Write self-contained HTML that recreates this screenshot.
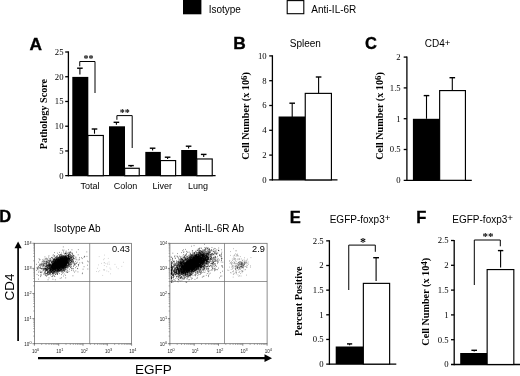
<!DOCTYPE html><html><head><meta charset="utf-8"><title>Figure</title><style>html,body{margin:0;padding:0;background:#fff}svg{display:block;filter:blur(0.3px)}text{font-family:"Liberation Sans",sans-serif;fill:#000}.s{font-family:"Liberation Serif",serif}.sb{font-family:"Liberation Serif",serif;font-weight:bold}.b{font-weight:bold}</style></head><body>
<svg width="520" height="376" viewBox="0 0 520 376">
<rect width="520" height="376" fill="#fff"/>
<rect x="183" y="0" width="18.4" height="14.3" fill="#000"/>
<rect x="287.2" y="0.6" width="16.6" height="13.1" fill="#fff" stroke="#000" stroke-width="1.1"/>
<text x="208.7" y="12.6" font-size="10">Isotype</text>
<text x="311.3" y="12.6" font-size="10">Anti-IL-6R</text>
<text transform="translate(29.6 50) scale(1.05 1)" font-size="16.5" class="b" stroke="#000" stroke-width="0.35">A</text>
<path d="M68.4 51.35L68.4 176.35" stroke="#000" stroke-width="1.3" fill="none"/>
<path d="M65.2 175.7L215.6 175.7" stroke="#000" stroke-width="1.3" fill="none"/>
<text x="63.5" y="178.6" font-size="8.7" class="s" text-anchor="end">0</text>
<path d="M65.2 150.96L68.4 150.96" stroke="#000" stroke-width="1.3" fill="none"/>
<text x="63.5" y="153.86" font-size="8.7" class="s" text-anchor="end">5</text>
<path d="M65.2 126.22L68.4 126.22" stroke="#000" stroke-width="1.3" fill="none"/>
<text x="63.5" y="129.12" font-size="8.7" class="s" text-anchor="end">10</text>
<path d="M65.2 101.48L68.4 101.48" stroke="#000" stroke-width="1.3" fill="none"/>
<text x="63.5" y="104.38" font-size="8.7" class="s" text-anchor="end">15</text>
<path d="M65.2 76.74L68.4 76.74" stroke="#000" stroke-width="1.3" fill="none"/>
<text x="63.5" y="79.64" font-size="8.7" class="s" text-anchor="end">20</text>
<path d="M65.2 52L68.4 52" stroke="#000" stroke-width="1.3" fill="none"/>
<text x="63.5" y="54.9" font-size="8.7" class="s" text-anchor="end">25</text>
<text transform="translate(47.4 114) rotate(-90)" font-size="10.2" class="sb" text-anchor="middle">Pathology Score</text>
<rect x="72.3" y="76.9" width="16" height="98.8" fill="#000"/>
<rect x="87.95" y="135.47" width="15.38" height="40.22" fill="#fff" stroke="#000" stroke-width="1.15"/>
<rect x="109" y="126.3" width="16" height="49.4" fill="#000"/>
<rect x="124.65" y="168.28" width="14.58" height="7.42" fill="#fff" stroke="#000" stroke-width="1.15"/>
<rect x="145.3" y="151.9" width="15.5" height="23.8" fill="#000"/>
<rect x="160.45" y="160.57" width="15.17" height="15.12" fill="#fff" stroke="#000" stroke-width="1.15"/>
<rect x="181.2" y="150" width="16" height="25.7" fill="#000"/>
<rect x="196.85" y="158.97" width="15.38" height="16.72" fill="#fff" stroke="#000" stroke-width="1.15"/>
<path d="M79.9 68.2L79.9 74.5" stroke="#000" stroke-width="1.1" fill="none"/>
<path d="M77.1 68.2L82.7 68.2" stroke="#000" stroke-width="1.4" fill="none"/>
<path d="M94.5 129L94.5 133.7" stroke="#000" stroke-width="1.1" fill="none"/>
<path d="M91.7 129L97.3 129" stroke="#000" stroke-width="1.4" fill="none"/>
<path d="M116.4 122.3L116.4 124.8" stroke="#000" stroke-width="1.1" fill="none"/>
<path d="M113.6 122.3L119.2 122.3" stroke="#000" stroke-width="1.4" fill="none"/>
<path d="M131 165.6L131 167" stroke="#000" stroke-width="1.1" fill="none"/>
<path d="M128.2 165.6L133.8 165.6" stroke="#000" stroke-width="1.4" fill="none"/>
<path d="M152.6 148.2L152.6 150.4" stroke="#000" stroke-width="1.1" fill="none"/>
<path d="M149.8 148.2L155.4 148.2" stroke="#000" stroke-width="1.4" fill="none"/>
<path d="M167.6 157.2L167.6 159" stroke="#000" stroke-width="1.1" fill="none"/>
<path d="M164.8 157.2L170.4 157.2" stroke="#000" stroke-width="1.4" fill="none"/>
<path d="M188.6 146.2L188.6 148.6" stroke="#000" stroke-width="1.1" fill="none"/>
<path d="M185.8 146.2L191.4 146.2" stroke="#000" stroke-width="1.4" fill="none"/>
<path d="M203.7 154.4L203.7 157" stroke="#000" stroke-width="1.1" fill="none"/>
<path d="M200.9 154.4L206.5 154.4" stroke="#000" stroke-width="1.4" fill="none"/>
<path d="M79.75 66.3L79.75 61.5L95 61.5L95 93" stroke="#000" stroke-width="1.0" fill="none"/>
<path d="M116.9 119.8L116.9 115.6L132.2 115.6L132.2 148" stroke="#000" stroke-width="1.0" fill="none"/>
<text x="88.4" y="61.6" font-size="10" class="sb" text-anchor="middle">**</text>
<text x="124.8" y="115.8" font-size="10" class="sb" text-anchor="middle">**</text>
<text x="90" y="188.7" font-size="9" text-anchor="middle">Total</text>
<text x="125.6" y="188.7" font-size="9" text-anchor="middle">Colon</text>
<text x="162.2" y="188.7" font-size="9" text-anchor="middle">Liver</text>
<text x="198" y="188.7" font-size="9" text-anchor="middle">Lung</text>
<text transform="translate(233.2 49) scale(1.05 1)" font-size="16.5" class="b" stroke="#000" stroke-width="0.35">B</text>
<text x="289.8" y="46.8" font-size="10">Spleen</text>
<path d="M272.4 55.25L272.4 180.55" stroke="#000" stroke-width="1.3" fill="none"/>
<path d="M269.2 179.9L337.5 179.9" stroke="#000" stroke-width="1.3" fill="none"/>
<text x="266.7" y="182.8" font-size="8.7" class="s" text-anchor="end">0</text>
<path d="M269.2 155.1L272.4 155.1" stroke="#000" stroke-width="1.3" fill="none"/>
<text x="266.7" y="158" font-size="8.7" class="s" text-anchor="end">2</text>
<path d="M269.2 130.3L272.4 130.3" stroke="#000" stroke-width="1.3" fill="none"/>
<text x="266.7" y="133.2" font-size="8.7" class="s" text-anchor="end">4</text>
<path d="M269.2 105.5L272.4 105.5" stroke="#000" stroke-width="1.3" fill="none"/>
<text x="266.7" y="108.4" font-size="8.7" class="s" text-anchor="end">6</text>
<path d="M269.2 80.7L272.4 80.7" stroke="#000" stroke-width="1.3" fill="none"/>
<text x="266.7" y="83.6" font-size="8.7" class="s" text-anchor="end">8</text>
<path d="M269.2 55.9L272.4 55.9" stroke="#000" stroke-width="1.3" fill="none"/>
<text x="266.7" y="58.8" font-size="8.7" class="s" text-anchor="end">10</text>
<text transform="translate(248.7 116) rotate(-90)" font-size="10.2" class="sb" text-anchor="middle">Cell Number (x 10<tspan font-size="8.8" dy="-2">6</tspan><tspan dy="2">)</tspan></text>
<rect x="278.6" y="116.5" width="27" height="63.4" fill="#000"/>
<rect x="305.25" y="93.38" width="26.17" height="86.52" fill="#fff" stroke="#000" stroke-width="1.15"/>
<path d="M292.2 103.2L292.2 117" stroke="#000" stroke-width="1.1" fill="none"/>
<path d="M289.4 103.2L295 103.2" stroke="#000" stroke-width="1.4" fill="none"/>
<path d="M318.6 77L318.6 93.25" stroke="#000" stroke-width="1.1" fill="none"/>
<path d="M315.8 77L321.4 77" stroke="#000" stroke-width="1.4" fill="none"/>
<text transform="translate(365 49.2) scale(1.0 1)" font-size="16.5" class="b" stroke="#000" stroke-width="0.35">C</text>
<text x="424.8" y="46.8" font-size="10">CD4<tspan font-size="9.6" dy="-1.3">+</tspan></text>
<path d="M406.9 56.45L406.9 180.95" stroke="#000" stroke-width="1.3" fill="none"/>
<path d="M403.7 180.3L471.8 180.3" stroke="#000" stroke-width="1.3" fill="none"/>
<text x="400.7" y="183.2" font-size="8.7" class="s" text-anchor="end">0</text>
<path d="M403.7 149.5L406.9 149.5" stroke="#000" stroke-width="1.3" fill="none"/>
<text x="400.7" y="152.4" font-size="8.7" class="s" text-anchor="end">0.5</text>
<path d="M403.7 118.7L406.9 118.7" stroke="#000" stroke-width="1.3" fill="none"/>
<text x="400.7" y="121.6" font-size="8.7" class="s" text-anchor="end">1</text>
<path d="M403.7 87.9L406.9 87.9" stroke="#000" stroke-width="1.3" fill="none"/>
<text x="400.7" y="90.8" font-size="8.7" class="s" text-anchor="end">1.5</text>
<path d="M403.7 57.1L406.9 57.1" stroke="#000" stroke-width="1.3" fill="none"/>
<text x="400.7" y="60" font-size="8.7" class="s" text-anchor="end">2</text>
<text transform="translate(382.5 116) rotate(-90)" font-size="10.2" class="sb" text-anchor="middle">Cell Number (x 10<tspan font-size="8.8" dy="-2">6</tspan><tspan dy="2">)</tspan></text>
<rect x="412.9" y="118.8" width="27.1" height="61.5" fill="#000"/>
<rect x="439.65" y="90.58" width="25.78" height="89.73" fill="#fff" stroke="#000" stroke-width="1.15"/>
<path d="M426.5 95.6L426.5 118.75" stroke="#000" stroke-width="1.1" fill="none"/>
<path d="M423.7 95.6L429.3 95.6" stroke="#000" stroke-width="1.4" fill="none"/>
<path d="M452.3 77.7L452.3 90.5" stroke="#000" stroke-width="1.1" fill="none"/>
<path d="M449.5 77.7L455.1 77.7" stroke="#000" stroke-width="1.4" fill="none"/>
<text transform="translate(-0.7 222) scale(1.0 1)" font-size="16.5" class="b" stroke="#000" stroke-width="0.35">D</text>
<text x="53.8" y="231.9" font-size="10">Isotype Ab</text>
<text x="184.5" y="231.9" font-size="10">Anti-IL-6R Ab</text>
<text transform="translate(13.5 287) rotate(-90)" font-size="13.5" text-anchor="middle">CD4</text>
<path d="M18.1 247L18.1 341" stroke="#000" stroke-width="1.7" fill="none"/>
<path d="M18.1 241.6L21.7 248.3L14.5 248.3Z" fill="#000"/>
<path d="M38 358.2L266 358.2" stroke="#000" stroke-width="2.3" fill="none"/>
<path d="M272 358.2L264.5 354.3L264.5 362.1Z" fill="#000"/>
<text x="135" y="374.4" font-size="13.5">EGFP</text>
<path d="M53.2 268.5h.7M57.6 263.2h.7M64.4 260.9h.7M61.2 268.8h.7M55.4 262.0h.7M52.4 266.4h.7M64.1 263.7h.7M68.0 264.8h.7M68.9 260.1h.7M67.2 261.3h.7M58.5 267.3h.7M60.0 262.9h.7M70.8 259.5h.7M57.6 264.8h.7M70.9 256.0h.7M64.5 262.9h.7M63.4 263.5h.7M57.0 263.9h.7M58.7 263.2h.7M66.3 265.0h.7M56.6 267.6h.7M54.3 264.8h.7M59.1 264.6h.7M53.9 258.4h.7M66.3 258.7h.7M58.1 267.2h.7M54.9 261.8h.7M63.1 263.1h.7M57.4 268.1h.7M60.1 259.6h.7M68.9 259.0h.7M55.3 268.1h.7M62.2 265.6h.7M55.2 270.2h.7M65.7 262.5h.7M65.0 265.0h.7M63.7 261.7h.7M57.7 268.9h.7M65.2 261.4h.7M61.9 264.9h.7M48.4 271.9h.7M48.4 271.7h.7M68.1 265.1h.7M58.4 266.1h.7M56.2 258.2h.7M63.5 261.3h.7M58.9 261.0h.7M59.9 263.9h.7M66.6 260.5h.7M76.2 252.1h.7M58.6 264.2h.7M58.5 269.8h.7M61.1 258.5h.7M62.3 266.1h.7M53.4 268.2h.7M62.5 270.1h.7M61.4 261.3h.7M60.2 270.0h.7M61.3 270.7h.7M52.2 267.8h.7M57.8 262.5h.7M60.1 265.9h.7M54.6 262.0h.7M68.8 263.2h.7M57.2 266.4h.7M49.2 273.9h.7M52.7 266.2h.7M68.4 253.9h.7M58.4 260.8h.7M49.3 266.2h.7M59.3 259.5h.7M58.3 267.2h.7M57.2 260.8h.7M67.4 259.4h.7M65.1 256.7h.7M66.0 255.1h.7M50.9 267.8h.7M58.6 265.3h.7M58.3 266.8h.7M65.4 257.9h.7M52.7 266.7h.7M65.2 263.1h.7M56.8 262.2h.7M61.4 266.0h.7M58.6 269.0h.7M61.5 263.6h.7M59.1 268.9h.7M57.9 259.7h.7M63.3 260.1h.7M65.4 260.8h.7M57.2 265.9h.7M56.3 263.0h.7M61.4 265.6h.7M60.2 263.1h.7M58.2 266.7h.7M62.8 265.1h.7M65.1 267.8h.7M52.3 268.2h.7M63.9 264.2h.7M50.7 265.1h.7M61.4 266.3h.7M62.9 256.5h.7M62.4 266.1h.7M58.5 260.9h.7M54.4 262.4h.7M65.3 259.3h.7M56.5 262.7h.7M57.9 261.7h.7M55.2 266.4h.7M59.6 265.4h.7M62.5 266.1h.7M60.2 264.4h.7M59.8 260.9h.7M64.8 258.6h.7M54.3 271.4h.7M62.2 260.2h.7M66.0 263.1h.7M61.5 258.6h.7M59.2 260.5h.7M56.1 264.0h.7M56.7 267.3h.7M57.1 267.5h.7M59.8 261.6h.7M61.8 264.8h.7M65.0 259.5h.7M69.2 259.8h.7M63.8 256.5h.7M56.8 269.8h.7M59.6 265.4h.7M63.5 256.4h.7M65.1 267.0h.7M63.9 261.4h.7M62.7 261.9h.7M65.7 264.5h.7M59.8 265.7h.7M62.6 264.5h.7M62.3 258.4h.7M66.9 262.2h.7M54.3 266.1h.7M52.5 267.2h.7M59.7 259.7h.7M54.9 263.7h.7M55.4 263.7h.7M55.7 268.2h.7M57.7 262.2h.7M63.8 259.2h.7M62.3 257.8h.7M66.0 258.3h.7M56.1 267.4h.7M51.9 264.9h.7M60.3 261.7h.7M62.1 262.7h.7M61.4 263.2h.7M63.4 261.5h.7M66.7 262.6h.7M47.8 265.1h.7M66.7 257.8h.7M60.7 262.7h.7M64.7 268.2h.7M56.7 265.9h.7M58.3 260.9h.7M55.4 265.5h.7M60.5 264.6h.7M48.2 265.6h.7M67.5 258.2h.7M63.2 260.1h.7M59.8 270.9h.7M52.6 265.0h.7M63.2 261.6h.7M52.3 268.8h.7M61.1 257.6h.7M58.5 267.2h.7M65.5 252.1h.7M56.7 265.7h.7M54.2 264.1h.7M58.3 266.3h.7M56.2 268.9h.7M65.2 263.2h.7M66.5 257.7h.7M61.2 266.2h.7M67.4 262.1h.7M57.0 263.7h.7M53.0 266.4h.7M54.9 265.0h.7M59.4 266.8h.7M63.9 260.9h.7M54.4 266.9h.7M63.3 264.4h.7M62.2 265.0h.7M57.8 267.1h.7M62.9 260.5h.7M58.2 268.9h.7M56.2 268.2h.7M58.1 263.5h.7M58.0 263.2h.7M62.5 268.1h.7M66.6 258.9h.7M63.6 264.4h.7M60.7 269.4h.7M61.0 265.0h.7M53.7 263.7h.7M54.2 265.0h.7M64.4 259.7h.7M63.5 259.9h.7M55.6 266.8h.7M55.5 260.7h.7M62.0 266.4h.7M57.1 261.2h.7M54.4 262.8h.7M57.3 262.0h.7M59.7 264.3h.7M64.4 256.8h.7M52.7 273.7h.7M61.4 261.4h.7M60.9 259.8h.7M59.3 266.3h.7M58.6 264.8h.7M62.2 262.6h.7M59.6 265.6h.7M68.2 262.8h.7M56.9 268.1h.7M48.7 265.8h.7M62.7 263.7h.7M63.8 255.3h.7M64.2 259.0h.7M58.4 266.1h.7M65.2 257.1h.7M50.9 267.2h.7M61.2 266.9h.7M61.2 261.8h.7M56.8 263.9h.7M62.0 256.6h.7M55.3 263.5h.7M65.4 260.6h.7M57.9 267.4h.7M70.8 260.3h.7M53.4 266.9h.7M62.5 255.8h.7M53.4 266.2h.7M61.1 260.0h.7M60.4 262.7h.7M59.6 259.7h.7M46.0 264.9h.7M62.2 265.5h.7M59.7 258.2h.7M51.2 268.0h.7M52.7 261.8h.7M55.9 263.4h.7M59.9 264.9h.7M61.0 263.5h.7M62.2 261.8h.7M57.2 264.1h.7M65.0 259.4h.7M66.2 265.3h.7M64.8 253.1h.7M62.0 265.6h.7M56.6 263.2h.7M52.0 266.2h.7M56.9 259.0h.7M58.5 261.6h.7M58.2 260.9h.7M60.4 263.7h.7M55.5 264.0h.7M65.3 262.3h.7M56.8 267.0h.7M53.5 265.7h.7M45.1 270.9h.7M62.3 260.4h.7M61.6 260.3h.7M61.0 262.3h.7M58.4 271.6h.7M53.7 262.8h.7M61.1 264.4h.7M61.3 262.3h.7M63.4 264.5h.7M60.6 258.4h.7M67.9 258.4h.7M51.3 271.7h.7M59.5 264.7h.7M68.4 256.4h.7M55.3 263.0h.7M61.7 264.7h.7M61.9 262.8h.7M50.1 270.5h.7M64.1 259.1h.7M55.7 262.7h.7M58.5 259.0h.7M68.6 257.4h.7M55.1 262.4h.7M63.8 264.4h.7M57.4 265.7h.7M62.7 265.1h.7M64.6 264.8h.7M57.1 274.2h.7M55.7 262.3h.7M56.0 267.3h.7M67.2 267.3h.7M64.4 258.1h.7M57.5 263.5h.7M56.7 264.9h.7M58.7 268.3h.7M62.3 264.1h.7M57.3 261.2h.7M61.3 261.3h.7M71.1 260.7h.7M52.5 264.8h.7M56.9 264.7h.7M65.0 259.8h.7M61.5 261.4h.7M60.7 267.3h.7M62.9 268.4h.7M60.2 264.7h.7M62.7 264.0h.7M67.9 256.2h.7M55.9 262.8h.7M69.1 259.4h.7M62.7 263.4h.7M52.2 271.0h.7M60.9 264.0h.7M60.1 263.1h.7M58.6 262.4h.7M59.7 265.8h.7M51.1 271.9h.7M61.2 259.1h.7M62.7 262.8h.7M59.9 269.3h.7M60.5 262.7h.7M57.0 272.8h.7M61.3 263.7h.7M61.9 269.4h.7M61.5 267.9h.7M66.3 262.9h.7M64.6 264.5h.7M56.1 258.8h.7M48.8 274.3h.7M52.1 273.0h.7M71.6 249.8h.7M63.4 262.9h.7M53.4 260.8h.7M62.0 268.0h.7M59.3 263.9h.7M60.3 263.4h.7M64.7 268.3h.7M52.9 261.7h.7M63.0 259.8h.7M55.3 261.7h.7M58.3 263.1h.7M61.2 261.3h.7M53.7 269.1h.7M56.5 259.2h.7M59.4 266.5h.7M59.0 263.0h.7M61.6 260.3h.7M57.3 266.9h.7M58.1 262.5h.7M61.3 263.6h.7M65.8 263.3h.7M60.2 263.3h.7M55.7 266.8h.7M59.4 266.7h.7M64.6 262.8h.7M60.1 264.6h.7M69.6 263.3h.7M52.7 258.4h.7M60.4 258.0h.7M60.8 264.6h.7M66.6 258.7h.7M58.4 262.5h.7M59.4 259.7h.7M63.0 262.8h.7M65.8 258.8h.7M61.7 263.1h.7M58.3 261.3h.7M57.3 265.4h.7M63.8 264.7h.7M57.4 266.0h.7M64.1 263.9h.7M61.3 263.4h.7M58.3 264.7h.7M56.3 259.9h.7M52.8 259.8h.7M63.6 264.3h.7M58.4 265.1h.7M60.2 262.5h.7M66.5 258.8h.7M61.3 262.5h.7M66.8 253.7h.7M58.8 259.7h.7M55.0 263.4h.7M61.9 258.7h.7M54.6 265.8h.7M53.9 264.0h.7M66.3 257.3h.7M58.2 269.3h.7M62.0 266.1h.7M51.7 267.7h.7M62.5 262.7h.7M64.4 265.0h.7M64.3 264.5h.7M62.3 259.5h.7M62.8 266.2h.7M56.2 267.7h.7M64.9 265.0h.7M55.6 274.3h.7M52.6 268.2h.7M69.8 252.8h.7M71.0 257.6h.7M71.2 261.5h.7M59.4 261.2h.7M56.4 261.3h.7M54.0 268.6h.7M53.6 268.8h.7M59.4 263.5h.7M53.1 263.6h.7M62.2 258.9h.7M56.9 264.9h.7M66.1 266.4h.7M70.4 259.7h.7M64.1 263.2h.7M58.6 263.7h.7M52.6 270.1h.7M58.1 266.0h.7M71.8 259.1h.7M66.7 262.3h.7M56.3 263.6h.7M52.1 266.5h.7M61.7 264.8h.7M62.1 261.0h.7M54.6 267.1h.7M58.3 257.8h.7M58.1 259.8h.7M57.5 264.6h.7M54.4 265.2h.7M58.4 261.1h.7M64.1 263.2h.7M60.8 259.4h.7M58.4 263.4h.7M61.6 265.1h.7M57.4 265.2h.7M63.2 260.4h.7M63.2 261.4h.7M53.1 267.7h.7M59.9 262.1h.7M68.3 257.0h.7M52.7 267.5h.7M59.6 265.5h.7M72.0 256.4h.7M62.6 259.4h.7M54.3 264.6h.7M58.2 263.1h.7M58.8 262.0h.7M53.0 265.2h.7M61.8 258.5h.7M66.0 265.3h.7M56.8 268.5h.7M59.7 254.6h.7M64.9 262.7h.7M58.8 270.2h.7M53.4 272.1h.7M59.5 260.3h.7M58.0 259.5h.7M63.5 263.1h.7M67.8 263.4h.7M57.3 266.9h.7M52.4 258.3h.7M66.1 263.6h.7M63.5 267.2h.7M56.9 259.5h.7M57.2 264.3h.7M60.5 261.8h.7M47.3 267.2h.7M60.8 266.8h.7M54.6 262.4h.7M58.9 267.3h.7M64.2 257.5h.7M65.1 264.8h.7M61.9 258.5h.7M61.9 260.6h.7M60.3 269.8h.7M60.4 264.9h.7M68.1 264.0h.7M60.2 261.3h.7M58.5 262.1h.7M59.0 263.7h.7M51.5 266.1h.7M53.0 267.7h.7M64.7 263.0h.7M59.2 260.7h.7M57.4 260.4h.7M60.1 258.1h.7M59.4 269.7h.7M60.3 260.0h.7M57.2 261.7h.7M55.3 264.9h.7M56.1 266.6h.7M63.6 258.3h.7M54.1 264.4h.7M57.0 265.7h.7M55.3 263.4h.7M58.1 268.0h.7M66.0 263.3h.7M59.2 260.7h.7M69.7 265.0h.7M55.7 264.0h.7M66.0 262.1h.7M64.9 267.5h.7M57.7 262.2h.7M58.4 265.2h.7M62.6 266.1h.7M62.3 259.5h.7M63.0 260.9h.7M68.7 261.9h.7M57.8 266.7h.7M54.3 268.6h.7M60.8 264.5h.7M52.7 265.1h.7M56.8 264.7h.7M61.7 259.6h.7M49.3 268.2h.7M64.7 263.4h.7M54.7 269.0h.7M61.4 265.1h.7M62.5 266.2h.7M59.7 271.1h.7M63.2 257.4h.7M53.9 270.8h.7M51.1 266.3h.7M61.8 261.8h.7M57.1 257.8h.7M56.9 267.1h.7M70.2 258.4h.7M60.1 263.8h.7M65.5 262.1h.7M52.4 261.4h.7M58.0 263.3h.7M67.1 256.0h.7M60.2 256.4h.7M61.4 258.1h.7M59.5 263.0h.7M60.1 263.3h.7M55.1 268.5h.7M55.3 266.1h.7M55.5 266.1h.7M58.8 263.5h.7M57.7 269.0h.7M58.9 264.3h.7M50.1 271.6h.7M51.7 267.8h.7M52.7 274.4h.7M50.7 268.2h.7M51.6 264.2h.7M53.4 272.4h.7M69.6 256.9h.7M62.7 260.0h.7M57.2 271.3h.7M60.8 258.9h.7M58.9 263.9h.7M58.0 264.2h.7M56.2 265.4h.7M57.0 264.1h.7M58.2 269.7h.7M57.1 264.4h.7M60.7 262.9h.7M54.6 269.6h.7M52.6 265.6h.7M61.1 261.9h.7M56.0 265.8h.7M54.4 264.7h.7M51.8 264.1h.7M54.7 266.7h.7M56.7 264.8h.7M62.9 259.8h.7M50.6 269.3h.7M63.3 251.2h.7M56.4 261.6h.7M53.4 270.1h.7M59.0 263.7h.7M52.3 266.3h.7M56.3 270.7h.7M56.0 258.8h.7M60.1 268.2h.7M55.2 265.3h.7M59.7 265.0h.7M60.6 260.7h.7M58.6 266.4h.7M53.9 265.8h.7M60.5 262.0h.7M57.2 270.6h.7M59.6 262.4h.7M47.2 275.0h.7M63.6 260.7h.7M58.2 261.5h.7M70.3 259.9h.7M73.5 262.5h.7M51.7 270.6h.7M50.1 270.7h.7M58.7 262.1h.7M62.7 262.0h.7M57.4 264.0h.7M64.5 262.1h.7M64.0 261.9h.7M56.6 263.8h.7M59.5 261.2h.7M57.7 267.5h.7M60.2 262.4h.7M59.9 262.1h.7M65.3 259.3h.7M57.9 260.6h.7M54.2 262.5h.7M62.4 263.7h.7M61.9 260.9h.7M60.3 264.4h.7M55.2 260.6h.7M69.6 259.0h.7M65.1 262.9h.7M56.0 265.7h.7M58.8 267.7h.7M59.3 261.3h.7M65.3 269.4h.7M60.2 264.9h.7M68.1 255.1h.7M62.8 265.7h.7M61.7 260.2h.7M59.6 263.9h.7M65.7 263.3h.7M50.3 269.6h.7M56.6 266.5h.7M58.2 265.7h.7M52.8 268.6h.7M64.1 265.0h.7M67.0 259.0h.7M58.9 268.6h.7M61.9 263.3h.7M60.1 258.3h.7M54.0 264.1h.7M56.7 270.7h.7M50.6 268.7h.7M57.9 261.7h.7M60.2 260.4h.7M50.9 264.7h.7M65.4 258.6h.7M61.4 264.4h.7M60.5 260.5h.7M65.1 263.8h.7M54.2 269.8h.7M63.8 264.7h.7M62.2 261.4h.7M57.1 267.5h.7M62.1 263.5h.7M59.1 267.9h.7M65.7 263.5h.7M57.8 266.8h.7M62.3 257.4h.7M56.6 266.4h.7M52.7 267.7h.7M57.9 259.7h.7M62.5 261.9h.7M65.6 259.8h.7M57.3 265.0h.7M58.9 257.9h.7M59.4 266.3h.7M63.9 262.3h.7M54.4 266.6h.7M61.9 262.3h.7M63.4 267.7h.7M68.2 256.8h.7M55.3 266.5h.7M64.4 257.1h.7M53.3 263.4h.7M64.3 259.1h.7M61.9 267.8h.7M62.3 260.9h.7M55.4 270.1h.7M59.7 262.5h.7M59.9 261.1h.7M61.1 263.5h.7M55.0 267.4h.7M64.9 265.3h.7M67.2 266.1h.7M64.0 260.9h.7M61.6 262.6h.7M55.1 265.8h.7M59.0 260.6h.7M60.5 265.1h.7M67.6 258.3h.7M57.3 262.9h.7M53.1 269.7h.7M56.4 263.5h.7M56.9 270.4h.7M66.9 260.7h.7M56.4 261.7h.7M48.4 268.2h.7M58.4 269.5h.7M55.9 260.5h.7M67.3 261.0h.7M58.5 265.6h.7M62.2 260.6h.7M56.0 266.5h.7M63.5 263.0h.7M53.1 264.5h.7M58.8 262.2h.7M61.2 269.0h.7M51.6 267.8h.7M55.3 267.2h.7M69.2 259.0h.7M64.6 257.5h.7M63.2 266.1h.7M56.9 262.8h.7M54.8 271.7h.7M61.3 267.3h.7M60.8 263.1h.7M64.0 261.7h.7M64.5 258.7h.7M57.1 265.4h.7M57.1 264.6h.7M64.2 262.1h.7M62.0 268.1h.7M52.6 266.1h.7M60.4 266.5h.7M63.5 263.1h.7M66.7 259.0h.7M58.1 268.7h.7M65.6 256.6h.7M56.8 265.1h.7M61.6 262.8h.7M60.8 257.5h.7M55.0 261.3h.7M65.2 263.6h.7M60.9 262.9h.7M59.2 263.7h.7M56.7 267.2h.7M61.7 260.0h.7M63.9 265.9h.7M70.7 264.6h.7M70.4 252.0h.7M56.8 263.9h.7M64.3 265.9h.7M53.7 269.3h.7M63.2 265.7h.7M61.1 260.5h.7M60.3 261.6h.7M58.6 263.4h.7M60.4 264.5h.7M63.4 265.3h.7M60.4 257.4h.7M62.2 260.7h.7M63.7 259.7h.7M53.8 262.6h.7M60.4 265.9h.7M56.3 267.0h.7M55.4 259.5h.7M58.5 263.4h.7M59.6 258.1h.7M62.6 261.5h.7M63.4 259.9h.7M56.3 264.9h.7M61.3 266.2h.7M55.9 265.0h.7M54.4 265.7h.7M63.2 266.3h.7M59.5 264.5h.7M61.6 266.0h.7M58.0 263.8h.7M60.8 262.0h.7M60.7 262.7h.7M59.5 266.6h.7M58.2 263.2h.7M64.8 266.6h.7M60.8 262.3h.7M64.0 262.7h.7M56.9 269.3h.7M65.2 258.4h.7M59.0 266.1h.7M61.6 262.9h.7M63.6 256.0h.7M58.2 266.3h.7M61.1 260.9h.7M53.3 271.6h.7M64.3 261.2h.7M62.9 265.1h.7M69.2 254.3h.7M56.9 258.7h.7M55.9 269.9h.7M55.1 259.1h.7M55.9 271.0h.7M63.9 265.2h.7M66.3 257.7h.7M58.9 262.0h.7M56.9 268.5h.7M59.8 261.2h.7M51.5 267.3h.7M57.2 262.7h.7M64.2 262.7h.7M63.7 265.2h.7M58.2 264.4h.7M68.1 255.4h.7M62.2 264.6h.7M60.8 262.7h.7M63.4 264.1h.7M60.2 262.3h.7M51.4 267.8h.7M54.9 263.9h.7M53.4 263.2h.7M56.1 266.1h.7M51.8 263.9h.7M66.5 262.1h.7M57.7 265.9h.7M59.4 265.0h.7M60.6 259.1h.7M52.1 271.0h.7M60.6 260.0h.7M66.3 260.4h.7M62.5 266.5h.7M68.2 261.9h.7M60.7 261.2h.7M60.0 262.1h.7M65.0 263.7h.7M61.6 265.8h.7M56.1 270.1h.7M58.1 257.6h.7M61.2 265.3h.7M60.7 259.9h.7M65.1 262.9h.7M62.4 266.8h.7M57.9 265.9h.7M56.5 258.4h.7M62.5 263.8h.7M56.9 265.4h.7M64.2 259.9h.7M63.0 262.6h.7M61.6 265.0h.7M50.1 265.2h.7M56.1 268.5h.7M64.6 259.5h.7M54.8 271.4h.7M56.1 262.7h.7M60.1 261.0h.7M63.2 262.9h.7M57.7 270.7h.7M60.3 264.6h.7M68.1 262.3h.7M48.0 270.8h.7M59.1 265.6h.7M65.3 265.3h.7M50.5 269.2h.7M64.3 259.4h.7M69.1 261.3h.7M62.9 258.6h.7M51.0 267.8h.7M59.3 264.4h.7M64.4 259.6h.7M57.2 271.2h.7M63.0 259.5h.7M52.9 254.7h.7M53.9 266.8h.7M61.7 261.6h.7M57.8 262.6h.7M58.4 269.8h.7M70.7 260.3h.7M54.1 259.4h.7M61.6 258.6h.7M58.4 265.3h.7M65.3 257.0h.7M59.2 266.5h.7M63.6 260.5h.7M62.3 264.2h.7M54.7 260.7h.7M61.2 267.8h.7M52.7 265.1h.7M66.3 264.6h.7M61.9 263.2h.7M49.5 265.6h.7M53.4 261.3h.7M62.2 258.0h.7M69.0 253.6h.7M60.4 261.5h.7M60.1 267.0h.7M54.1 266.0h.7M63.6 258.1h.7M70.2 252.2h.7M63.8 261.8h.7M61.8 262.1h.7M58.2 266.0h.7M55.6 262.9h.7M65.1 253.7h.7M61.9 260.3h.7M46.2 263.7h.7M56.0 267.6h.7M65.7 259.5h.7M65.9 260.0h.7M60.9 263.5h.7M63.7 257.2h.7M52.7 272.6h.7M60.5 264.2h.7M65.5 261.4h.7M61.6 267.4h.7M64.7 259.8h.7M60.2 261.8h.7M58.1 262.3h.7M61.9 258.9h.7M57.9 267.4h.7M63.1 266.9h.7M57.2 265.4h.7M60.3 266.5h.7M60.1 265.4h.7M51.8 266.9h.7M67.0 259.2h.7M63.2 265.2h.7M59.9 260.8h.7M60.2 262.0h.7M59.7 263.8h.7M65.7 264.2h.7M65.8 257.2h.7M63.0 266.1h.7M56.2 263.7h.7M69.6 260.1h.7M63.0 260.2h.7M68.1 262.1h.7M60.7 264.0h.7M62.8 261.5h.7M62.4 266.9h.7M56.3 260.9h.7M67.6 265.0h.7M58.3 266.2h.7M59.5 261.4h.7M57.0 266.5h.7M52.2 269.2h.7M76.9 262.2h.7M50.4 269.3h.7M55.8 267.0h.7M57.8 264.3h.7M61.2 264.3h.7M62.4 264.3h.7M67.8 265.3h.7M63.5 262.0h.7M66.3 261.3h.7M62.9 258.7h.7M55.1 270.3h.7M52.1 265.2h.7M57.9 262.1h.7M63.9 262.2h.7M64.2 266.3h.7M60.2 262.3h.7M53.6 265.4h.7M56.8 266.3h.7M68.1 258.1h.7M57.9 258.4h.7M67.1 255.7h.7M58.9 259.1h.7M64.1 261.4h.7M57.9 269.9h.7M67.7 259.7h.7M58.1 265.4h.7M57.9 266.7h.7M56.9 263.0h.7M62.8 267.9h.7M54.8 270.2h.7M63.8 263.5h.7M62.4 264.2h.7M50.0 269.4h.7M50.0 269.5h.7M59.3 264.9h.7M60.7 260.6h.7M60.0 268.4h.7M65.5 259.9h.7M56.2 265.6h.7M64.4 262.0h.7M63.0 265.7h.7M63.1 263.4h.7M59.9 264.3h.7M59.6 260.6h.7M55.3 261.0h.7M56.8 261.4h.7M63.8 265.4h.7M58.8 266.5h.7M61.8 256.1h.7M63.1 255.5h.7M50.9 265.0h.7M50.3 264.3h.7M61.6 264.4h.7M64.5 262.5h.7M65.6 259.4h.7M60.4 267.9h.7M58.8 268.4h.7M56.3 260.3h.7M54.7 264.9h.7M61.2 264.0h.7M64.1 262.7h.7M62.6 256.1h.7M64.6 265.7h.7M57.7 267.3h.7M63.6 258.5h.7M48.6 268.0h.7M60.0 266.2h.7M63.5 263.1h.7M58.7 263.0h.7M56.9 265.3h.7M58.1 264.5h.7M55.3 263.1h.7M61.1 260.8h.7M65.1 263.9h.7M58.6 272.0h.7M51.6 263.3h.7M52.4 264.9h.7M61.5 266.6h.7M63.6 266.1h.7M50.7 271.7h.7M52.0 265.3h.7M73.2 261.3h.7M59.0 261.4h.7M54.6 262.0h.7M58.7 266.6h.7M62.3 262.9h.7M58.6 266.6h.7M65.6 266.6h.7M62.5 265.1h.7M64.5 262.9h.7M63.0 262.5h.7M62.1 258.6h.7M54.3 264.0h.7M56.9 264.2h.7M66.1 260.7h.7M60.1 264.0h.7M62.1 258.4h.7M58.6 261.4h.7M65.1 265.7h.7M62.4 264.5h.7M65.6 258.3h.7M58.9 257.9h.7M62.0 263.2h.7M62.9 269.1h.7M61.1 261.7h.7M58.0 264.4h.7M51.6 269.8h.7M56.6 266.4h.7M65.3 265.6h.7M58.5 264.2h.7M60.8 264.3h.7M57.4 265.6h.7M58.0 265.8h.7M67.5 258.7h.7M67.5 260.1h.7M67.9 262.2h.7M51.3 266.4h.7M53.2 269.4h.7M56.3 269.3h.7M60.2 265.1h.7M52.1 260.9h.7M56.4 264.0h.7M61.5 264.7h.7M55.8 267.1h.7M59.2 268.2h.7M57.0 266.0h.7M66.6 261.8h.7M65.4 263.9h.7M64.3 262.9h.7M58.6 270.4h.7M67.9 264.3h.7M59.2 266.0h.7M50.0 270.0h.7M56.6 264.6h.7M62.2 261.1h.7M59.9 258.1h.7M69.7 254.7h.7M53.5 263.4h.7M61.1 256.3h.7M58.4 270.0h.7M52.8 265.9h.7M56.8 268.8h.7M57.0 266.3h.7M56.3 264.1h.7M51.8 270.6h.7M58.5 262.9h.7M61.5 262.1h.7M60.3 264.1h.7M61.2 260.4h.7M64.2 262.2h.7M56.0 263.6h.7M64.3 261.2h.7M52.4 263.7h.7M68.0 254.8h.7M56.0 265.3h.7M57.4 271.2h.7M54.1 263.9h.7M59.5 260.5h.7M55.9 268.6h.7M66.7 264.3h.7M58.8 261.3h.7M56.3 262.9h.7M60.6 263.7h.7M59.1 266.8h.7M60.9 258.9h.7M65.7 257.6h.7M60.3 266.8h.7M61.3 260.8h.7M62.1 264.1h.7M51.6 259.9h.7M64.4 255.9h.7M62.0 270.1h.7M58.3 267.0h.7M57.9 271.5h.7M58.1 270.0h.7M62.5 267.5h.7M63.8 259.4h.7M53.6 261.5h.7M62.5 266.6h.7M59.7 264.8h.7M65.9 261.8h.7M64.6 262.9h.7M55.7 263.5h.7M58.9 261.8h.7M58.2 259.3h.7M62.7 265.3h.7M66.7 259.5h.7M66.9 267.3h.7M66.6 260.7h.7M56.4 267.5h.7M60.2 260.0h.7M53.6 261.1h.7M62.8 257.3h.7M69.8 256.4h.7M57.6 265.5h.7M62.2 263.3h.7M55.2 262.8h.7M57.0 265.4h.7M57.4 266.7h.7M65.4 261.4h.7M62.3 265.0h.7M55.9 267.4h.7M63.9 266.5h.7M65.4 258.8h.7M67.1 255.6h.7M67.5 259.7h.7M63.3 261.1h.7M57.0 260.9h.7M65.0 259.6h.7M62.2 259.4h.7M65.8 261.2h.7M58.7 265.0h.7M59.6 265.8h.7M66.0 255.5h.7M48.9 268.6h.7M55.4 269.2h.7M50.7 260.9h.7M57.3 262.5h.7M50.8 268.0h.7M59.4 261.3h.7M64.7 259.2h.7M60.9 255.2h.7M60.3 261.4h.7M57.8 265.3h.7M60.9 264.4h.7M60.5 264.7h.7M53.7 258.7h.7M55.0 260.0h.7M54.7 263.8h.7M58.7 264.5h.7M58.9 262.3h.7M61.8 260.6h.7M53.6 268.4h.7M55.4 267.5h.7M68.3 258.1h.7M65.3 264.3h.7M58.2 261.7h.7M65.5 262.8h.7M57.0 267.7h.7M58.0 263.4h.7M50.3 266.2h.7M59.7 258.5h.7M62.8 264.3h.7M57.2 273.9h.7M61.8 258.8h.7M63.0 266.8h.7M68.9 253.9h.7M62.0 260.7h.7M66.8 258.6h.7M59.7 261.8h.7M67.7 255.6h.7M54.5 262.1h.7M55.2 265.2h.7M60.3 258.1h.7M55.9 261.7h.7M60.1 259.9h.7M58.3 259.2h.7M63.2 259.7h.7M62.6 261.1h.7M53.9 266.8h.7M65.6 258.3h.7M59.3 265.7h.7M55.2 266.7h.7M58.7 267.1h.7M52.9 264.3h.7M62.0 263.2h.7M57.6 261.2h.7M60.0 261.5h.7M63.0 257.5h.7M49.4 264.5h.7M64.6 264.5h.7M62.3 261.9h.7M62.2 267.6h.7M62.0 267.8h.7M62.0 262.2h.7M55.9 264.1h.7M57.4 260.0h.7M58.2 264.1h.7M58.2 265.4h.7M56.5 266.8h.7M61.9 264.9h.7M62.7 260.9h.7M60.2 261.9h.7M55.4 263.5h.7M57.9 265.9h.7M57.1 262.6h.7M57.0 267.0h.7M56.3 265.5h.7M66.0 265.2h.7M52.1 264.1h.7M58.0 261.9h.7M64.8 259.1h.7M66.3 259.5h.7M59.3 262.8h.7M56.4 262.6h.7M63.6 264.8h.7M56.1 259.6h.7M63.7 259.5h.7M66.9 262.8h.7M55.6 269.0h.7M54.0 265.7h.7M52.9 264.0h.7M64.8 258.9h.7M56.6 268.8h.7M63.8 260.6h.7M61.5 262.6h.7M61.5 254.6h.7M57.5 265.5h.7M60.7 266.9h.7M57.8 260.1h.7M63.1 252.9h.7M59.1 266.9h.7M73.0 259.1h.7M63.2 259.9h.7M66.6 257.1h.7M58.0 259.1h.7M55.7 262.0h.7M61.1 266.3h.7M58.5 268.6h.7M62.8 268.4h.7M58.6 265.4h.7M47.2 273.3h.7M55.8 263.7h.7M61.4 263.0h.7M69.0 262.3h.7M53.1 265.1h.7M64.8 261.0h.7M62.3 268.0h.7M57.6 266.4h.7M61.0 262.7h.7M66.9 262.0h.7M62.1 260.2h.7M59.6 265.7h.7M53.6 268.6h.7M59.2 264.1h.7M59.2 268.4h.7M59.8 268.6h.7M64.2 259.9h.7M60.7 262.9h.7M60.1 264.7h.7M59.9 260.5h.7M59.9 265.8h.7M59.5 263.3h.7M58.5 263.0h.7M64.8 258.4h.7M58.4 264.6h.7M64.7 260.8h.7M56.6 260.5h.7M55.8 265.2h.7M58.1 259.8h.7M58.7 257.5h.7M61.6 261.1h.7M54.1 261.4h.7M55.0 263.5h.7M57.7 264.5h.7M53.8 261.6h.7M61.6 260.1h.7M62.8 259.6h.7M61.1 257.1h.7M54.6 269.1h.7M49.7 267.3h.7M62.4 262.1h.7M68.8 257.8h.7M66.7 259.2h.7M67.5 258.5h.7M65.3 264.9h.7M68.3 254.5h.7M49.7 264.6h.7M60.1 262.7h.7M66.3 267.3h.7M63.8 260.6h.7M68.3 260.2h.7M47.9 274.3h.7M60.3 261.8h.7M53.8 266.4h.7M70.4 257.4h.7M56.2 267.4h.7M55.0 270.2h.7M62.5 261.3h.7M61.4 258.8h.7M58.2 264.3h.7M63.5 268.2h.7M61.0 259.3h.7M58.0 262.3h.7M59.6 258.1h.7M63.4 259.2h.7M65.9 264.3h.7M62.5 257.5h.7M54.8 260.8h.7M57.4 263.8h.7M64.9 260.6h.7M60.6 260.5h.7M55.0 265.7h.7M55.2 264.6h.7M59.4 267.7h.7M61.8 270.4h.7M63.4 260.1h.7M63.8 266.7h.7M53.4 270.5h.7M68.3 259.2h.7M50.7 264.4h.7M62.0 262.6h.7M62.5 256.9h.7M62.3 266.6h.7M60.9 259.6h.7M58.2 263.3h.7M72.3 261.5h.7M58.0 264.2h.7M61.0 264.1h.7M58.5 263.0h.7M57.6 267.3h.7M63.5 260.8h.7M61.0 266.8h.7M56.8 256.0h.7M57.9 264.1h.7M60.1 262.1h.7M56.3 266.9h.7M60.4 260.0h.7M59.4 263.9h.7M63.2 272.3h.7M61.4 262.8h.7M54.1 263.9h.7M61.3 264.5h.7M56.6 264.1h.7M58.9 266.1h.7M62.3 256.9h.7M61.3 259.6h.7M56.5 268.1h.7M67.9 266.7h.7M63.6 267.3h.7M57.7 263.1h.7M62.6 258.1h.7M61.6 265.0h.7M52.5 269.1h.7M60.3 256.3h.7M56.5 267.3h.7M55.3 263.2h.7M53.9 272.9h.7M60.7 261.9h.7M59.8 264.4h.7M59.8 264.6h.7M63.2 259.5h.7M62.7 264.5h.7M56.2 263.8h.7M62.5 262.6h.7M55.9 265.7h.7M57.6 267.7h.7M60.9 260.9h.7M63.0 265.3h.7M55.1 261.7h.7M62.0 268.5h.7M66.8 259.2h.7M61.7 264.5h.7M71.5 262.2h.7M52.5 273.0h.7M62.9 260.1h.7M59.5 261.7h.7M47.8 269.8h.7M55.9 260.3h.7M59.4 263.0h.7M60.2 261.9h.7M53.7 269.3h.7M54.2 262.4h.7M63.6 260.6h.7M68.1 260.3h.7M49.8 274.1h.7M55.8 265.3h.7M57.2 262.2h.7M62.1 260.5h.7M56.3 265.0h.7M61.3 260.4h.7M60.9 263.8h.7M68.2 256.0h.7M58.3 265.4h.7M62.8 265.9h.7M62.7 262.5h.7M66.3 260.8h.7M63.1 263.7h.7M63.6 258.7h.7M62.7 267.4h.7M60.4 257.6h.7M62.9 260.6h.7M54.9 264.4h.7M59.9 261.8h.7M69.0 256.3h.7M60.8 266.9h.7M53.7 265.8h.7M57.8 265.5h.7M64.8 258.3h.7M65.8 257.0h.7M61.4 264.9h.7M62.7 264.2h.7M62.2 266.5h.7M63.5 264.7h.7M54.8 260.7h.7M50.9 272.2h.7M57.1 270.0h.7M59.3 256.5h.7M50.5 267.8h.7M59.7 260.9h.7M56.7 259.7h.7M57.1 267.6h.7M54.7 267.6h.7M45.4 269.8h.7M56.5 259.5h.7M47.1 267.4h.7M60.9 265.1h.7M63.7 257.2h.7M68.2 260.0h.7M56.3 262.1h.7M59.0 266.5h.7M60.6 262.8h.7M59.8 262.9h.7M59.4 264.3h.7M54.4 261.9h.7M53.5 268.2h.7M69.6 258.3h.7M64.0 264.9h.7M55.1 269.0h.7M64.3 259.2h.7M62.1 264.5h.7M60.6 266.7h.7M69.1 252.5h.7M53.5 262.0h.7M62.7 261.5h.7M68.2 265.3h.7M61.2 256.2h.7M58.1 267.0h.7M61.9 261.9h.7M55.4 264.6h.7M69.5 258.8h.7M52.6 265.2h.7M57.6 263.9h.7M58.9 265.2h.7M62.3 266.9h.7M58.3 262.5h.7M58.8 263.7h.7M54.9 261.0h.7M58.2 270.6h.7M59.3 268.0h.7M63.6 265.9h.7M57.0 263.1h.7M56.3 263.4h.7M59.9 269.2h.7M70.6 255.4h.7M60.8 262.8h.7M62.0 263.6h.7M64.3 265.2h.7M61.8 259.2h.7M61.4 259.4h.7M65.6 260.8h.7M62.9 260.2h.7M50.7 267.3h.7M59.5 260.2h.7M62.3 266.2h.7M57.6 267.1h.7M59.7 262.1h.7M60.0 264.7h.7M56.5 264.6h.7M52.2 261.9h.7M65.3 256.9h.7M63.8 260.7h.7M64.2 260.4h.7M69.7 264.2h.7M60.3 264.6h.7M58.7 264.0h.7M62.9 264.0h.7M66.3 261.7h.7M60.0 258.7h.7M57.5 261.6h.7M56.9 265.8h.7M59.0 262.1h.7M59.6 259.5h.7M50.4 267.5h.7M58.5 266.0h.7M60.0 263.0h.7M60.2 266.6h.7M54.3 268.1h.7M58.6 264.8h.7M65.1 265.4h.7M64.0 261.1h.7M56.4 263.8h.7M66.7 259.8h.7M46.5 265.0h.7M53.2 261.9h.7M58.0 267.2h.7M54.3 262.8h.7M51.6 270.0h.7M58.2 260.6h.7M62.9 262.6h.7M64.5 261.9h.7M61.6 265.1h.7M55.9 259.3h.7M57.2 266.1h.7M65.4 256.3h.7M60.0 254.4h.7M63.1 267.1h.7M59.6 263.7h.7M64.0 264.8h.7M62.2 260.7h.7M64.3 267.2h.7M59.2 262.6h.7M60.1 267.6h.7M61.9 259.2h.7M55.2 266.7h.7M57.9 257.4h.7M61.6 270.4h.7M58.9 265.7h.7M60.4 262.5h.7M52.9 263.4h.7M62.1 262.4h.7M58.3 265.9h.7M52.8 260.8h.7M53.7 267.8h.7M62.1 263.1h.7M50.1 269.3h.7M60.4 264.3h.7M57.8 264.8h.7M65.9 257.6h.7M61.9 269.2h.7M56.8 266.8h.7M64.3 257.9h.7M70.8 253.4h.7M67.2 263.0h.7M62.9 266.8h.7M62.7 263.7h.7M57.4 265.1h.7M57.6 259.4h.7M60.4 261.3h.7M60.4 264.6h.7M63.2 263.4h.7M69.7 258.3h.7M49.3 270.2h.7M60.3 265.6h.7M61.8 260.8h.7M55.4 269.0h.7M54.6 265.0h.7M57.8 260.5h.7M59.0 264.6h.7M61.9 260.8h.7M52.8 264.1h.7M59.5 258.6h.7M57.4 262.8h.7M50.9 269.5h.7M57.4 269.8h.7M53.4 265.5h.7M53.5 263.2h.7M59.2 263.9h.7M64.8 262.0h.7M67.8 261.4h.7M55.7 269.5h.7M52.0 265.2h.7M52.0 265.5h.7M55.4 263.5h.7M57.1 260.8h.7M54.8 266.0h.7M64.1 260.1h.7M62.8 261.7h.7M64.3 261.2h.7M61.8 267.6h.7M57.3 262.0h.7M58.3 265.6h.7M52.1 266.7h.7M52.8 272.7h.7M66.7 259.7h.7M66.1 254.2h.7M55.9 265.4h.7M55.4 265.8h.7M63.7 261.8h.7M62.0 261.1h.7M57.8 262.4h.7M51.9 266.5h.7M64.6 259.7h.7M58.7 263.6h.7M57.8 267.6h.7M57.9 258.3h.7M54.6 263.3h.7M64.2 258.0h.7M51.4 271.5h.7M52.2 267.7h.7M67.8 261.0h.7M53.8 261.9h.7M60.5 261.1h.7M64.7 263.3h.7M62.1 265.4h.7M57.4 263.4h.7M65.9 263.1h.7M61.6 266.4h.7M59.5 262.2h.7M57.9 262.4h.7M60.9 258.9h.7M53.7 265.7h.7M61.6 258.1h.7M62.0 267.8h.7M60.0 259.2h.7M58.7 261.7h.7M64.6 260.7h.7M54.9 270.6h.7M58.6 258.0h.7M70.3 257.1h.7M56.4 265.4h.7M58.6 264.3h.7M62.1 256.7h.7M65.9 261.2h.7M52.7 267.2h.7M54.8 272.6h.7M60.4 261.5h.7M54.3 264.9h.7M57.8 270.8h.7M54.7 266.5h.7M57.6 267.4h.7M62.7 265.1h.7M65.2 258.8h.7M64.8 261.2h.7M59.9 262.0h.7M59.6 262.1h.7M58.0 263.6h.7M61.7 259.5h.7M63.0 258.9h.7M71.6 252.6h.7M65.6 253.7h.7M49.2 265.9h.7M59.2 260.4h.7M58.0 264.4h.7M54.5 266.1h.7M45.9 268.2h.7M55.6 269.7h.7M52.9 270.3h.7M60.8 260.5h.7M55.9 257.9h.7M57.9 261.8h.7M54.3 267.3h.7M65.7 260.6h.7M61.1 266.5h.7M66.0 260.3h.7M70.9 256.2h.7M65.5 267.3h.7M64.7 261.0h.7M60.3 261.3h.7M65.2 257.3h.7M58.0 266.7h.7M69.2 259.2h.7M58.0 266.7h.7M61.5 264.2h.7M53.2 265.2h.7M55.2 266.8h.7M59.6 264.4h.7M55.6 266.0h.7M55.9 266.8h.7M64.0 261.8h.7M55.6 263.3h.7M65.8 259.6h.7M57.4 268.9h.7M60.8 257.7h.7M65.9 261.0h.7M68.3 257.3h.7M59.1 267.6h.7M51.3 267.6h.7M56.1 261.4h.7M67.6 258.4h.7M60.6 262.9h.7M59.6 263.8h.7M63.5 259.2h.7M64.6 260.8h.7M62.6 264.4h.7M68.0 263.8h.7M59.8 263.5h.7M62.8 264.3h.7M52.3 263.1h.7M55.4 269.0h.7M54.2 264.6h.7M48.5 263.9h.7M63.8 261.9h.7M67.5 260.8h.7M57.8 262.0h.7M64.3 266.8h.7M53.2 269.2h.7M71.8 263.0h.7M59.6 260.5h.7M60.6 261.9h.7M66.2 263.3h.7M60.5 260.5h.7M62.9 262.8h.7M68.3 258.9h.7M57.1 263.5h.7M55.9 259.4h.7M56.2 267.7h.7M71.0 258.4h.7M67.0 261.0h.7M62.0 261.6h.7M62.6 260.6h.7M64.1 256.9h.7M57.2 259.0h.7M49.2 270.2h.7M65.9 258.6h.7M54.7 266.1h.7M53.2 263.2h.7M62.9 262.7h.7M52.9 271.6h.7M55.5 266.0h.7M59.3 264.7h.7M51.5 269.0h.7M68.8 257.0h.7M60.0 262.2h.7M58.4 266.8h.7M53.5 259.8h.7M53.2 268.4h.7M62.2 259.0h.7M53.6 266.3h.7M64.9 261.9h.7M61.2 263.2h.7M54.8 261.8h.7M64.5 258.3h.7M57.4 265.2h.7M49.7 265.0h.7M51.0 266.2h.7M57.7 260.4h.7M56.5 265.9h.7M55.2 268.0h.7M61.4 261.4h.7M68.8 255.7h.7M61.2 263.7h.7M69.4 258.1h.7M60.2 269.5h.7M54.1 264.3h.7M55.9 262.1h.7M63.7 262.4h.7M56.0 267.0h.7M55.4 267.4h.7M67.4 260.4h.7M64.6 263.2h.7M68.0 255.3h.7M70.3 267.1h.7M56.6 265.4h.7M57.4 263.3h.7M63.1 266.9h.7M64.7 258.7h.7M63.5 264.1h.7M49.4 271.7h.7M54.1 266.0h.7M67.7 257.9h.7M54.1 270.7h.7M57.9 270.0h.7M64.2 263.0h.7M67.8 258.2h.7M48.8 268.1h.7M57.8 262.0h.7M63.4 268.7h.7M53.9 271.6h.7M56.4 266.0h.7M59.9 264.4h.7M64.1 261.2h.7M58.8 261.2h.7M55.1 267.4h.7M64.1 262.5h.7M60.2 257.7h.7M57.7 264.6h.7M56.4 267.9h.7M59.7 263.7h.7M51.3 265.6h.7M45.4 273.9h.7M57.6 262.6h.7M56.9 264.7h.7M65.2 255.4h.7M61.4 259.0h.7M59.2 266.0h.7M58.0 262.5h.7M49.8 263.8h.7M61.1 259.7h.7M54.1 268.6h.7M60.2 264.3h.7M51.6 262.2h.7M64.5 265.1h.7M59.4 266.2h.7M54.8 266.3h.7M57.4 265.3h.7M66.2 260.7h.7M61.2 260.8h.7M57.9 264.9h.7M58.8 268.1h.7M54.7 268.1h.7M57.3 258.9h.7M66.5 266.6h.7M65.7 257.0h.7M59.4 262.6h.7M61.6 261.3h.7M56.8 265.0h.7M63.8 257.7h.7M59.0 264.0h.7M62.0 261.8h.7M61.5 263.6h.7M65.7 256.5h.7M63.5 266.1h.7M72.5 258.0h.7M57.1 258.3h.7M60.1 264.3h.7M52.2 263.0h.7M61.6 262.1h.7M60.6 266.8h.7M54.4 263.9h.7M64.2 260.5h.7M60.0 258.3h.7M66.0 257.4h.7M54.3 267.1h.7M55.7 259.9h.7M58.4 266.2h.7M58.3 266.1h.7M52.3 268.2h.7M57.5 260.3h.7M63.2 265.2h.7M58.6 261.0h.7M61.3 264.2h.7M55.1 272.0h.7M62.6 262.4h.7M58.9 259.6h.7M64.9 262.2h.7M51.8 266.2h.7M66.0 256.7h.7M64.0 262.2h.7M67.6 255.0h.7M58.7 262.2h.7M59.2 263.8h.7M58.4 265.7h.7M60.9 263.1h.7M58.5 266.4h.7M67.9 266.3h.7M62.1 266.1h.7M60.2 261.2h.7M57.5 266.9h.7M63.6 261.6h.7M59.7 268.0h.7M70.7 260.5h.7M53.1 265.5h.7M55.1 268.6h.7M57.4 265.8h.7M58.9 266.1h.7M52.8 266.3h.7M68.9 264.1h.7M50.8 266.1h.7M49.8 269.0h.7M59.9 266.8h.7M54.6 267.3h.7M55.4 259.8h.7M50.0 268.1h.7M59.0 263.7h.7M64.6 266.0h.7M66.3 257.7h.7M60.0 258.4h.7M52.5 267.7h.7M57.4 265.3h.7M62.6 261.6h.7M67.6 261.1h.7M67.0 259.3h.7M62.2 264.3h.7M63.2 256.5h.7M57.9 263.4h.7M63.0 261.7h.7M64.7 260.1h.7M60.8 268.7h.7M55.5 263.6h.7M64.9 261.3h.7M58.6 265.6h.7M58.7 270.4h.7M54.8 261.9h.7M60.5 255.0h.7M54.7 264.2h.7M60.7 266.2h.7M64.7 264.7h.7M54.6 263.5h.7M52.7 264.1h.7M55.5 267.4h.7M54.0 273.2h.7M60.0 259.4h.7M63.7 261.2h.7M63.5 260.6h.7M57.1 266.1h.7M53.2 259.9h.7M59.6 264.3h.7M49.3 271.0h.7M56.4 266.4h.7M62.3 260.6h.7M53.1 262.0h.7M50.8 270.5h.7M61.7 258.9h.7M73.0 257.7h.7M59.3 266.7h.7M59.2 261.4h.7M61.3 258.6h.7M61.9 261.2h.7M67.2 263.4h.7M59.9 258.4h.7M55.6 268.2h.7M61.3 261.6h.7M67.7 258.8h.7M63.1 258.8h.7M59.3 256.2h.7M63.4 259.6h.7M59.0 264.5h.7M51.2 266.2h.7M60.5 265.1h.7M61.8 262.8h.7M57.4 264.2h.7M62.9 261.7h.7M71.4 257.9h.7M54.7 268.0h.7M59.6 267.8h.7M62.6 264.9h.7M54.1 276.0h.7M57.4 261.3h.7M55.7 265.3h.7M62.9 258.8h.7M62.6 264.2h.7M54.6 268.9h.7M66.4 263.3h.7M61.3 265.6h.7M48.9 273.1h.7M56.1 266.8h.7M54.4 256.0h.7M53.3 267.2h.7M62.1 257.8h.7M58.4 263.5h.7M58.5 264.6h.7M59.1 262.3h.7M62.9 261.7h.7M55.2 267.2h.7M49.3 272.7h.7M58.9 263.8h.7M56.6 266.9h.7M56.8 263.7h.7M54.4 266.1h.7M61.9 265.4h.7M58.3 263.5h.7M59.4 261.4h.7M61.2 268.2h.7M61.7 263.0h.7M61.4 262.1h.7M59.1 266.8h.7M68.3 262.1h.7M57.6 262.6h.7M69.0 261.0h.7M72.5 257.2h.7M57.4 261.8h.7M59.2 258.1h.7M56.3 259.5h.7M71.3 261.5h.7M49.8 273.7h.7M58.1 267.1h.7M64.1 257.9h.7M54.3 264.2h.7M61.7 264.5h.7M56.6 265.3h.7M52.3 263.9h.7M50.9 269.5h.7M55.0 264.4h.7M62.9 263.1h.7M60.4 266.1h.7M59.9 263.2h.7M68.7 258.3h.7M60.4 267.2h.7M63.2 265.6h.7M60.2 264.1h.7M62.4 258.5h.7M60.9 266.3h.7M61.2 269.7h.7M61.0 259.8h.7M56.1 266.9h.7M59.1 262.3h.7M62.8 263.0h.7M58.1 259.9h.7M56.0 267.5h.7M60.4 263.1h.7M59.8 260.0h.7M64.6 267.8h.7M56.7 265.6h.7M56.4 262.5h.7M69.8 262.9h.7M49.8 269.4h.7M57.7 263.0h.7M51.2 267.4h.7M60.2 265.0h.7M58.5 259.9h.7M50.6 269.1h.7M60.5 263.5h.7M63.7 261.0h.7M73.3 255.4h.7M62.0 261.4h.7M58.6 263.4h.7M59.5 261.5h.7M65.5 262.8h.7M63.9 268.2h.7M58.9 266.2h.7M47.2 270.3h.7M59.2 265.6h.7M64.3 261.2h.7M51.2 262.7h.7M68.3 257.1h.7M45.5 271.2h.7M58.4 262.1h.7M56.2 270.7h.7M57.2 267.0h.7M58.8 261.6h.7M58.6 266.2h.7M55.8 266.7h.7M61.7 259.8h.7M63.7 259.5h.7M59.7 267.9h.7M68.7 261.5h.7M63.8 261.0h.7M58.8 264.3h.7M63.0 261.3h.7M59.5 263.4h.7M47.0 270.6h.7M57.6 259.9h.7M62.8 264.5h.7M54.0 259.5h.7M57.6 263.5h.7M59.7 266.9h.7M57.2 268.5h.7M64.1 266.3h.7M63.6 266.3h.7M61.5 262.4h.7M48.7 274.0h.7M59.0 266.6h.7M66.2 256.3h.7M55.5 268.2h.7M55.6 264.1h.7M66.2 263.1h.7M55.2 263.0h.7M56.4 266.9h.7M58.3 267.0h.7M52.6 264.4h.7M70.2 257.8h.7M60.6 263.9h.7M55.0 264.6h.7M56.8 262.7h.7M45.9 270.5h.7M54.3 268.4h.7M71.5 264.0h.7M63.3 269.5h.7M54.3 263.6h.7M67.9 262.4h.7M63.8 256.2h.7M56.5 259.4h.7M62.7 263.5h.7M60.3 262.5h.7M50.2 266.4h.7M68.1 259.1h.7M60.5 268.6h.7M51.3 267.8h.7M58.7 262.5h.7M50.1 267.8h.7M65.3 257.9h.7M65.3 264.0h.7M66.5 261.2h.7M52.7 270.3h.7M50.1 272.2h.7M54.1 255.7h.7M64.1 267.5h.7M55.1 266.2h.7M57.9 264.4h.7M61.0 264.8h.7M62.9 267.8h.7M63.0 258.3h.7M63.6 267.7h.7M56.2 263.2h.7M57.8 260.3h.7M54.5 272.0h.7M57.1 264.7h.7M60.8 261.5h.7M62.7 261.4h.7M64.9 260.6h.7M59.6 260.6h.7M52.6 264.0h.7M54.2 263.7h.7M59.5 263.4h.7M65.3 256.2h.7M62.4 261.7h.7M59.7 261.4h.7M60.9 262.1h.7M57.7 263.9h.7M65.8 260.7h.7M66.6 262.7h.7M48.4 263.7h.7M67.1 257.2h.7M59.2 260.0h.7M55.5 260.4h.7M61.8 263.3h.7M61.3 263.0h.7M59.6 266.3h.7M58.8 265.7h.7M59.0 266.8h.7M51.6 265.7h.7M59.3 260.5h.7M57.6 265.3h.7M62.9 263.6h.7M66.6 265.1h.7M57.1 265.2h.7M56.5 265.7h.7M59.2 262.9h.7M63.0 261.6h.7M62.2 263.4h.7M60.3 270.8h.7M54.5 264.1h.7M66.3 259.1h.7M67.5 261.1h.7M47.7 272.3h.7M56.3 272.3h.7M54.3 267.6h.7M59.3 262.3h.7M64.8 269.6h.7M57.1 264.9h.7M57.1 263.9h.7M52.4 269.6h.7M51.6 267.5h.7M57.8 269.4h.7M53.1 263.5h.7M61.8 260.1h.7M58.8 260.6h.7M63.8 267.1h.7M57.4 260.3h.7M52.2 270.0h.7M58.3 266.7h.7M65.8 260.7h.7M69.6 252.0h.7M57.1 265.3h.7M61.3 262.2h.7M67.9 263.4h.7M62.3 260.3h.7M63.9 260.4h.7M58.4 269.1h.7M64.2 264.3h.7M67.0 262.8h.7M61.8 260.9h.7M62.2 260.0h.7M63.9 260.2h.7M58.6 266.8h.7M55.6 265.8h.7M60.9 265.2h.7M69.1 264.7h.7M61.6 266.7h.7M57.4 262.5h.7M65.6 258.3h.7M67.1 265.2h.7M53.9 263.0h.7M62.9 264.6h.7M55.3 268.0h.7M68.5 260.4h.7M66.2 263.9h.7M52.1 265.6h.7M50.5 265.3h.7M72.3 254.0h.7M57.7 264.4h.7M50.8 271.7h.7M60.3 261.4h.7M53.0 268.1h.7M58.2 262.4h.7M64.4 258.0h.7M61.5 259.4h.7M60.5 260.8h.7M58.8 258.4h.7M64.7 265.3h.7M53.2 269.6h.7M65.3 259.1h.7M56.5 265.5h.7M57.2 263.0h.7M64.7 265.5h.7M55.2 266.6h.7M51.3 270.8h.7M64.1 260.1h.7M50.7 268.4h.7M62.2 259.2h.7M55.2 270.3h.7M54.5 262.4h.7M55.9 265.8h.7M59.0 265.3h.7M53.3 268.0h.7M56.9 264.6h.7M60.7 262.1h.7M60.6 266.8h.7M53.8 266.8h.7M65.6 262.5h.7M64.9 260.2h.7M65.0 253.3h.7M58.1 261.7h.7M56.0 271.3h.7M55.4 264.9h.7M56.2 262.3h.7M57.3 263.3h.7M61.7 263.1h.7M59.9 264.8h.7M57.5 266.9h.7M56.3 266.2h.7M58.1 264.7h.7M57.9 267.4h.7M55.1 270.0h.7M55.6 265.8h.7M63.8 261.0h.7M52.6 265.2h.7M55.1 264.5h.7M59.1 264.7h.7M61.5 265.7h.7M56.6 257.4h.7M63.5 261.2h.7M64.4 263.8h.7M54.0 268.9h.7M50.4 269.3h.7M61.0 257.8h.7M53.8 268.1h.7M67.9 267.7h.7M60.8 261.3h.7M71.0 259.4h.7M58.2 263.8h.7M62.7 259.7h.7M55.4 266.1h.7M64.4 268.4h.7M53.4 262.1h.7M56.1 262.0h.7M54.5 267.9h.7M56.1 264.1h.7M60.1 263.1h.7M64.1 265.1h.7M65.0 261.1h.7M60.2 264.0h.7M68.4 256.0h.7M58.2 261.1h.7M51.4 266.4h.7M68.3 263.2h.7M60.1 265.2h.7M56.5 259.2h.7M57.7 262.3h.7M63.9 258.6h.7M54.2 265.3h.7M60.5 264.2h.7M62.6 260.4h.7M58.2 262.6h.7M60.8 261.1h.7M57.1 263.2h.7M61.0 256.9h.7M64.1 254.0h.7M61.1 269.6h.7M58.2 264.1h.7M58.1 266.8h.7M67.2 259.0h.7M55.4 266.0h.7M60.3 267.2h.7M57.6 268.3h.7M54.5 260.0h.7M59.9 260.7h.7M62.5 265.4h.7M57.2 264.5h.7M61.5 263.4h.7M55.0 268.4h.7M58.8 268.7h.7M50.4 260.1h.7M52.6 267.0h.7M66.3 261.2h.7M59.8 260.4h.7M64.1 259.8h.7M60.8 268.1h.7M51.9 268.3h.7M58.8 264.9h.7M54.7 266.9h.7M66.4 259.7h.7M65.3 266.0h.7M49.5 269.7h.7M55.4 264.9h.7M58.3 264.0h.7M57.3 264.4h.7M62.7 263.4h.7M68.0 259.5h.7M55.3 270.6h.7M67.4 259.6h.7M59.4 260.3h.7M54.1 252.6h.7M52.1 270.5h.7M56.9 260.8h.7M71.1 257.6h.7M49.1 270.8h.7M53.3 266.0h.7M47.3 272.1h.7M58.7 256.6h.7M43.5 268.4h.7M67.2 263.0h.7M67.7 260.6h.7M68.9 261.0h.7M44.0 263.5h.7M58.9 260.7h.7M56.6 257.4h.7M66.1 260.0h.7M59.7 260.1h.7M66.6 263.0h.7M57.8 266.1h.7M50.3 261.1h.7M65.0 261.4h.7M69.0 266.5h.7M48.3 267.8h.7M46.2 276.0h.7M54.2 267.9h.7M53.0 268.2h.7M60.2 268.7h.7M68.2 256.9h.7M63.5 264.3h.7M47.0 272.0h.7M74.8 264.7h.7M55.7 262.3h.7M57.6 266.9h.7M53.0 268.0h.7M53.8 259.4h.7M71.1 255.9h.7M59.2 259.6h.7M52.2 268.9h.7M48.9 266.6h.7M62.3 272.0h.7M52.1 273.2h.7M61.5 264.6h.7M55.6 264.4h.7M58.6 263.3h.7M51.7 265.6h.7M54.2 269.2h.7M73.9 264.7h.7M49.3 272.6h.7M45.4 259.0h.7M45.1 269.5h.7M60.4 259.0h.7M68.7 265.1h.7M55.5 266.2h.7M50.1 264.9h.7M61.0 262.5h.7M50.0 272.6h.7M73.3 263.0h.7M62.1 255.4h.7M61.9 257.3h.7M66.0 265.6h.7M59.1 257.4h.7M62.2 267.6h.7M59.1 262.9h.7M68.1 257.0h.7M54.2 271.7h.7M67.5 272.3h.7M47.6 269.4h.7M50.5 270.9h.7M46.0 275.9h.7M41.2 264.5h.7M51.3 269.5h.7M66.6 261.8h.7M72.9 258.2h.7M52.8 266.8h.7M54.1 270.0h.7M56.3 271.0h.7M49.0 260.6h.7M52.2 266.8h.7M60.0 262.5h.7M58.2 262.2h.7M48.3 265.8h.7M57.4 264.5h.7M41.0 272.7h.7M64.7 261.1h.7M56.1 264.8h.7M47.6 267.9h.7M52.7 255.8h.7M64.3 271.4h.7M69.9 262.1h.7M47.1 270.1h.7M64.9 260.1h.7M54.9 260.3h.7M65.8 251.1h.7M54.2 269.1h.7M61.0 253.0h.7M57.6 270.7h.7M52.1 270.7h.7M63.8 270.9h.7M47.2 269.9h.7M50.4 272.4h.7M66.8 262.5h.7M63.1 258.4h.7M72.0 256.8h.7M50.5 271.8h.7M59.1 252.4h.7M66.2 265.1h.7M38.7 267.5h.7M59.2 260.8h.7M43.2 260.3h.7M55.0 262.0h.7M58.0 259.4h.7M54.5 262.4h.7M53.4 260.0h.7M48.6 264.3h.7M50.4 270.7h.7M44.5 272.6h.7M43.0 264.8h.7M54.4 259.2h.7M53.0 265.0h.7M83.7 257.3h.7M46.0 265.3h.7M54.7 260.5h.7M65.6 264.0h.7M57.5 273.3h.7M58.5 264.7h.7M55.9 265.4h.7M61.2 269.3h.7M63.6 264.6h.7M68.5 258.5h.7M50.4 266.2h.7M54.3 271.6h.7M66.9 272.5h.7M57.0 269.5h.7M62.6 266.1h.7M57.5 259.7h.7M67.2 263.0h.7M62.1 271.6h.7M70.2 260.5h.7M69.4 265.2h.7M63.0 265.5h.7M45.1 266.2h.7M72.6 260.4h.7M45.3 272.8h.7M40.3 271.2h.7M52.3 268.7h.7M84.4 256.6h.7M59.6 259.2h.7M67.9 252.3h.7M55.9 273.0h.7M52.6 262.5h.7M76.6 259.9h.7M52.1 276.6h.7M48.6 272.8h.7M67.4 257.3h.7M61.4 266.6h.7M59.7 264.1h.7M47.9 274.1h.7M52.7 265.4h.7M64.4 269.3h.7M69.2 259.2h.7M67.5 266.8h.7M50.8 262.1h.7M54.8 257.8h.7M54.8 258.0h.7M66.1 264.1h.7M62.7 270.9h.7M51.8 266.0h.7M54.8 268.4h.7M59.1 271.0h.7M53.6 270.7h.7M65.8 271.7h.7M58.0 258.4h.7M64.7 264.3h.7M49.2 265.2h.7M68.6 263.5h.7M70.1 267.6h.7M70.9 257.4h.7M64.7 262.0h.7M40.6 275.8h.7M65.3 275.3h.7M54.6 258.8h.7M55.5 264.2h.7M59.0 270.8h.7M53.3 263.8h.7M51.8 271.6h.7M46.5 266.2h.7M53.6 264.9h.7M68.5 264.5h.7M52.6 273.3h.7M58.7 261.4h.7M44.2 265.8h.7M67.0 270.4h.7M62.4 257.6h.7M67.3 261.5h.7M44.8 266.7h.7M60.1 266.0h.7M61.7 261.3h.7M48.6 261.9h.7M60.4 263.4h.7M67.4 262.8h.7M52.9 263.7h.7M58.3 254.6h.7M75.9 263.5h.7M57.4 270.3h.7M53.3 260.2h.7M61.7 264.6h.7M59.4 266.6h.7M53.8 261.0h.7M70.6 257.0h.7M46.4 273.4h.7M59.1 268.0h.7M45.9 268.7h.7M53.4 275.6h.7M52.2 265.9h.7M57.0 271.0h.7M60.6 256.8h.7M46.1 268.7h.7M49.3 262.7h.7M38.3 275.4h.7M49.3 267.8h.7M63.1 256.8h.7M44.7 267.7h.7M81.9 258.6h.7M45.2 268.4h.7M62.8 263.9h.7M44.7 273.1h.7M60.1 258.7h.7M54.7 264.3h.7M71.3 261.6h.7M73.2 270.8h.7M55.6 264.2h.7M63.5 270.7h.7M53.8 265.8h.7M55.6 272.1h.7M49.8 270.4h.7M56.1 264.1h.7M47.2 271.9h.7M74.5 263.7h.7M67.6 253.0h.7M62.5 264.6h.7M54.7 266.8h.7M48.9 269.0h.7M55.9 261.3h.7M49.7 271.0h.7M45.8 265.3h.7M64.9 264.9h.7M58.0 269.6h.7M63.1 266.7h.7M49.0 268.1h.7M56.6 265.4h.7M56.8 258.9h.7M63.3 257.5h.7M45.4 275.1h.7M52.1 268.5h.7M60.4 258.2h.7M78.6 260.0h.7M73.2 268.8h.7M52.3 264.4h.7M63.1 267.7h.7M54.0 267.2h.7M64.7 253.7h.7M51.2 272.4h.7M61.4 269.2h.7M57.4 268.6h.7M43.2 264.9h.7M64.9 259.4h.7M55.9 263.6h.7M59.0 264.7h.7M55.4 257.2h.7M55.2 261.1h.7M48.7 265.9h.7M65.3 264.9h.7M60.3 263.0h.7M47.4 272.1h.7M71.0 266.5h.7M73.3 266.3h.7M57.7 260.8h.7M72.3 259.6h.7M53.4 259.5h.7M51.5 262.7h.7M54.2 271.6h.7M48.8 258.6h.7M54.9 259.4h.7M57.2 260.6h.7M70.6 261.8h.7M64.4 262.5h.7M63.4 266.1h.7M59.2 270.1h.7M68.6 258.6h.7M74.6 259.0h.7M54.9 265.6h.7M75.5 257.0h.7M51.8 267.1h.7M60.2 261.7h.7M61.8 259.2h.7M62.7 267.9h.7M49.7 267.0h.7M58.2 258.2h.7M68.6 256.9h.7M69.3 256.7h.7M58.8 270.7h.7M60.8 267.3h.7M64.6 258.5h.7M57.9 272.1h.7M57.5 265.7h.7M55.0 274.5h.7M82.4 263.3h.7M57.0 267.7h.7M62.8 270.4h.7M48.5 272.8h.7M62.2 260.6h.7M57.4 272.0h.7M70.0 260.9h.7M59.3 268.6h.7M79.3 257.7h.7M64.3 268.9h.7M59.6 263.2h.7M59.8 263.2h.7M74.3 258.4h.7M44.9 275.6h.7M65.5 266.7h.7M71.2 268.1h.7M65.3 267.5h.7M59.8 278.3h.7M60.0 262.7h.7M48.2 271.2h.7M76.1 263.0h.7M70.2 255.0h.7M70.7 262.9h.7M60.7 255.8h.7M53.7 265.2h.7M65.6 262.0h.7M70.3 256.0h.7M56.0 259.9h.7M64.8 260.1h.7M51.9 265.2h.7M68.5 264.0h.7M54.4 262.8h.7M70.4 266.9h.7M51.9 266.5h.7M63.3 265.3h.7M55.7 264.9h.7M45.3 268.2h.7M58.1 267.0h.7M63.4 269.2h.7M64.7 262.3h.7M62.9 265.3h.7M63.0 268.8h.7M64.1 260.9h.7M49.3 265.6h.7M51.0 261.5h.7M54.2 265.0h.7M67.8 260.2h.7M52.1 267.1h.7M53.1 264.8h.7M53.1 269.5h.7M72.9 258.0h.7M66.0 262.7h.7M53.7 256.7h.7M64.3 264.4h.7M64.4 267.3h.7M56.4 256.4h.7M72.2 260.9h.7M48.4 257.1h.7M44.7 266.0h.7M51.3 267.5h.7M70.8 257.2h.7M69.2 260.7h.7M65.8 269.2h.7M57.7 269.1h.7M47.6 265.2h.7M70.6 262.4h.7M87.9 261.8h.7M57.9 267.9h.7M36.1 264.3h.7M61.3 270.0h.7M55.9 262.3h.7M40.3 272.6h.7M67.3 266.2h.7M45.5 266.4h.7M67.0 265.5h.7M53.7 269.9h.7M54.8 265.0h.7M65.0 262.1h.7M51.1 262.6h.7M63.7 263.4h.7M62.0 259.7h.7M61.5 264.8h.7M70.4 254.7h.7M63.3 263.5h.7M59.7 256.3h.7M62.5 261.2h.7M48.6 277.9h.7M45.0 271.3h.7M57.4 263.7h.7M64.0 256.9h.7M64.7 267.1h.7M46.1 267.2h.7M70.9 264.1h.7M61.3 267.2h.7M51.5 271.4h.7M51.8 263.0h.7M42.7 270.5h.7M67.1 271.9h.7M57.5 267.3h.7M63.0 264.6h.7M48.2 266.6h.7M60.9 271.9h.7M52.8 259.8h.7M60.1 270.5h.7M51.6 268.5h.7M49.9 268.5h.7M65.7 260.0h.7M50.4 258.9h.7M46.4 263.0h.7M71.8 260.8h.7M69.7 264.8h.7M63.2 270.0h.7M50.9 265.4h.7M47.3 265.5h.7M52.1 270.1h.7M57.9 267.4h.7M65.3 265.5h.7M60.3 267.7h.7M49.4 261.4h.7M61.3 274.6h.7M59.4 262.5h.7M63.6 250.1h.7M56.5 268.3h.7M77.8 254.8h.7M57.2 253.2h.7M61.9 260.2h.7M56.9 255.7h.7M65.4 253.6h.7M55.3 268.1h.7M60.2 265.6h.7M49.6 265.5h.7M54.9 279.8h.7M69.3 258.3h.7M54.0 264.3h.7M78.9 259.3h.7M69.3 255.0h.7M42.2 259.9h.7M64.9 268.7h.7M59.1 270.5h.7M86.6 256.4h.7M53.4 267.0h.7M64.0 261.5h.7M64.0 259.9h.7M49.2 264.2h.7M73.1 256.1h.7M64.3 258.6h.7M65.7 258.7h.7M64.8 266.0h.7M65.4 265.4h.7M42.1 261.6h.7M59.1 261.2h.7M44.6 268.8h.7M58.9 261.5h.7M56.7 273.0h.7M58.6 264.4h.7M50.9 266.9h.7M62.6 258.3h.7M40.3 265.1h.7M64.8 257.7h.7M69.6 258.7h.7M65.2 267.5h.7M45.5 258.9h.7M63.9 265.2h.7M58.1 261.0h.7M52.3 261.3h.7M58.6 264.2h.7M47.4 268.3h.7M38.3 267.1h.7M47.2 273.7h.7M59.2 265.6h.7M63.1 258.5h.7M47.0 262.5h.7M75.6 257.8h.7M53.6 270.3h.7M68.7 271.3h.7M69.6 262.4h.7M70.7 265.2h.7M65.1 263.2h.7M51.8 267.6h.7M66.4 257.9h.7M58.3 265.7h.7M55.3 263.9h.7M58.6 262.2h.7M43.3 270.2h.7M57.2 269.8h.7M59.5 260.9h.7M74.0 256.0h.7M55.2 264.9h.7M66.6 269.1h.7M61.6 259.3h.7M64.6 266.5h.7M61.9 265.5h.7M56.3 256.9h.7M57.9 265.9h.7M66.0 267.7h.7M49.8 260.2h.7M55.5 262.3h.7M61.6 267.2h.7M55.7 264.5h.7M57.2 264.7h.7M54.2 264.5h.7M53.4 265.5h.7M45.8 261.2h.7M66.2 252.9h.7M60.4 269.7h.7M47.3 262.0h.7M56.3 267.3h.7M60.8 266.7h.7M40.2 276.6h.7M46.6 268.8h.7M62.2 261.4h.7M42.8 263.4h.7M51.4 265.9h.7M52.7 272.8h.7M59.7 257.0h.7M47.1 259.8h.7M66.8 265.2h.7M61.6 257.6h.7M79.4 262.9h.7M51.2 267.2h.7M47.2 267.9h.7M44.4 262.8h.7M73.6 263.2h.7M63.2 266.7h.7M57.8 266.5h.7M55.4 268.6h.7M62.5 263.7h.7M70.6 264.0h.7M59.1 268.9h.7M49.2 261.5h.7M57.4 259.7h.7M61.0 269.1h.7M66.0 258.8h.7M66.5 263.9h.7M65.7 264.4h.7M68.0 249.7h.7M59.1 255.5h.7M61.2 277.8h.7M54.8 274.2h.7M73.9 264.5h.7M59.0 273.6h.7M72.1 253.5h.7M49.9 258.4h.7M53.5 266.7h.7M61.4 263.9h.7M45.3 273.9h.7M55.8 264.9h.7M53.5 264.9h.7M46.7 266.0h.7M63.7 270.4h.7M64.4 262.5h.7M66.4 261.8h.7M68.9 266.5h.7M55.2 266.3h.7M47.8 260.1h.7M58.8 263.9h.7M69.3 259.0h.7M51.2 270.2h.7M61.9 259.2h.7M60.1 263.4h.7M77.3 268.4h.7M52.7 265.3h.7M62.1 265.5h.7M65.1 257.2h.7M58.7 265.0h.7M52.4 273.3h.7M50.3 275.0h.7M51.0 269.7h.7M62.6 264.4h.7M65.4 277.9h.7M61.6 262.5h.7M56.6 271.8h.7M64.6 260.5h.7M75.8 259.2h.7M60.9 256.6h.7M65.3 264.6h.7M67.2 260.1h.7M65.0 259.9h.7M58.7 263.9h.7M54.3 260.0h.7M50.0 268.7h.7M56.7 264.7h.7M63.1 265.1h.7M64.1 257.2h.7M67.0 262.7h.7M53.1 269.3h.7M65.0 266.7h.7M61.2 271.8h.7M57.5 269.6h.7M57.8 263.2h.7M67.8 265.8h.7M42.2 263.7h.7M66.9 258.1h.7M73.1 255.4h.7M54.5 266.5h.7M64.6 256.6h.7M49.8 266.6h.7M77.9 249.6h.7M61.7 258.3h.7M55.4 268.1h.7M65.6 270.6h.7M63.9 270.6h.7M68.4 258.6h.7M45.1 268.3h.7M61.1 268.0h.7M57.1 269.1h.7M59.8 260.1h.7M53.7 262.9h.7M59.5 255.0h.7M72.6 268.3h.7M48.9 268.7h.7M75.3 261.4h.7M57.4 266.1h.7M66.2 267.0h.7M59.5 260.6h.7M56.0 260.9h.7M46.3 266.9h.7M55.9 265.5h.7M54.1 268.8h.7M57.1 263.8h.7M59.7 264.9h.7M63.3 267.3h.7M49.2 263.0h.7M54.6 265.0h.7M71.1 258.9h.7M51.9 264.1h.7M59.5 270.3h.7M64.3 259.5h.7M60.9 262.6h.7M73.3 258.5h.7M62.0 259.7h.7M45.5 262.6h.7M54.5 264.6h.7M71.9 262.4h.7M63.5 266.0h.7M61.9 273.3h.7M63.8 266.4h.7M77.9 264.6h.7M54.3 264.1h.7M56.4 265.0h.7M59.7 265.0h.7M47.6 274.6h.7M49.3 271.5h.7M43.1 265.0h.7M63.7 262.0h.7M66.7 257.9h.7M57.7 268.2h.7M53.7 265.4h.7M60.4 258.6h.7M60.1 270.1h.7M40.8 274.9h.7M56.6 264.5h.7M69.6 265.1h.7M54.9 270.0h.7M56.7 266.4h.7M41.6 262.1h.7M64.1 262.1h.7M61.5 260.8h.7M36.7 274.4h.7M49.4 264.7h.7M54.6 268.5h.7M51.1 257.4h.7M52.0 264.4h.7M51.3 261.9h.7M47.9 264.1h.7M57.7 260.7h.7M59.3 261.2h.7M72.9 261.3h.7M81.3 257.7h.7M43.8 259.2h.7M55.4 264.0h.7M61.8 265.3h.7M65.7 260.4h.7M61.1 270.9h.7M60.5 262.5h.7M51.6 257.7h.7M57.3 260.2h.7M74.5 263.2h.7M66.7 261.6h.7M63.5 261.4h.7M60.0 264.8h.7M52.0 271.1h.7M57.1 257.7h.7M54.2 268.4h.7M50.2 264.2h.7M50.6 261.8h.7M62.9 267.9h.7M65.3 255.6h.7M50.7 267.5h.7M45.8 270.7h.7M62.3 262.9h.7M61.4 266.0h.7M62.5 263.6h.7M41.6 268.8h.7M63.8 270.6h.7M56.9 256.6h.7M57.3 260.9h.7M63.8 274.0h.7M62.6 265.4h.7M78.2 265.9h.7M72.4 259.7h.7M81.8 262.4h.7M74.8 263.9h.7M36.6 267.7h.7M71.4 270.5h.7M47.2 268.6h.7M41.4 268.4h.7M69.7 263.6h.7M77.6 271.9h.7M70.0 262.5h.7M52.6 279.2h.7M56.8 267.3h.7M45.9 273.9h.7M73.2 265.9h.7M69.2 269.2h.7M58.8 262.2h.7M74.3 272.1h.7M63.2 276.0h.7M54.5 276.5h.7M81.9 273.7h.7M42.5 271.9h.7M53.8 265.2h.7M51.4 272.1h.7M49.8 273.1h.7M73.0 261.1h.7M72.2 254.7h.7M77.4 268.7h.7M66.3 264.7h.7M56.9 264.7h.7M86.5 251.9h.7M75.2 267.7h.7M57.1 274.4h.7M67.5 261.9h.7M54.0 260.0h.7M63.9 269.6h.7M47.7 279.8h.7M62.9 246.9h.7M38.9 268.2h.7M54.4 265.9h.7M59.5 268.3h.7M84.0 256.3h.7M48.6 255.8h.7M67.1 262.1h.7M52.7 273.9h.7M66.1 266.9h.7M56.0 264.5h.7M87.5 269.0h.7M59.5 270.0h.7M52.4 262.1h.7M61.6 260.0h.7M57.8 265.0h.7M52.4 275.7h.7M54.3 263.6h.7M82.1 273.0h.7M53.2 271.8h.7M61.4 266.9h.7M65.8 272.2h.7M56.9 265.9h.7M63.1 267.7h.7M69.6 260.6h.7M76.4 266.5h.7M72.6 275.8h.7M78.4 264.4h.7M72.9 256.8h.7M61.2 255.0h.7M58.4 264.5h.7M52.0 272.3h.7M78.2 265.2h.7M47.3 273.0h.7M68.8 258.7h.7M87.1 265.2h.7M72.3 259.5h.7M37.2 267.3h.7M67.0 268.2h.7M82.7 269.2h.7M65.5 259.1h.7M54.5 268.6h.7M74.5 265.3h.7M75.5 270.9h.7M51.5 276.5h.7M47.6 275.1h.7M62.6 262.4h.7M72.2 255.8h.7M67.7 258.9h.7M59.5 271.5h.7M46.0 264.9h.7M44.9 268.5h.7M60.4 266.1h.7M83.7 266.7h.7M63.9 264.7h.7M71.8 268.8h.7M87.0 261.1h.7M47.7 262.1h.7M71.1 268.8h.7M38.1 279.1h.7M39.4 260.0h.7M58.4 268.8h.7M44.6 256.9h.7M44.0 268.2h.7M45.5 264.1h.7M59.0 257.3h.7M61.2 256.7h.7M53.2 264.3h.7M60.1 264.0h.7M62.2 250.1h.7M53.2 264.6h.7M55.6 271.2h.7M55.2 257.9h.7M60.2 261.0h.7M44.4 269.1h.7M48.3 260.7h.7M43.1 263.0h.7M51.6 268.8h.7M38.0 272.2h.7M45.4 270.7h.7M37.0 268.7h.7M45.8 266.5h.7M46.0 269.1h.7M53.1 265.5h.7M41.3 264.8h.7M51.5 274.3h.7M48.4 268.7h.7M52.5 261.9h.7M45.8 270.0h.7M43.3 261.8h.7M41.2 271.9h.7M47.1 266.3h.7M51.2 266.6h.7M51.8 257.7h.7M42.9 265.1h.7M36.4 270.5h.7M50.5 260.5h.7M45.5 268.9h.7M49.3 266.8h.7M43.5 265.5h.7M49.2 260.1h.7M46.3 270.3h.7M44.5 264.7h.7M47.7 260.7h.7M50.0 265.9h.7M38.0 268.9h.7M42.7 268.5h.7M52.8 268.4h.7M53.0 271.2h.7M49.9 273.6h.7M46.0 261.2h.7M47.4 264.6h.7M48.6 264.7h.7M48.1 262.3h.7M50.3 268.3h.7M48.6 269.2h.7M54.3 266.7h.7M44.2 269.4h.7M39.6 259.5h.7M49.9 265.2h.7M58.5 267.8h.7M48.0 268.6h.7M48.1 266.5h.7M54.9 266.9h.7M52.3 268.9h.7M50.6 267.7h.7M51.5 266.1h.7M36.9 269.4h.7M61.7 262.9h.7M52.4 270.0h.7M49.1 267.8h.7M53.0 270.9h.7M50.7 267.9h.7M49.9 269.8h.7M47.5 265.7h.7M47.6 263.4h.7M48.0 264.8h.7M50.0 266.1h.7M36.9 268.5h.7M38.1 266.4h.7M43.1 274.0h.7M46.2 269.4h.7M46.3 261.7h.7M46.1 269.3h.7M47.1 269.6h.7M40.1 266.8h.7M53.7 260.5h.7M47.5 265.0h.7M47.0 258.8h.7M43.3 268.8h.7M48.7 266.0h.7M38.7 258.7h.7M49.2 265.1h.7M47.4 269.5h.7M47.0 272.1h.7M41.6 269.1h.7M47.2 265.7h.7M43.2 269.6h.7M42.4 264.6h.7M53.7 263.2h.7M42.8 269.1h.7M48.6 262.4h.7M46.2 270.2h.7M42.5 266.6h.7M44.4 261.1h.7M55.7 273.5h.7M50.2 270.3h.7M45.1 261.3h.7M50.8 265.7h.7M44.1 273.0h.7M50.4 270.8h.7M44.5 270.4h.7M52.5 269.7h.7M50.3 270.8h.7M51.6 268.3h.7M43.9 274.2h.7M39.8 267.8h.7M56.4 262.9h.7M46.2 273.5h.7M40.0 264.1h.7M40.1 265.0h.7M50.5 269.8h.7M45.6 269.5h.7M48.9 268.0h.7M45.0 263.5h.7M40.5 274.8h.7M43.8 261.3h.7M54.0 269.4h.7M38.1 262.2h.7M46.3 262.8h.7M38.9 265.1h.7M52.0 270.4h.7M38.7 271.0h.7M47.5 268.9h.7M39.4 264.2h.7M53.0 273.8h.7M45.1 268.5h.7M46.0 259.1h.7M41.7 268.5h.7M41.2 263.5h.7M48.5 267.9h.7M53.9 264.6h.7M46.7 261.6h.7M51.3 271.1h.7M49.2 263.7h.7M41.0 265.8h.7M42.3 265.3h.7M53.9 264.2h.7M46.0 263.6h.7M47.1 267.3h.7M46.6 261.2h.7M46.8 267.0h.7M48.9 265.2h.7M52.0 270.1h.7M39.9 272.5h.7M45.9 266.3h.7M44.6 264.0h.7M44.4 271.7h.7M47.7 272.4h.7M55.0 266.0h.7M44.2 268.7h.7M45.9 262.8h.7M45.9 258.2h.7M40.5 268.5h.7M42.9 266.3h.7M49.1 264.0h.7M43.8 261.3h.7M49.8 259.9h.7M39.1 265.6h.7M48.1 265.9h.7M49.1 266.9h.7M47.9 272.0h.7M43.8 263.4h.7M50.7 272.4h.7M49.0 270.4h.7M42.6 267.1h.7M39.9 267.2h.7M53.8 272.8h.7M40.5 268.5h.7M53.2 265.0h.7M46.3 269.6h.7M57.1 267.1h.7M46.1 270.0h.7" stroke="#000" stroke-width="0.7" fill="none" opacity="0.8"/>
<path d="M121.5 266.4h.7M106.5 271.0h.7M114.6 264.4h.7M116.0 267.0h.7M104.0 255.1h.7M108.7 262.0h.7M103.9 269.5h.7M109.6 268.0h.7M97.3 268.3h.7M103.7 262.8h.7M103.2 259.7h.7M108.4 271.7h.7M107.5 264.4h.7M117.8 268.7h.7M110.0 273.8h.7M103.9 270.4h.7M103.9 258.7h.7M104.3 262.7h.7M110.5 269.2h.7M96.2 271.5h.7M107.4 263.2h.7M98.3 271.7h.7M102.4 275.4h.7M106.4 266.7h.7M98.8 256.6h.7M103.3 269.8h.7M123.1 262.3h.7M103.9 265.5h.7M107.9 258.4h.7M105.5 263.6h.7M99.4 270.7h.7M101.3 263.4h.7M109.2 264.2h.7M98.2 264.9h.7" stroke="#000" stroke-width="0.7" fill="none" opacity="0.33"/>
<rect x="34.4" y="243.3" width="97.2" height="100.4" fill="none" stroke="#666" stroke-width="0.75"/>
<path d="M89.7 243.3V343.7M34.4 281.5H131.6" stroke="#6a6a6a" stroke-width="0.7" fill="none"/>
<text x="35.6" y="352.6" font-size="4.5" text-anchor="middle" fill-opacity="0.9">10<tspan font-size="3.8" dy="-1.5">0</tspan></text>
<text x="31.5" y="345.7" font-size="4.5" text-anchor="end" fill-opacity="0.9">10<tspan font-size="3.8" dy="-1.5">0</tspan></text>
<text x="59.9" y="352.6" font-size="4.5" text-anchor="middle" fill-opacity="0.9">10<tspan font-size="3.8" dy="-1.5">1</tspan></text>
<text x="31.5" y="320.6" font-size="4.5" text-anchor="end" fill-opacity="0.9">10<tspan font-size="3.8" dy="-1.5">1</tspan></text>
<text x="84.2" y="352.6" font-size="4.5" text-anchor="middle" fill-opacity="0.9">10<tspan font-size="3.8" dy="-1.5">2</tspan></text>
<text x="31.5" y="295.5" font-size="4.5" text-anchor="end" fill-opacity="0.9">10<tspan font-size="3.8" dy="-1.5">2</tspan></text>
<text x="108.5" y="352.6" font-size="4.5" text-anchor="middle" fill-opacity="0.9">10<tspan font-size="3.8" dy="-1.5">3</tspan></text>
<text x="31.5" y="270.4" font-size="4.5" text-anchor="end" fill-opacity="0.9">10<tspan font-size="3.8" dy="-1.5">3</tspan></text>
<text x="132.8" y="352.6" font-size="4.5" text-anchor="middle" fill-opacity="0.9">10<tspan font-size="3.8" dy="-1.5">4</tspan></text>
<text x="31.5" y="245.3" font-size="4.5" text-anchor="end" fill-opacity="0.9">10<tspan font-size="3.8" dy="-1.5">4</tspan></text>
<path d="M34.4 343.7v2M34.4 343.7h-2M58.7 343.7v2M34.4 318.6h-2M83 343.7v2M34.4 293.5h-2M107.3 343.7v2M34.4 268.4h-2M131.6 343.7v2M34.4 243.3h-2" stroke="#333" stroke-width="0.6"/>
<path d="M41.7 343.7v1.3M34.4 336.1h-1.3M46.0 343.7v1.3M34.4 331.7h-1.3M49.0 343.7v1.3M34.4 328.6h-1.3M51.4 343.7v1.3M34.4 326.2h-1.3M53.3 343.7v1.3M34.4 324.2h-1.3M54.9 343.7v1.3M34.4 322.5h-1.3M56.3 343.7v1.3M34.4 321.0h-1.3M57.6 343.7v1.3M34.4 319.7h-1.3M66.0 343.7v1.3M34.4 311.0h-1.3M70.3 343.7v1.3M34.4 306.6h-1.3M73.3 343.7v1.3M34.4 303.5h-1.3M75.7 343.7v1.3M34.4 301.1h-1.3M77.6 343.7v1.3M34.4 299.1h-1.3M79.2 343.7v1.3M34.4 297.4h-1.3M80.6 343.7v1.3M34.4 295.9h-1.3M81.9 343.7v1.3M34.4 294.6h-1.3M90.3 343.7v1.3M34.4 285.9h-1.3M94.6 343.7v1.3M34.4 281.5h-1.3M97.6 343.7v1.3M34.4 278.4h-1.3M100.0 343.7v1.3M34.4 276.0h-1.3M101.9 343.7v1.3M34.4 274.0h-1.3M103.5 343.7v1.3M34.4 272.3h-1.3M104.9 343.7v1.3M34.4 270.8h-1.3M106.2 343.7v1.3M34.4 269.5h-1.3M114.6 343.7v1.3M34.4 260.8h-1.3M118.9 343.7v1.3M34.4 256.4h-1.3M121.9 343.7v1.3M34.4 253.3h-1.3M124.3 343.7v1.3M34.4 250.9h-1.3M126.2 343.7v1.3M34.4 248.9h-1.3M127.8 343.7v1.3M34.4 247.2h-1.3M129.2 343.7v1.3M34.4 245.7h-1.3M130.5 343.7v1.3M34.4 244.4h-1.3" stroke="#555" stroke-width="0.45"/>
<text x="129.9" y="252.4" font-size="9.2" text-anchor="end">0.43</text>
<path d="M194.5 268.3h.7M183.4 261.5h.7M195.7 264.1h.7M196.6 263.2h.7M191.1 262.1h.7M187.1 266.0h.7M192.1 267.8h.7M195.6 256.7h.7M198.4 260.1h.7M204.3 262.8h.7M194.3 255.4h.7M195.4 255.6h.7M203.8 254.3h.7M195.3 269.6h.7M180.3 271.2h.7M184.5 266.5h.7M188.7 268.9h.7M191.8 265.6h.7M195.1 255.2h.7M203.4 256.2h.7M179.9 268.7h.7M201.8 262.4h.7M188.5 266.6h.7M197.1 265.3h.7M194.2 266.8h.7M185.5 265.1h.7M199.8 262.4h.7M194.2 265.3h.7M196.4 264.6h.7M203.1 259.6h.7M198.9 258.3h.7M185.0 258.6h.7M196.6 261.5h.7M194.0 255.1h.7M188.8 263.7h.7M181.6 274.2h.7M200.3 253.8h.7M200.0 266.5h.7M186.2 271.7h.7M208.8 261.8h.7M181.3 266.1h.7M197.3 266.0h.7M182.6 266.6h.7M187.1 271.7h.7M190.3 267.5h.7M200.5 263.9h.7M197.2 262.4h.7M203.1 259.4h.7M183.0 267.3h.7M200.6 259.6h.7M191.3 265.6h.7M218.4 248.0h.7M198.0 262.4h.7M193.6 268.1h.7M200.7 260.6h.7M185.6 273.3h.7M199.1 259.5h.7M173.0 275.3h.7M183.9 268.0h.7M188.1 263.0h.7M201.3 259.0h.7M201.0 254.6h.7M194.5 268.3h.7M194.6 259.5h.7M185.6 265.5h.7M194.1 265.7h.7M196.0 264.9h.7M200.0 259.8h.7M204.6 259.6h.7M191.8 263.6h.7M192.0 261.0h.7M183.4 269.5h.7M190.7 267.4h.7M189.1 266.3h.7M194.1 260.9h.7M193.6 260.1h.7M191.7 267.7h.7M196.4 261.5h.7M188.8 269.0h.7M204.5 247.5h.7M201.8 259.1h.7M203.9 261.8h.7M188.9 273.2h.7M188.5 265.2h.7M198.0 260.1h.7M194.5 260.4h.7M185.6 268.0h.7M187.6 272.3h.7M197.8 266.5h.7M180.1 262.5h.7M175.4 272.4h.7M184.3 270.2h.7M179.8 265.6h.7M194.8 260.8h.7M200.0 262.7h.7M193.8 257.9h.7M191.0 274.2h.7M192.2 265.2h.7M194.3 262.6h.7M191.0 262.3h.7M185.7 259.4h.7M205.8 255.3h.7M184.4 270.8h.7M195.8 255.8h.7M192.2 270.2h.7M198.3 262.1h.7M200.7 258.3h.7M194.1 269.5h.7M191.8 263.8h.7M198.3 260.5h.7M187.5 274.7h.7M196.2 269.1h.7M195.5 258.1h.7M204.7 255.7h.7M186.8 267.1h.7M177.9 274.2h.7M187.4 265.8h.7M187.9 269.4h.7M198.1 264.9h.7M206.5 256.6h.7M194.6 263.8h.7M186.2 265.3h.7M197.5 257.2h.7M178.1 271.0h.7M198.0 266.6h.7M186.2 263.6h.7M193.8 262.3h.7M194.3 260.5h.7M193.8 260.6h.7M201.3 259.6h.7M196.9 259.3h.7M182.6 269.8h.7M195.0 266.9h.7M200.6 258.8h.7M191.2 260.4h.7M193.4 264.1h.7M188.2 261.8h.7M201.3 254.6h.7M207.9 259.4h.7M203.4 253.7h.7M195.5 256.2h.7M187.8 260.2h.7M186.9 265.0h.7M202.5 262.2h.7M190.0 264.1h.7M184.1 264.0h.7M179.5 270.7h.7M196.3 258.2h.7M193.9 258.1h.7M184.7 266.2h.7M198.9 257.7h.7M198.3 258.8h.7M181.3 262.1h.7M187.9 262.5h.7M200.8 260.5h.7M182.5 273.2h.7M191.9 252.0h.7M185.8 268.7h.7M179.9 268.2h.7M197.5 261.7h.7M197.6 263.1h.7M190.9 274.5h.7M201.0 267.4h.7M192.2 266.2h.7M195.4 261.3h.7M196.0 262.7h.7M199.8 260.6h.7M194.4 264.5h.7M204.0 257.0h.7M197.9 261.0h.7M176.9 269.3h.7M183.8 263.2h.7M185.3 260.7h.7M194.1 260.5h.7M202.9 259.0h.7M183.3 268.3h.7M192.2 261.0h.7M188.5 261.6h.7M188.2 267.4h.7M192.8 268.4h.7M176.0 270.3h.7M193.0 269.4h.7M202.7 260.6h.7M203.2 263.8h.7M197.6 259.6h.7M193.1 260.3h.7M192.0 265.4h.7M189.5 265.8h.7M187.4 261.3h.7M183.6 271.8h.7M194.7 265.7h.7M192.2 263.7h.7M194.3 261.1h.7M204.9 260.2h.7M194.0 258.4h.7M189.3 266.3h.7M201.4 258.1h.7M193.6 265.0h.7M193.4 262.3h.7M186.7 272.0h.7M191.5 262.0h.7M189.6 259.8h.7M177.2 265.4h.7M193.1 257.7h.7M191.4 259.3h.7M178.5 269.4h.7M186.0 264.6h.7M205.7 256.3h.7M189.8 268.6h.7M192.4 268.4h.7M183.0 273.5h.7M183.3 266.0h.7M192.1 259.3h.7M179.8 269.5h.7M187.4 259.8h.7M198.2 256.6h.7M187.5 265.4h.7M194.8 266.3h.7M176.6 272.9h.7M199.4 260.2h.7M189.9 260.4h.7M194.1 260.4h.7M191.5 259.6h.7M189.8 264.4h.7M183.4 273.0h.7M189.2 260.1h.7M190.8 264.9h.7M188.0 261.8h.7M188.3 260.3h.7M182.3 274.3h.7M208.3 261.4h.7M211.5 257.5h.7M184.5 265.8h.7M199.7 257.1h.7M189.8 264.9h.7M193.0 257.4h.7M193.5 264.7h.7M179.3 275.9h.7M196.6 257.6h.7M206.7 256.5h.7M198.7 265.9h.7M173.4 274.8h.7M202.8 262.9h.7M191.8 263.0h.7M186.1 265.8h.7M181.7 260.0h.7M186.3 263.0h.7M187.1 264.7h.7M189.0 265.9h.7M191.2 262.6h.7M187.6 265.8h.7M189.8 264.4h.7M203.0 258.0h.7M185.8 259.0h.7M176.3 261.0h.7M200.9 262.8h.7M188.6 263.8h.7M196.9 263.0h.7M179.1 270.3h.7M187.8 261.0h.7M204.2 259.4h.7M187.8 265.9h.7M187.4 264.3h.7M191.3 268.2h.7M191.6 262.0h.7M187.8 267.2h.7M183.0 262.4h.7M194.2 268.8h.7M187.7 266.9h.7M193.1 268.0h.7M193.6 257.5h.7M205.3 255.7h.7M184.7 265.9h.7M194.8 266.4h.7M189.0 262.4h.7M205.0 262.2h.7M190.0 265.4h.7M194.6 260.8h.7M187.5 270.6h.7M181.0 262.8h.7M198.8 264.3h.7M197.0 257.5h.7M188.6 261.2h.7M184.1 258.3h.7M188.4 271.4h.7M186.9 273.8h.7M190.1 256.7h.7M197.6 256.3h.7M196.2 260.4h.7M189.5 264.4h.7M181.3 267.0h.7M192.7 270.5h.7M188.7 266.9h.7M198.0 265.1h.7M191.1 265.0h.7M190.1 275.2h.7M181.9 270.8h.7M190.2 265.4h.7M187.7 264.4h.7M201.5 261.9h.7M191.7 263.3h.7M193.7 262.3h.7M197.1 263.7h.7M193.1 256.5h.7M190.2 260.4h.7M195.3 260.5h.7M194.6 261.8h.7M201.9 263.3h.7M191.1 258.1h.7M196.2 269.3h.7M187.3 266.2h.7M213.7 257.6h.7M197.7 261.2h.7M185.7 274.2h.7M196.2 254.2h.7M191.4 263.5h.7M190.9 261.7h.7M209.3 249.7h.7M204.5 258.8h.7M193.4 264.7h.7M196.7 257.7h.7M192.0 268.7h.7M200.3 260.4h.7M180.8 263.8h.7M206.3 261.1h.7M197.1 262.3h.7M191.1 266.3h.7M202.9 260.3h.7M189.2 266.9h.7M188.5 265.5h.7M180.2 261.2h.7M185.2 268.6h.7M187.8 268.5h.7M189.0 266.7h.7M191.8 269.7h.7M189.7 265.2h.7M203.8 262.8h.7M186.7 272.9h.7M183.0 265.2h.7M188.3 270.1h.7M185.9 269.8h.7M195.4 260.9h.7M199.8 267.5h.7M203.0 253.7h.7M194.0 261.0h.7M190.7 262.3h.7M195.2 258.4h.7M183.6 269.0h.7M197.3 265.6h.7M196.1 257.8h.7M186.5 268.4h.7M196.0 264.4h.7M198.4 250.8h.7M189.2 267.7h.7M187.8 273.1h.7M193.2 265.5h.7M191.9 265.3h.7M196.7 263.2h.7M179.2 263.7h.7M193.6 266.1h.7M190.6 263.9h.7M201.8 260.6h.7M186.1 268.0h.7M191.3 264.5h.7M193.2 265.4h.7M193.3 264.4h.7M192.6 262.6h.7M189.1 266.7h.7M198.9 266.1h.7M209.8 250.4h.7M189.9 269.4h.7M190.0 265.6h.7M184.6 270.7h.7M183.9 272.8h.7M187.1 267.7h.7M198.6 256.5h.7M195.8 270.2h.7M182.8 269.9h.7M178.8 273.2h.7M189.5 260.7h.7M186.3 272.3h.7M195.5 256.8h.7M197.1 257.0h.7M187.7 268.1h.7M192.9 265.4h.7M199.6 256.7h.7M197.4 261.8h.7M182.0 273.0h.7M197.7 254.8h.7M192.2 267.7h.7M198.7 258.3h.7M190.5 263.5h.7M184.0 269.1h.7M205.7 249.8h.7M190.9 260.6h.7M200.9 251.8h.7M200.2 260.7h.7M185.9 266.2h.7M196.3 268.2h.7M197.0 265.7h.7M200.8 258.9h.7M193.0 263.0h.7M207.2 260.0h.7M198.8 257.1h.7M192.1 266.9h.7M189.0 260.1h.7M182.6 271.3h.7M199.4 261.6h.7M201.4 251.8h.7M179.9 271.6h.7M197.6 257.0h.7M195.2 263.2h.7M187.7 262.9h.7M190.2 264.5h.7M197.6 259.2h.7M183.7 264.4h.7M190.3 266.9h.7M185.7 266.0h.7M197.0 261.8h.7M208.6 255.8h.7M201.1 266.9h.7M175.8 266.4h.7M187.1 267.2h.7M202.5 260.2h.7M186.1 261.4h.7M194.8 261.0h.7M183.1 263.9h.7M197.1 259.4h.7M193.8 262.2h.7M186.0 265.3h.7M187.7 265.9h.7M188.4 268.3h.7M185.5 268.5h.7M194.4 264.7h.7M171.3 278.6h.7M194.0 260.5h.7M188.9 263.8h.7M186.6 278.9h.7M191.3 265.7h.7M182.4 267.4h.7M174.3 273.6h.7M185.3 267.4h.7M197.2 265.7h.7M189.9 260.0h.7M188.9 267.5h.7M200.6 248.0h.7M181.0 267.0h.7M191.4 266.1h.7M202.8 259.1h.7M200.8 255.2h.7M182.4 262.2h.7M186.8 269.1h.7M194.9 269.6h.7M187.1 262.0h.7M191.4 255.1h.7M197.7 261.0h.7M181.5 271.2h.7M194.8 266.4h.7M187.9 263.2h.7M190.6 263.2h.7M184.8 271.0h.7M196.5 257.2h.7M184.6 262.9h.7M186.0 263.7h.7M191.7 265.8h.7M200.0 254.2h.7M182.8 263.6h.7M191.6 266.2h.7M183.9 267.6h.7M180.6 263.8h.7M187.9 268.6h.7M184.5 260.0h.7M182.4 267.2h.7M202.7 251.4h.7M212.9 254.2h.7M201.4 260.9h.7M171.9 275.7h.7M193.2 264.2h.7M199.8 257.8h.7M185.4 268.7h.7M192.5 264.3h.7M187.1 265.6h.7M171.5 278.0h.7M198.5 259.3h.7M191.3 265.9h.7M188.1 264.4h.7M206.7 261.3h.7M176.6 269.8h.7M194.5 264.6h.7M181.1 267.2h.7M198.1 264.3h.7M183.6 266.9h.7M191.1 268.3h.7M195.5 262.7h.7M206.7 257.6h.7M195.1 267.9h.7M206.3 260.6h.7M206.1 256.5h.7M175.8 271.6h.7M193.1 262.6h.7M198.1 260.9h.7M207.6 256.5h.7M201.4 262.8h.7M202.3 255.3h.7M203.0 256.9h.7M180.3 277.7h.7M196.6 266.0h.7M185.6 270.1h.7M191.2 274.0h.7M203.6 256.3h.7M174.4 274.4h.7M194.4 261.8h.7M194.5 260.9h.7M197.9 261.8h.7M188.1 269.4h.7M196.1 260.5h.7M185.4 263.7h.7M213.9 260.1h.7M197.4 258.5h.7M196.5 257.7h.7M180.9 262.0h.7M186.6 263.9h.7M200.9 259.8h.7M186.5 265.4h.7M191.1 263.9h.7M194.3 266.9h.7M181.3 270.8h.7M194.5 265.4h.7M190.3 261.4h.7M200.5 263.2h.7M188.6 270.1h.7M210.7 250.3h.7M192.8 252.6h.7M192.6 259.6h.7M195.5 260.7h.7M196.7 265.5h.7M201.3 262.0h.7M187.2 265.7h.7M191.5 262.2h.7M186.6 267.1h.7M195.8 260.5h.7M185.8 271.8h.7M191.1 271.4h.7M195.1 262.8h.7M202.0 258.1h.7M183.6 269.3h.7M178.2 273.4h.7M194.3 264.5h.7M196.0 269.0h.7M192.9 261.2h.7M214.6 250.1h.7M197.9 259.4h.7M190.0 264.6h.7M187.8 266.0h.7M189.7 262.9h.7M185.7 266.0h.7M175.0 275.0h.7M171.9 274.1h.7M190.2 261.9h.7M195.5 269.1h.7M192.1 261.3h.7M193.3 259.7h.7M176.7 269.3h.7M195.8 260.1h.7M197.1 263.1h.7M174.5 267.7h.7M182.7 263.5h.7M194.2 258.1h.7M185.3 272.8h.7M178.7 265.8h.7M200.6 258.4h.7M191.0 266.0h.7M186.1 265.4h.7M190.9 268.8h.7M188.2 259.8h.7M182.7 270.7h.7M178.2 265.4h.7M183.4 261.6h.7M196.7 268.8h.7M206.0 255.5h.7M202.7 257.7h.7M192.8 265.6h.7M191.2 261.9h.7M190.4 263.1h.7M196.1 265.2h.7M181.5 267.4h.7M185.8 273.7h.7M197.4 260.9h.7M186.0 270.7h.7M180.6 263.5h.7M188.3 270.6h.7M189.8 262.7h.7M188.5 269.0h.7M183.8 265.6h.7M196.5 263.0h.7M191.6 265.4h.7M190.7 255.8h.7M190.6 261.6h.7M190.6 264.0h.7M195.1 264.8h.7M183.1 265.9h.7M187.9 265.5h.7M180.1 270.7h.7M196.1 258.4h.7M179.4 273.8h.7M202.7 258.8h.7M205.0 260.2h.7M190.5 263.1h.7M210.4 255.2h.7M191.2 269.2h.7M185.2 265.8h.7M203.7 260.5h.7M190.1 268.5h.7M193.9 253.4h.7M192.5 266.9h.7M191.7 259.4h.7M196.9 258.2h.7M198.6 260.8h.7M198.8 256.4h.7M205.4 254.4h.7M189.4 262.9h.7M191.3 264.5h.7M190.9 266.8h.7M196.0 260.3h.7M191.8 264.5h.7M201.2 263.3h.7M186.4 269.7h.7M194.8 256.3h.7M198.2 266.5h.7M186.2 262.1h.7M176.0 273.2h.7M189.9 264.0h.7M195.9 256.2h.7M194.2 269.3h.7M202.1 254.8h.7M179.2 272.4h.7M194.8 262.6h.7M186.3 269.9h.7M183.6 264.0h.7M185.1 267.3h.7M189.1 260.2h.7M197.2 265.7h.7M180.6 272.4h.7M181.1 258.9h.7M191.0 259.3h.7M188.1 263.0h.7M171.1 273.2h.7M199.3 262.2h.7M183.0 271.8h.7M199.1 265.2h.7M209.8 259.7h.7M202.9 259.9h.7M190.0 259.6h.7M193.3 266.7h.7M197.5 257.5h.7M173.7 270.8h.7M179.3 272.0h.7M179.2 266.9h.7M188.9 264.0h.7M194.7 265.3h.7M196.6 266.3h.7M187.1 268.5h.7M214.5 251.6h.7M187.5 266.6h.7M190.0 263.3h.7M206.6 262.6h.7M187.5 263.0h.7M202.5 262.2h.7M194.4 265.9h.7M192.9 268.7h.7M193.1 264.3h.7M195.8 257.2h.7M194.7 263.1h.7M198.7 257.0h.7M176.1 270.5h.7M196.0 261.5h.7M198.1 266.1h.7M201.1 261.6h.7M192.7 259.3h.7M190.8 263.3h.7M185.5 268.0h.7M187.5 262.7h.7M180.8 263.0h.7M203.3 253.8h.7M182.8 259.1h.7M191.2 264.5h.7M193.1 259.3h.7M187.0 275.2h.7M189.8 266.3h.7M192.8 263.0h.7M204.1 258.4h.7M200.5 264.3h.7M198.6 259.8h.7M185.7 270.9h.7M189.3 259.1h.7M200.7 265.9h.7M200.5 260.0h.7M205.4 257.8h.7M184.9 268.7h.7M196.9 259.5h.7M183.6 263.5h.7M205.1 258.8h.7M188.4 271.4h.7M190.9 260.6h.7M187.6 268.9h.7M201.5 261.1h.7M185.0 257.6h.7M184.5 269.9h.7M182.1 264.3h.7M179.0 262.7h.7M198.9 250.7h.7M184.5 270.0h.7M198.6 263.9h.7M185.4 267.3h.7M204.7 252.6h.7M193.7 259.5h.7M178.0 268.2h.7M186.3 270.5h.7M202.6 266.3h.7M184.3 266.3h.7M195.0 259.3h.7M184.6 267.3h.7M198.1 257.1h.7M204.2 253.8h.7M201.4 261.5h.7M188.2 266.0h.7M199.8 253.7h.7M200.4 257.7h.7M201.1 262.9h.7M194.3 259.5h.7M190.8 259.7h.7M179.8 278.6h.7M181.7 259.6h.7M191.2 256.5h.7M198.2 266.5h.7M204.4 260.3h.7M187.9 262.3h.7M173.7 269.5h.7M188.5 262.6h.7M204.2 254.7h.7M191.7 267.8h.7M189.6 268.8h.7M194.7 258.6h.7M197.8 258.9h.7M189.8 267.6h.7M192.4 261.5h.7M202.5 263.5h.7M191.2 261.8h.7M190.4 265.3h.7M197.8 253.2h.7M205.7 257.2h.7M197.9 271.8h.7M206.1 263.2h.7M192.0 268.6h.7M178.9 269.3h.7M187.2 272.2h.7M193.2 257.2h.7M200.7 259.9h.7M202.7 270.4h.7M180.8 274.4h.7M188.1 267.5h.7M199.3 265.3h.7M200.4 261.4h.7M173.6 272.8h.7M193.2 261.6h.7M189.0 268.8h.7M192.1 261.7h.7M188.9 262.3h.7M185.8 265.0h.7M202.4 264.4h.7M194.7 258.8h.7M189.8 267.0h.7M189.4 268.6h.7M207.1 260.9h.7M187.5 267.4h.7M193.2 265.3h.7M185.2 268.4h.7M192.6 259.8h.7M194.4 264.6h.7M190.3 262.4h.7M194.8 263.4h.7M185.6 266.5h.7M190.5 260.7h.7M194.4 259.7h.7M185.3 272.5h.7M199.1 253.9h.7M186.9 262.4h.7M179.2 275.5h.7M190.2 268.4h.7M186.7 262.1h.7M197.0 258.6h.7M195.4 255.6h.7M206.1 262.0h.7M183.2 260.0h.7M176.8 271.4h.7M176.2 271.2h.7M192.8 260.6h.7M195.0 260.2h.7M185.6 267.3h.7M187.3 267.7h.7M191.1 270.5h.7M186.5 269.8h.7M195.8 263.3h.7M187.9 262.2h.7M176.0 269.6h.7M198.0 261.7h.7M196.4 255.8h.7M192.8 260.9h.7M180.9 273.7h.7M203.3 255.6h.7M198.7 258.9h.7M180.2 262.5h.7M199.8 263.8h.7M190.9 268.9h.7M196.8 257.7h.7M200.3 262.0h.7M186.6 265.2h.7M193.0 259.8h.7M183.4 269.5h.7M208.6 255.2h.7M187.1 264.2h.7M201.6 254.3h.7M184.1 265.7h.7M189.3 262.6h.7M191.0 264.5h.7M202.6 259.1h.7M177.8 270.8h.7M182.3 264.4h.7M187.3 262.9h.7M190.7 261.9h.7M201.9 256.6h.7M183.2 271.3h.7M187.1 267.8h.7M176.0 265.5h.7M177.3 267.9h.7M180.9 276.8h.7M202.2 254.5h.7M208.3 258.4h.7M184.1 266.6h.7M194.2 257.4h.7M195.0 257.2h.7M204.1 264.9h.7M196.2 265.9h.7M193.5 264.3h.7M184.9 268.0h.7M205.5 260.3h.7M182.2 267.4h.7M197.6 263.4h.7M189.3 259.6h.7M188.2 268.2h.7M198.2 257.3h.7M197.7 266.1h.7M182.8 264.2h.7M193.4 267.3h.7M191.6 264.9h.7M182.3 270.3h.7M176.4 273.0h.7M191.4 269.9h.7M194.8 256.0h.7M207.1 263.7h.7M193.6 263.7h.7M186.4 265.1h.7M191.1 266.2h.7M192.6 262.2h.7M187.7 277.4h.7M202.4 261.9h.7M186.5 264.1h.7M188.5 264.0h.7M196.3 254.2h.7M191.2 263.1h.7M191.3 266.2h.7M193.6 262.6h.7M190.0 255.0h.7M196.6 259.6h.7M194.4 260.7h.7M182.5 272.1h.7M187.9 267.1h.7M185.6 264.9h.7M197.3 254.2h.7M205.9 259.1h.7M194.8 264.7h.7M209.8 252.2h.7M176.9 268.9h.7M187.0 264.9h.7M181.4 269.5h.7M198.5 262.1h.7M190.6 258.6h.7M196.4 262.0h.7M196.1 260.9h.7M199.2 254.7h.7M192.3 266.6h.7M190.1 266.2h.7M205.8 266.9h.7M178.4 272.0h.7M192.7 260.5h.7M188.8 258.1h.7M199.2 261.2h.7M186.7 270.2h.7M184.1 266.7h.7M205.6 248.6h.7M177.8 273.6h.7M197.8 269.1h.7M204.6 258.0h.7M181.3 266.8h.7M191.8 269.4h.7M187.7 267.0h.7M183.4 271.2h.7M207.1 254.0h.7M187.7 261.9h.7M189.3 262.4h.7M185.7 273.0h.7M191.8 265.0h.7M194.3 262.6h.7M191.3 262.7h.7M194.0 258.4h.7M185.1 267.4h.7M189.4 258.6h.7M185.3 263.4h.7M193.6 267.9h.7M184.9 269.6h.7M201.1 257.2h.7M193.9 258.2h.7M180.5 274.1h.7M195.9 268.3h.7M190.2 261.7h.7M202.3 264.8h.7M198.0 257.5h.7M195.5 264.1h.7M187.0 265.5h.7M203.3 258.9h.7M194.2 261.3h.7M194.0 262.0h.7M194.4 264.3h.7M186.6 267.6h.7M187.4 266.7h.7M180.6 270.0h.7M190.0 267.0h.7M186.7 260.6h.7M186.2 253.8h.7M188.4 270.2h.7M184.9 265.7h.7M185.5 268.9h.7M187.4 269.1h.7M192.4 257.8h.7M202.5 252.0h.7M191.5 266.8h.7M175.8 271.9h.7M198.4 262.7h.7M189.1 265.5h.7M199.6 253.2h.7M189.6 271.6h.7M194.2 264.3h.7M186.9 263.8h.7M185.3 273.1h.7M190.2 258.9h.7M195.7 258.8h.7M197.6 254.1h.7M186.6 265.5h.7M181.0 272.2h.7M197.6 258.8h.7M180.0 263.6h.7M196.1 260.2h.7M187.9 266.4h.7M191.4 257.1h.7M198.7 257.9h.7M191.7 263.0h.7M195.8 265.8h.7M183.4 267.6h.7M182.8 267.1h.7M190.7 263.3h.7M192.5 262.2h.7M202.5 257.8h.7M204.6 256.1h.7M187.4 270.0h.7M199.6 255.6h.7M191.8 261.0h.7M186.8 268.7h.7M195.8 265.7h.7M189.2 268.4h.7M201.3 258.6h.7M189.5 267.3h.7M197.2 255.6h.7M197.6 268.5h.7M192.6 261.9h.7M195.3 262.5h.7M201.1 254.8h.7M181.7 268.0h.7M200.8 257.5h.7M197.5 260.9h.7M195.2 267.3h.7M193.5 268.5h.7M205.2 257.9h.7M196.2 262.9h.7M192.2 262.9h.7M201.8 261.2h.7M192.6 263.1h.7M200.8 262.7h.7M191.7 270.7h.7M191.2 267.1h.7M191.1 263.4h.7M195.3 260.1h.7M187.6 258.5h.7M195.7 256.7h.7M199.6 261.5h.7M199.5 265.0h.7M196.9 260.8h.7M186.3 261.8h.7M197.4 254.8h.7M196.7 257.1h.7M182.1 274.0h.7M194.1 263.3h.7M194.0 271.1h.7M188.9 267.8h.7M200.6 264.7h.7M193.6 265.3h.7M186.6 260.7h.7M192.4 270.3h.7M186.6 263.0h.7M201.0 255.6h.7M194.3 262.7h.7M187.5 260.9h.7M206.2 260.2h.7M196.1 262.8h.7M192.7 268.8h.7M182.1 260.9h.7M192.7 264.3h.7M195.2 264.0h.7M195.2 258.3h.7M185.9 269.8h.7M194.7 260.9h.7M189.6 267.0h.7M197.8 269.1h.7M198.9 261.8h.7M201.4 251.6h.7M188.3 262.0h.7M181.4 270.2h.7M208.8 253.5h.7M176.0 266.9h.7M185.9 269.4h.7M198.5 253.3h.7M194.3 257.3h.7M201.6 259.5h.7M191.2 259.5h.7M179.4 266.8h.7M194.1 267.4h.7M202.6 249.5h.7M193.2 262.5h.7M182.2 265.2h.7M196.6 253.6h.7M185.0 268.3h.7M205.9 259.6h.7M188.7 257.5h.7M189.9 267.4h.7M189.1 270.6h.7M192.5 263.5h.7M186.8 268.3h.7M183.6 266.7h.7M196.4 260.9h.7M208.3 248.0h.7M185.9 263.2h.7M188.0 275.5h.7M176.8 273.6h.7M189.2 263.9h.7M185.6 267.8h.7M189.9 266.1h.7M187.0 267.7h.7M195.5 268.9h.7M191.1 268.2h.7M196.1 262.9h.7M194.5 261.8h.7M188.3 264.3h.7M179.4 269.0h.7M181.3 266.7h.7M174.3 273.0h.7M187.4 267.6h.7M191.5 272.4h.7M187.1 259.9h.7M184.6 262.9h.7M192.9 271.6h.7M196.5 256.2h.7M204.1 255.1h.7M205.5 263.1h.7M182.9 261.3h.7M190.8 264.5h.7M190.5 269.8h.7M194.2 263.2h.7M197.9 259.0h.7M188.4 263.4h.7M199.2 266.3h.7M195.3 266.9h.7M186.6 268.0h.7M198.8 249.5h.7M186.0 265.0h.7M205.4 258.6h.7M207.7 249.3h.7M204.8 258.4h.7M197.5 263.1h.7M191.2 257.3h.7M198.0 265.4h.7M185.9 266.1h.7M201.9 254.5h.7M194.9 262.7h.7M186.1 265.0h.7M180.0 267.3h.7M181.6 269.7h.7M202.3 254.6h.7M182.6 271.6h.7M200.8 258.0h.7M192.4 258.5h.7M204.1 259.7h.7M205.6 262.7h.7M195.9 256.2h.7M194.4 261.9h.7M192.2 254.4h.7M192.7 267.2h.7M204.6 258.4h.7M203.3 257.5h.7M181.1 269.2h.7M183.9 257.4h.7M182.2 261.9h.7M201.1 260.7h.7M178.1 262.4h.7M192.8 271.3h.7M175.9 269.9h.7M189.2 267.9h.7M196.6 256.4h.7M184.5 263.6h.7M193.9 259.0h.7M207.9 257.2h.7M190.0 263.8h.7M207.6 252.0h.7M185.8 266.2h.7M188.8 258.2h.7M196.1 256.8h.7M192.5 253.2h.7M188.4 261.8h.7M197.0 263.1h.7M173.8 271.7h.7M201.8 261.3h.7M195.3 258.5h.7M182.1 272.4h.7M192.0 263.9h.7M191.8 264.9h.7M198.8 257.9h.7M194.5 260.5h.7M187.4 271.3h.7M199.1 262.4h.7M191.3 264.4h.7M187.4 276.1h.7M189.9 265.4h.7M188.3 262.5h.7M178.9 273.4h.7M194.6 263.8h.7M188.1 269.6h.7M184.6 268.1h.7M200.1 254.2h.7M192.1 257.1h.7M187.9 269.5h.7M186.3 268.6h.7M191.3 260.4h.7M189.7 266.2h.7M195.8 265.4h.7M195.6 259.4h.7M185.3 263.8h.7M194.3 262.3h.7M189.4 270.6h.7M195.9 262.9h.7M195.4 265.9h.7M205.2 258.6h.7M180.5 273.6h.7M194.0 252.5h.7M206.6 259.8h.7M184.9 269.0h.7M192.4 262.7h.7M190.5 271.5h.7M205.6 256.4h.7M191.4 263.8h.7M198.7 261.1h.7M180.5 262.8h.7M191.9 262.6h.7M184.4 264.8h.7M186.5 268.0h.7M195.8 256.4h.7M196.7 260.2h.7M190.6 266.3h.7M194.0 264.8h.7M187.4 263.4h.7M193.6 257.2h.7M197.8 263.4h.7M195.7 255.5h.7M211.2 254.0h.7M178.0 276.2h.7M181.5 266.1h.7M191.4 266.2h.7M190.4 260.4h.7M183.2 270.5h.7M195.0 260.6h.7M191.3 255.3h.7M195.8 262.7h.7M204.1 250.0h.7M180.7 265.3h.7M201.2 259.3h.7M195.9 260.6h.7M189.4 266.3h.7M192.0 263.9h.7M193.0 260.6h.7M196.9 260.0h.7M185.7 267.2h.7M191.5 265.5h.7M215.5 250.9h.7M188.5 264.1h.7M198.1 259.5h.7M185.8 264.6h.7M195.6 265.6h.7M200.2 260.8h.7M200.2 259.8h.7M204.3 261.2h.7M192.9 264.8h.7M200.9 252.0h.7M190.0 265.2h.7M173.0 277.8h.7M190.4 264.0h.7M204.2 265.8h.7M183.9 269.0h.7M182.6 267.6h.7M185.5 264.7h.7M199.9 259.4h.7M187.2 272.4h.7M183.5 277.2h.7M199.9 263.1h.7M202.1 255.8h.7M200.4 259.0h.7M195.9 259.9h.7M194.9 270.2h.7M192.5 260.1h.7M186.8 262.3h.7M193.4 262.0h.7M206.9 257.3h.7M195.8 257.8h.7M191.2 263.4h.7M190.1 266.9h.7M197.6 264.8h.7M193.6 261.5h.7M190.4 262.3h.7M184.2 264.4h.7M190.7 264.9h.7M182.6 274.1h.7M200.0 264.7h.7M195.3 258.7h.7M198.6 261.3h.7M186.6 262.1h.7M188.4 264.5h.7M187.6 271.3h.7M187.1 263.4h.7M192.3 264.5h.7M197.8 264.6h.7M191.8 266.3h.7M197.0 257.8h.7M195.3 265.2h.7M197.2 258.5h.7M199.9 259.0h.7M185.5 264.4h.7M196.8 265.4h.7M190.9 267.3h.7M196.9 262.4h.7M201.7 263.0h.7M189.3 270.6h.7M206.7 256.3h.7M190.2 269.2h.7M189.9 258.5h.7M199.0 259.3h.7M182.4 271.2h.7M199.4 265.7h.7M197.1 257.5h.7M196.4 264.8h.7M187.9 263.0h.7M191.8 261.3h.7M191.8 268.4h.7M186.1 264.1h.7M190.4 259.4h.7M192.8 261.9h.7M185.5 268.3h.7M183.8 273.6h.7M188.4 263.1h.7M187.3 265.3h.7M196.7 260.6h.7M194.8 263.1h.7M196.1 263.8h.7M201.6 258.9h.7M200.3 267.0h.7M188.3 265.6h.7M182.1 275.1h.7M200.7 257.0h.7M198.1 255.5h.7M204.9 248.6h.7M188.2 265.5h.7M191.7 266.9h.7M188.5 259.2h.7M191.2 260.4h.7M189.8 269.5h.7M189.9 263.7h.7M196.7 252.4h.7M197.6 263.5h.7M182.5 272.0h.7M196.1 256.5h.7M195.1 270.6h.7M193.0 261.8h.7M199.9 256.8h.7M187.2 263.7h.7M176.3 276.2h.7M190.3 260.0h.7M202.2 265.9h.7M200.0 250.7h.7M201.5 262.9h.7M200.5 258.2h.7M199.4 256.1h.7M186.9 262.5h.7M179.9 272.0h.7M180.4 265.3h.7M193.9 264.5h.7M193.7 261.8h.7M197.7 264.3h.7M192.6 262.0h.7M193.3 268.3h.7M198.1 258.4h.7M198.1 264.0h.7M195.2 265.5h.7M197.5 259.1h.7M194.0 262.7h.7M189.4 265.8h.7M191.7 257.5h.7M178.0 269.9h.7M186.5 266.3h.7M183.5 263.9h.7M191.2 255.1h.7M195.5 263.4h.7M192.2 264.6h.7M181.6 271.4h.7M192.3 262.3h.7M197.5 258.3h.7M196.4 259.0h.7M191.7 266.9h.7M191.9 264.1h.7M200.6 261.7h.7M189.6 262.1h.7M198.4 259.8h.7M200.2 270.7h.7M189.9 261.8h.7M193.7 261.8h.7M196.3 261.1h.7M185.6 271.7h.7M184.4 266.0h.7M193.3 257.3h.7M203.7 258.8h.7M203.4 258.5h.7M184.6 269.7h.7M183.0 267.5h.7M196.9 264.2h.7M192.4 264.3h.7M180.5 264.2h.7M192.6 260.5h.7M181.0 265.8h.7M187.6 265.3h.7M190.2 263.9h.7M182.3 266.8h.7M199.5 265.2h.7M200.1 255.4h.7M198.6 260.7h.7M187.6 266.2h.7M178.7 262.7h.7M197.9 266.6h.7M185.7 262.4h.7M203.0 255.1h.7M187.9 273.1h.7M188.0 268.1h.7M191.7 254.7h.7M204.8 253.4h.7M191.3 266.4h.7M202.7 262.0h.7M184.1 267.6h.7M185.7 266.5h.7M185.4 263.1h.7M200.5 255.2h.7M184.0 265.2h.7M194.1 266.2h.7M192.5 264.7h.7M191.3 272.2h.7M191.7 267.2h.7M196.3 263.1h.7M189.3 264.1h.7M204.7 259.3h.7M183.0 267.4h.7M191.2 267.1h.7M194.6 263.8h.7M186.8 263.9h.7M186.3 276.7h.7M193.6 264.9h.7M192.1 255.9h.7M194.7 263.6h.7M193.8 263.2h.7M194.5 267.2h.7M194.7 254.0h.7M198.9 260.1h.7M188.2 270.2h.7M195.8 256.9h.7M185.5 266.6h.7M192.1 262.1h.7M183.7 264.2h.7M194.8 262.5h.7M201.2 265.3h.7M188.8 264.7h.7M196.5 259.3h.7M207.2 256.8h.7M197.5 259.8h.7M191.8 256.2h.7M209.2 252.5h.7M198.9 260.7h.7M193.8 264.8h.7M202.3 257.3h.7M194.1 265.1h.7M204.8 260.5h.7M191.7 261.0h.7M194.4 265.9h.7M198.9 265.0h.7M183.7 270.2h.7M197.2 259.5h.7M197.3 264.6h.7M187.5 263.0h.7M185.5 265.3h.7M190.1 264.9h.7M183.0 268.1h.7M203.8 257.7h.7M196.8 260.4h.7M194.8 267.5h.7M202.6 255.5h.7M185.7 268.1h.7M183.2 268.1h.7M203.7 263.1h.7M193.6 259.8h.7M183.4 257.5h.7M185.5 263.1h.7M190.1 261.8h.7M193.0 265.7h.7M181.2 270.1h.7M189.8 263.1h.7M180.5 268.8h.7M186.9 270.0h.7M201.9 256.7h.7M195.1 262.2h.7M198.7 260.0h.7M181.7 266.7h.7M198.1 257.6h.7M176.7 276.3h.7M185.7 266.7h.7M190.7 268.1h.7M184.2 261.7h.7M198.5 265.6h.7M198.6 258.8h.7M193.9 265.1h.7M193.3 264.8h.7M182.2 263.5h.7M198.6 263.3h.7M201.1 257.2h.7M212.4 254.4h.7M184.2 263.3h.7M197.0 261.5h.7M196.0 263.3h.7M196.1 268.8h.7M182.2 273.2h.7M181.7 267.8h.7M204.4 268.3h.7M197.1 257.2h.7M196.2 267.7h.7M184.3 266.9h.7M178.3 269.3h.7M200.0 266.9h.7M183.0 260.6h.7M193.7 264.1h.7M188.7 265.2h.7M209.3 256.5h.7M182.2 259.8h.7M198.1 254.9h.7M203.5 263.4h.7M186.0 268.8h.7M186.2 263.7h.7M184.3 266.0h.7M196.0 258.2h.7M185.8 269.7h.7M185.3 268.4h.7M195.8 263.8h.7M198.4 268.8h.7M193.3 260.9h.7M191.9 264.5h.7M211.6 247.5h.7M186.5 272.2h.7M188.5 269.9h.7M204.4 254.3h.7M190.7 261.7h.7M193.4 265.0h.7M197.2 262.1h.7M187.4 268.5h.7M188.6 264.5h.7M206.5 261.8h.7M197.9 261.5h.7M182.0 262.6h.7M194.6 259.2h.7M192.7 258.7h.7M197.4 256.9h.7M206.0 261.4h.7M188.8 260.5h.7M190.9 267.9h.7M201.1 262.5h.7M199.5 261.1h.7M205.4 258.9h.7M196.8 267.3h.7M190.4 260.0h.7M187.8 261.3h.7M185.5 267.8h.7M190.2 268.8h.7M172.2 274.3h.7M203.2 255.5h.7M196.1 265.6h.7M192.0 261.4h.7M193.9 253.6h.7M193.4 261.1h.7M197.2 262.4h.7M199.0 252.6h.7M187.4 267.0h.7M201.7 255.0h.7M198.5 259.0h.7M186.4 262.3h.7M183.1 269.0h.7M180.8 272.2h.7M183.0 270.4h.7M201.6 253.9h.7M196.9 267.9h.7M185.5 271.6h.7M206.4 247.4h.7M200.0 258.8h.7M190.6 268.4h.7M184.8 255.9h.7M188.6 263.2h.7M196.5 259.1h.7M194.0 262.6h.7M194.1 259.6h.7M191.2 261.6h.7M187.6 264.6h.7M195.7 266.9h.7M196.7 262.2h.7M192.2 267.7h.7M197.6 262.9h.7M194.2 266.0h.7M194.7 260.9h.7M201.3 261.7h.7M200.0 259.5h.7M180.0 269.8h.7M191.4 259.0h.7M193.7 258.5h.7M196.4 255.7h.7M179.8 269.2h.7M190.0 265.8h.7M201.9 258.4h.7M204.6 258.8h.7M194.7 264.3h.7M195.3 262.1h.7M202.9 254.5h.7M185.6 265.3h.7M194.4 265.3h.7M209.7 253.8h.7M179.8 261.7h.7M197.8 254.0h.7M204.5 258.6h.7M187.1 270.0h.7M193.7 268.6h.7M185.8 266.7h.7M188.9 261.1h.7M196.3 263.0h.7M200.9 256.1h.7M194.8 259.0h.7M186.1 269.3h.7M188.6 266.3h.7M194.5 257.8h.7M198.8 259.1h.7M193.4 263.6h.7M193.8 271.1h.7M181.5 264.4h.7M180.7 270.2h.7M207.0 255.7h.7M193.2 265.6h.7M203.1 254.7h.7M203.1 260.4h.7M187.4 269.4h.7M202.6 253.0h.7M197.8 265.3h.7M182.9 266.3h.7M204.5 261.8h.7M178.6 262.6h.7M186.7 266.0h.7M191.6 263.5h.7M194.6 259.9h.7M198.0 261.2h.7M207.8 259.1h.7M184.6 274.3h.7M190.2 268.2h.7M201.3 257.7h.7M195.1 261.1h.7M198.6 255.2h.7M189.9 266.9h.7M188.6 265.1h.7M199.9 262.0h.7M207.6 250.7h.7M182.6 266.9h.7M183.9 271.7h.7M194.2 265.3h.7M184.2 262.3h.7M178.0 269.0h.7M178.3 271.7h.7M196.6 262.2h.7M199.1 248.3h.7M199.5 262.0h.7M186.4 270.2h.7M197.6 267.3h.7M207.1 250.9h.7M196.2 262.3h.7M195.1 261.3h.7M199.0 270.1h.7M203.3 263.0h.7M198.1 261.3h.7M176.6 269.6h.7M197.7 260.7h.7M192.9 260.4h.7M196.6 261.6h.7M194.1 259.3h.7M184.1 269.6h.7M187.1 263.3h.7M204.1 260.4h.7M199.7 257.8h.7M197.6 267.1h.7M193.6 261.6h.7M199.8 257.5h.7M188.6 268.5h.7M196.6 267.7h.7M197.1 260.9h.7M187.2 265.4h.7M193.0 261.0h.7M191.6 269.2h.7M189.8 260.5h.7M198.3 252.2h.7M195.8 267.2h.7M192.5 273.7h.7M186.5 267.5h.7M202.4 254.7h.7M186.0 268.6h.7M192.9 265.7h.7M190.8 266.8h.7M194.0 264.4h.7M201.2 261.6h.7M187.4 266.8h.7M218.2 250.5h.7M198.8 259.9h.7M170.9 273.7h.7M185.3 275.0h.7M178.5 270.6h.7M197.3 261.2h.7M183.2 266.2h.7M197.7 260.6h.7M189.3 264.9h.7M189.3 265.4h.7M192.8 266.3h.7M196.3 261.7h.7M193.9 259.6h.7M182.2 272.5h.7M197.4 259.1h.7M204.5 257.2h.7M188.9 268.5h.7M193.9 262.7h.7M200.8 266.8h.7M181.6 263.0h.7M186.9 272.3h.7M201.9 258.7h.7M181.0 274.7h.7M197.3 259.4h.7M196.0 266.2h.7M181.5 272.9h.7M198.0 263.6h.7M195.8 261.8h.7M189.6 267.4h.7M195.5 256.2h.7M204.4 262.2h.7M196.9 261.7h.7M182.2 268.9h.7M189.4 265.8h.7M182.3 272.0h.7M189.3 263.0h.7M183.8 265.3h.7M186.3 267.1h.7M181.9 268.5h.7M197.7 265.3h.7M189.6 263.1h.7M186.0 269.4h.7M185.0 265.3h.7M200.6 255.3h.7M186.6 263.3h.7M181.0 272.5h.7M207.4 264.2h.7M192.2 269.1h.7M176.6 263.2h.7M196.9 260.6h.7M184.9 264.4h.7M188.9 263.4h.7M171.1 273.6h.7M201.8 260.7h.7M181.2 263.9h.7M193.1 262.1h.7M199.4 261.7h.7M180.4 265.1h.7M185.0 269.1h.7M200.5 254.3h.7M192.8 262.9h.7M191.2 267.1h.7M191.0 262.7h.7M195.8 266.5h.7M195.6 261.6h.7M196.9 265.0h.7M199.7 259.5h.7M211.4 249.8h.7M188.9 270.5h.7M191.3 264.7h.7M187.0 267.4h.7M192.8 265.5h.7M187.9 261.2h.7M180.1 266.2h.7M215.6 251.4h.7M212.5 250.9h.7M187.0 264.2h.7M180.6 271.2h.7M185.0 268.1h.7M192.3 269.8h.7M207.1 256.5h.7M189.8 271.5h.7M200.2 260.2h.7M178.7 280.4h.7M205.8 254.5h.7M197.0 259.4h.7M197.3 261.3h.7M184.2 266.5h.7M182.0 270.2h.7M199.1 261.9h.7M191.3 262.3h.7M200.0 261.6h.7M187.4 261.0h.7M206.7 257.1h.7M196.1 260.3h.7M197.8 263.1h.7M191.9 262.6h.7M190.2 262.0h.7M197.2 258.7h.7M185.6 269.2h.7M187.3 273.3h.7M191.8 263.9h.7M202.4 257.8h.7M190.1 261.7h.7M199.4 262.1h.7M194.6 265.7h.7M191.8 268.7h.7M185.2 263.7h.7M188.2 273.2h.7M180.9 270.6h.7M182.6 267.0h.7M196.5 270.4h.7M200.4 261.5h.7M203.1 261.3h.7M198.7 261.3h.7M205.9 261.5h.7M197.7 262.6h.7M193.6 267.1h.7M192.9 270.1h.7M186.5 268.8h.7M188.8 264.9h.7M191.7 261.4h.7M189.7 263.2h.7M208.1 258.2h.7M186.7 265.7h.7M196.7 262.4h.7M196.3 255.1h.7M193.1 258.8h.7M188.7 263.0h.7M192.0 261.0h.7M187.7 271.3h.7M187.9 268.9h.7M189.4 263.2h.7M197.6 260.5h.7M203.0 251.2h.7M195.5 262.0h.7M209.1 249.3h.7M189.7 259.8h.7M199.9 264.4h.7M188.4 269.8h.7M209.9 255.0h.7M185.3 265.7h.7M187.6 268.6h.7M203.6 254.7h.7M209.6 257.6h.7M196.5 266.6h.7M207.4 253.6h.7M191.7 262.9h.7M201.5 256.6h.7M196.1 257.4h.7M200.3 258.4h.7M202.3 266.6h.7M187.3 270.2h.7M187.7 263.1h.7M197.1 259.6h.7M195.7 266.2h.7M201.6 265.4h.7M199.1 260.3h.7M213.7 253.3h.7M193.4 260.4h.7M197.2 259.2h.7M187.3 272.8h.7M188.2 262.8h.7M186.3 271.1h.7M190.2 263.3h.7M195.5 267.4h.7M206.7 259.4h.7M197.2 263.3h.7M194.7 266.9h.7M183.2 270.2h.7M195.7 265.6h.7M190.9 262.2h.7M192.5 264.3h.7M177.9 277.5h.7M199.3 258.4h.7M189.0 268.9h.7M194.1 260.1h.7M183.4 269.6h.7M190.9 265.5h.7M199.8 250.6h.7M185.3 271.5h.7M202.7 255.8h.7M190.2 261.1h.7M197.8 258.6h.7M181.8 270.1h.7M197.9 260.2h.7M201.4 257.4h.7M182.7 266.0h.7M186.1 271.5h.7M186.0 264.5h.7M199.2 261.9h.7M189.8 264.4h.7M173.1 275.8h.7M200.0 262.1h.7M193.7 259.4h.7M208.0 254.6h.7M187.7 264.3h.7M189.8 263.9h.7M188.9 267.4h.7M183.4 261.5h.7M176.3 262.3h.7M191.6 262.3h.7M198.7 258.5h.7M191.8 262.3h.7M202.5 257.0h.7M179.2 264.3h.7M192.6 267.6h.7M177.6 266.5h.7M194.3 261.0h.7M207.7 255.4h.7M189.9 266.1h.7M178.1 269.9h.7M192.7 263.4h.7M183.9 265.7h.7M186.9 264.1h.7M182.3 268.1h.7M189.2 262.4h.7M194.8 256.4h.7M191.2 269.5h.7M194.5 262.5h.7M193.0 259.3h.7M177.1 267.2h.7M184.7 264.8h.7M191.9 264.5h.7M188.9 266.7h.7M191.1 257.4h.7M192.1 267.3h.7M191.2 262.3h.7M204.6 263.1h.7M192.2 268.8h.7M187.3 266.6h.7M187.5 264.0h.7M195.7 265.9h.7M190.7 264.8h.7M200.6 260.9h.7M186.1 266.5h.7M191.0 267.9h.7M213.0 251.5h.7M196.1 258.3h.7M179.6 269.6h.7M194.3 267.2h.7M188.9 268.1h.7M195.1 256.0h.7M195.9 255.3h.7M195.5 267.0h.7M194.6 260.0h.7M189.0 260.7h.7M184.6 262.1h.7M195.5 260.3h.7M188.8 269.5h.7M178.2 271.1h.7M204.1 258.1h.7M196.2 262.3h.7M191.2 271.9h.7M205.0 251.5h.7M188.0 264.9h.7M171.1 268.9h.7M185.5 268.9h.7M193.0 264.7h.7M192.3 265.5h.7M196.7 256.8h.7M197.8 267.3h.7M188.3 266.5h.7M198.3 258.3h.7M197.2 254.0h.7M200.1 263.2h.7M188.5 267.6h.7M199.2 259.8h.7M199.5 268.2h.7M195.5 258.5h.7M185.3 269.0h.7M194.3 258.8h.7M199.0 258.9h.7M180.3 268.2h.7M195.2 262.5h.7M189.8 265.6h.7M199.5 258.9h.7M186.0 265.0h.7M192.5 267.1h.7M183.1 268.2h.7M198.8 265.5h.7M183.9 271.7h.7M184.2 262.6h.7M191.7 266.0h.7M197.9 262.1h.7M187.4 270.9h.7M195.7 266.2h.7M184.5 266.2h.7M183.9 268.2h.7M183.9 273.6h.7M196.8 262.8h.7M190.8 263.6h.7M188.4 266.8h.7M178.7 270.9h.7M187.3 277.1h.7M184.8 270.0h.7M197.3 259.4h.7M188.4 261.5h.7M200.5 257.0h.7M191.5 265.1h.7M180.0 264.2h.7M193.5 256.1h.7M208.4 258.0h.7M184.4 271.7h.7M180.8 268.6h.7M192.0 260.9h.7M189.6 258.0h.7M194.4 265.6h.7M199.2 251.7h.7M191.6 267.4h.7M207.4 253.4h.7M201.2 262.9h.7M193.8 263.5h.7M180.3 275.8h.7M200.1 256.3h.7M208.9 254.4h.7M193.2 269.3h.7M194.4 265.2h.7M195.8 264.5h.7M184.0 268.0h.7M204.2 261.7h.7M192.9 267.5h.7M185.4 266.7h.7M194.2 261.7h.7M192.9 263.4h.7M203.0 261.4h.7M202.3 262.7h.7M185.7 265.8h.7M192.1 260.5h.7M191.6 269.9h.7M197.4 264.9h.7M198.6 258.2h.7M199.9 265.1h.7M201.8 252.8h.7M194.0 265.6h.7M196.3 265.4h.7M187.4 268.1h.7M179.3 262.7h.7M184.7 268.5h.7M191.5 259.2h.7M198.4 261.1h.7M171.1 268.2h.7M200.4 258.0h.7M197.4 257.5h.7M195.9 261.2h.7M191.0 260.7h.7M195.2 262.8h.7M190.6 264.1h.7M192.1 266.2h.7M187.2 267.1h.7M180.9 264.5h.7M200.9 257.5h.7M193.9 260.3h.7M193.0 263.9h.7M173.9 270.1h.7M174.4 272.4h.7M190.7 263.4h.7M182.7 266.0h.7M193.1 260.6h.7M199.9 253.4h.7M193.2 266.6h.7M191.3 270.9h.7M193.6 258.6h.7M187.5 264.5h.7M193.5 265.3h.7M189.0 268.3h.7M190.2 257.1h.7M185.9 263.0h.7M180.3 277.5h.7M206.3 257.7h.7M194.4 265.6h.7M190.0 263.0h.7M193.2 262.6h.7M183.9 264.9h.7M192.5 261.9h.7M185.2 255.0h.7M188.7 263.8h.7M195.8 255.2h.7M193.8 268.5h.7M184.6 266.4h.7M201.4 264.1h.7M201.0 253.5h.7M202.8 261.0h.7M185.2 275.3h.7M193.1 263.0h.7M184.8 269.4h.7M193.5 258.1h.7M188.2 266.4h.7M202.3 256.1h.7M198.8 260.2h.7M181.4 272.1h.7M194.4 256.6h.7M191.2 266.8h.7M195.7 262.8h.7M200.4 262.7h.7M191.4 270.0h.7M200.0 259.5h.7M187.5 264.1h.7M202.8 258.0h.7M210.6 258.1h.7M178.5 277.7h.7M200.1 265.2h.7M190.6 270.4h.7M200.3 259.5h.7M191.0 265.4h.7M196.9 264.6h.7M198.1 270.2h.7M199.7 256.4h.7M180.0 271.3h.7M178.8 272.6h.7M200.7 257.4h.7M199.5 259.2h.7M186.2 265.7h.7M181.2 267.9h.7M190.4 256.0h.7M198.4 267.1h.7M193.6 267.8h.7M192.1 265.1h.7M197.0 262.9h.7M180.4 264.9h.7M179.8 264.3h.7M203.4 255.4h.7M193.6 262.0h.7M189.3 270.0h.7M181.9 266.7h.7M193.9 261.5h.7M191.1 265.3h.7M198.1 248.8h.7M183.6 260.8h.7M202.3 259.3h.7M194.3 260.0h.7M182.5 266.3h.7M186.4 265.7h.7M199.3 266.4h.7M203.0 255.2h.7M190.3 264.2h.7M193.6 259.1h.7M197.5 257.1h.7M189.9 262.1h.7M196.1 261.4h.7M193.0 261.0h.7M194.3 263.8h.7M194.0 270.0h.7M194.1 258.1h.7M188.7 262.7h.7M200.1 261.1h.7M197.3 258.0h.7M186.1 263.3h.7M195.3 255.6h.7M198.7 256.5h.7M189.0 265.3h.7M208.2 254.2h.7M203.6 254.3h.7M185.2 268.6h.7M184.6 273.2h.7M185.7 258.5h.7M181.2 268.9h.7M194.6 261.2h.7M188.8 262.0h.7M176.6 271.4h.7M187.9 260.9h.7M192.0 262.5h.7M192.9 257.5h.7M189.8 270.5h.7M197.8 263.7h.7M190.2 266.9h.7M197.9 259.7h.7M202.7 257.2h.7M204.3 259.2h.7M191.5 257.3h.7M199.0 266.9h.7M187.6 265.5h.7M192.7 267.5h.7M186.1 270.4h.7M189.4 267.0h.7M189.2 264.3h.7M185.2 272.7h.7M192.6 265.2h.7M197.5 256.3h.7M178.5 272.7h.7M201.1 255.6h.7M195.5 265.7h.7M190.2 263.8h.7M197.9 260.9h.7M193.0 263.0h.7M186.5 262.0h.7M194.7 266.1h.7M195.7 264.5h.7M189.0 272.3h.7M201.0 262.2h.7M199.9 257.8h.7M200.3 263.5h.7M187.2 261.6h.7M195.4 264.4h.7M200.3 252.8h.7M182.9 268.9h.7M182.5 272.4h.7M194.0 262.3h.7M196.2 269.5h.7M193.4 262.9h.7M190.4 260.4h.7M192.2 261.6h.7M186.1 261.4h.7M182.1 264.6h.7M193.6 263.1h.7M188.7 263.8h.7M192.8 261.0h.7M190.6 266.1h.7M198.2 257.2h.7M210.8 256.4h.7M192.7 267.0h.7M191.4 260.1h.7M190.7 271.0h.7M205.9 259.3h.7M180.8 273.4h.7M205.5 259.9h.7M184.0 264.2h.7M192.4 265.0h.7M193.6 265.0h.7M193.6 265.3h.7M187.0 264.2h.7M186.4 270.5h.7M195.1 254.9h.7M197.9 254.7h.7M193.6 264.1h.7M183.3 264.8h.7M186.5 265.7h.7M198.9 260.0h.7M188.4 263.8h.7M188.3 261.2h.7M196.3 261.5h.7M191.7 266.2h.7M186.2 262.9h.7M184.7 270.3h.7M194.3 267.5h.7M195.7 265.1h.7M197.0 263.7h.7M180.4 263.4h.7M196.8 268.3h.7M183.2 271.4h.7M197.5 259.0h.7M179.0 274.0h.7M192.8 257.7h.7M188.7 262.0h.7M201.9 251.3h.7M194.0 257.5h.7M197.8 267.3h.7M184.2 266.3h.7M178.8 271.0h.7M185.2 273.2h.7M186.3 270.0h.7M199.6 264.5h.7M188.2 265.5h.7M205.4 248.1h.7M180.8 269.6h.7M194.2 261.3h.7M194.9 265.7h.7M202.2 254.9h.7M181.9 266.4h.7M199.1 253.4h.7M200.6 260.3h.7M193.1 262.4h.7M187.3 268.8h.7M195.0 263.2h.7M190.1 264.1h.7M199.3 252.1h.7M196.8 256.5h.7M181.0 267.5h.7M190.2 265.0h.7M180.1 272.1h.7M196.5 255.2h.7M190.0 264.0h.7M182.2 265.0h.7M209.6 259.6h.7M189.3 261.9h.7M185.0 265.2h.7M194.8 265.2h.7M193.2 262.6h.7M197.8 257.3h.7M189.3 266.5h.7M197.1 257.7h.7M195.2 263.2h.7M182.9 266.2h.7M190.7 262.7h.7M186.4 267.2h.7M211.9 253.5h.7M180.8 267.9h.7M203.8 258.6h.7M190.5 268.9h.7M191.8 267.0h.7M195.2 263.8h.7M183.7 261.9h.7M201.3 262.1h.7M178.2 279.6h.7M194.1 257.5h.7M184.8 269.3h.7M191.3 262.7h.7M193.3 260.2h.7M205.8 255.9h.7M191.0 265.1h.7M193.1 264.6h.7M181.0 266.3h.7M197.7 259.2h.7M195.9 254.7h.7M196.9 250.5h.7M181.5 261.9h.7M200.8 263.9h.7M196.0 259.7h.7M194.1 258.8h.7M193.1 268.8h.7M193.3 268.8h.7M201.9 260.1h.7M195.0 264.7h.7M196.6 258.7h.7M187.8 263.1h.7M195.8 257.6h.7M191.9 271.3h.7M201.8 265.2h.7M193.2 262.7h.7M196.3 262.2h.7M184.6 270.8h.7M192.3 260.4h.7M194.4 259.8h.7M197.6 265.5h.7M171.0 269.5h.7M198.0 255.0h.7M180.3 268.4h.7M200.6 259.6h.7M191.7 257.4h.7M194.0 257.2h.7M183.1 268.7h.7M199.4 257.7h.7M190.3 267.0h.7M196.0 266.4h.7M193.6 269.5h.7M179.3 277.9h.7M188.0 264.2h.7M191.6 262.3h.7M195.0 261.2h.7M191.0 266.1h.7M185.9 261.9h.7M184.8 263.5h.7M188.9 267.2h.7M189.5 272.1h.7M202.2 260.6h.7M196.8 266.5h.7M186.8 265.7h.7M193.9 265.8h.7M178.6 265.7h.7M192.0 262.3h.7M182.7 267.0h.7M200.0 260.1h.7M189.1 263.2h.7M192.2 266.1h.7M192.8 267.3h.7M192.4 267.5h.7M190.7 255.9h.7M193.8 260.7h.7M191.2 264.5h.7M182.6 271.0h.7M205.3 257.5h.7M195.7 264.9h.7M181.6 267.9h.7M188.3 268.7h.7M194.6 260.4h.7M192.1 259.8h.7M196.7 261.6h.7M195.3 267.1h.7M189.7 263.9h.7M190.7 268.2h.7M193.2 271.3h.7M198.5 263.7h.7M180.5 266.2h.7M184.4 269.8h.7M192.9 265.5h.7M190.8 263.3h.7M177.8 264.9h.7M205.4 249.9h.7M196.7 254.6h.7M193.8 261.6h.7M188.1 266.0h.7M201.6 262.9h.7M188.6 259.6h.7M202.1 264.4h.7M202.2 264.1h.7M206.2 251.9h.7M195.7 264.6h.7M183.6 275.6h.7M191.2 259.8h.7M174.1 279.9h.7M201.0 259.7h.7M195.4 269.1h.7M176.1 272.7h.7M183.2 273.1h.7M194.0 259.9h.7M183.4 270.6h.7M196.9 265.6h.7M174.4 276.2h.7M194.7 262.1h.7M203.6 254.1h.7M194.0 262.8h.7M177.1 276.2h.7M180.1 263.0h.7M199.2 265.1h.7M189.3 265.1h.7M205.0 258.0h.7M194.6 264.0h.7M182.2 268.1h.7M176.7 265.7h.7M195.3 261.8h.7M188.5 267.6h.7M197.9 263.6h.7M189.6 265.8h.7M190.8 257.1h.7M191.7 265.4h.7M181.0 272.0h.7M200.1 261.0h.7M194.3 255.2h.7M189.3 264.2h.7M183.1 268.7h.7M206.1 263.4h.7M191.8 263.2h.7M188.1 265.0h.7M210.0 260.8h.7M193.0 268.9h.7M194.2 257.8h.7M191.2 268.6h.7M184.7 264.8h.7M202.9 267.7h.7M199.0 259.0h.7M187.0 267.6h.7M191.2 275.1h.7M192.2 267.3h.7M188.1 268.8h.7M179.2 271.0h.7M197.4 261.1h.7M188.5 266.8h.7M196.7 260.9h.7M199.0 259.5h.7M184.8 264.5h.7M193.3 263.6h.7M188.4 266.8h.7M195.9 261.7h.7M199.0 265.2h.7M196.4 260.1h.7M185.1 271.4h.7M191.6 266.8h.7M181.0 267.3h.7M200.4 255.6h.7M202.1 257.9h.7M192.1 260.3h.7M194.5 266.3h.7M183.4 263.1h.7M192.0 265.4h.7M203.4 260.7h.7M188.1 267.0h.7M199.1 259.4h.7M190.7 267.1h.7M189.5 268.3h.7M204.4 259.8h.7M196.3 257.6h.7M181.4 264.6h.7M186.5 269.8h.7M197.8 261.6h.7M177.6 272.0h.7M192.1 263.3h.7M191.0 261.4h.7M189.6 261.6h.7M188.7 265.8h.7M208.2 265.8h.7M190.2 259.7h.7M194.1 267.7h.7M171.5 274.2h.7M192.5 269.9h.7M198.8 263.0h.7M193.7 268.6h.7M196.7 261.6h.7M187.7 263.4h.7M188.5 262.6h.7M205.4 255.8h.7M189.3 275.8h.7M181.4 269.7h.7M193.5 260.4h.7M183.7 268.3h.7M191.4 263.0h.7M196.5 255.6h.7M196.4 259.6h.7M188.4 259.5h.7M191.2 264.2h.7M201.6 254.9h.7M203.6 263.0h.7M189.6 261.3h.7M191.8 261.7h.7M203.5 250.5h.7M183.7 269.8h.7M188.8 267.1h.7M200.8 266.7h.7M199.2 252.7h.7M184.3 264.5h.7M182.0 265.8h.7M194.4 263.8h.7M193.8 268.6h.7M202.7 256.2h.7M194.5 260.2h.7M190.8 263.7h.7M191.9 262.0h.7M192.5 263.1h.7M194.1 261.5h.7M193.0 262.4h.7M186.0 271.2h.7M193.3 262.8h.7M181.7 271.9h.7M182.8 264.3h.7M203.7 253.9h.7M192.4 266.7h.7M199.0 258.7h.7M190.1 267.1h.7M204.5 259.1h.7M181.7 263.6h.7M191.1 255.9h.7M181.1 271.4h.7M188.1 263.4h.7M198.4 254.2h.7M185.7 263.2h.7M184.1 271.1h.7M182.9 274.1h.7M184.4 265.9h.7M189.4 261.7h.7M197.6 262.5h.7M181.3 276.5h.7M190.2 267.2h.7M192.3 270.5h.7M205.7 255.6h.7M202.3 252.5h.7M184.1 272.9h.7M191.7 264.2h.7M185.3 263.4h.7M195.4 258.2h.7M183.6 258.1h.7M195.8 254.6h.7M201.2 265.6h.7M200.5 258.4h.7M177.2 269.5h.7M183.2 273.1h.7M208.7 255.3h.7M191.6 267.0h.7M193.5 265.1h.7M185.4 260.2h.7M193.8 263.8h.7M180.4 269.7h.7M193.9 263.5h.7M188.6 258.1h.7M191.5 267.0h.7M189.4 265.0h.7M176.2 276.8h.7M189.6 268.7h.7M200.4 253.1h.7M197.5 260.2h.7M173.5 271.5h.7M195.1 257.5h.7M191.9 265.4h.7M186.4 257.1h.7M190.9 259.8h.7M187.7 272.5h.7M179.3 272.8h.7M182.3 265.4h.7M201.5 263.1h.7M181.9 261.6h.7M191.1 265.5h.7M195.4 260.3h.7M193.2 261.4h.7M177.2 266.8h.7M206.7 254.3h.7M199.6 261.0h.7M199.9 257.8h.7M186.8 267.8h.7M190.5 259.5h.7M191.4 260.1h.7M191.3 267.8h.7M186.8 264.5h.7M197.3 257.0h.7M189.1 272.8h.7M187.7 272.1h.7M187.0 263.3h.7M210.5 255.1h.7M208.1 252.9h.7M192.2 264.4h.7M191.2 274.6h.7M192.1 271.8h.7M192.8 260.7h.7M187.8 266.2h.7M195.0 256.8h.7M194.9 261.4h.7M196.9 261.8h.7M187.3 272.0h.7M194.4 255.6h.7M192.6 261.2h.7M193.0 266.2h.7M200.2 267.1h.7M196.0 269.5h.7M186.8 256.8h.7M185.6 267.8h.7M192.2 259.5h.7M195.4 265.1h.7M204.8 260.6h.7M185.5 264.5h.7M193.8 260.1h.7M186.4 272.1h.7M187.8 264.3h.7M189.7 264.1h.7M188.0 276.3h.7M193.3 261.4h.7M179.7 265.6h.7M190.7 258.8h.7M201.3 261.8h.7M204.3 252.1h.7M205.0 259.1h.7M175.2 268.1h.7M206.1 264.0h.7M177.2 268.9h.7M184.6 272.2h.7M189.5 263.2h.7M188.8 263.7h.7M200.8 260.8h.7M198.4 256.9h.7M185.7 265.8h.7M198.6 256.2h.7M181.9 265.9h.7M196.6 260.4h.7M202.7 258.6h.7M192.9 260.4h.7M204.7 257.7h.7M188.6 266.0h.7M200.3 256.4h.7M198.2 260.3h.7M189.9 268.7h.7M177.8 269.0h.7M190.0 264.8h.7M193.1 257.4h.7M188.5 263.6h.7M192.3 263.7h.7M187.6 270.7h.7M193.4 262.3h.7M186.9 271.9h.7M194.1 265.5h.7M189.4 269.6h.7M182.6 266.1h.7M193.6 267.0h.7M185.9 266.2h.7M189.3 269.2h.7M195.5 262.0h.7M187.5 256.2h.7M188.5 265.0h.7M184.8 269.4h.7M189.2 268.7h.7M199.3 260.9h.7M194.5 262.6h.7M187.2 266.6h.7M192.2 258.3h.7M196.2 259.2h.7M202.3 260.2h.7M193.6 261.0h.7M188.5 264.8h.7M199.9 258.4h.7M182.8 273.3h.7M188.6 263.9h.7M184.7 266.7h.7M216.5 249.8h.7M189.1 266.8h.7M201.0 251.0h.7M206.3 263.0h.7M182.7 269.0h.7M196.4 265.5h.7M198.1 263.5h.7M197.0 257.4h.7M193.3 268.2h.7M183.6 267.8h.7M197.6 264.7h.7M188.2 262.9h.7M201.5 263.6h.7M206.7 253.5h.7M190.5 267.3h.7M200.2 255.4h.7M186.8 270.8h.7M196.8 256.5h.7M194.5 262.8h.7M192.7 259.5h.7M194.1 263.8h.7M183.4 262.0h.7M181.8 272.0h.7M189.1 270.4h.7M197.9 259.0h.7M191.6 263.6h.7M199.4 259.2h.7M171.1 272.4h.7M193.1 261.0h.7M188.7 260.2h.7M194.7 260.1h.7M183.6 272.2h.7M202.8 255.5h.7M188.6 269.6h.7M198.2 258.4h.7M192.3 262.1h.7M196.3 256.9h.7M196.5 258.9h.7M198.5 258.5h.7M187.1 265.7h.7M200.2 262.6h.7M202.7 261.7h.7M192.1 259.0h.7M203.4 259.3h.7M205.7 260.4h.7M197.0 261.3h.7M200.6 256.1h.7M197.7 268.3h.7M194.6 260.8h.7M185.5 257.4h.7M196.5 259.8h.7M203.2 259.2h.7M191.1 264.2h.7M182.8 268.9h.7M190.7 263.3h.7M189.7 263.5h.7M193.9 268.0h.7M195.1 256.9h.7M198.8 258.3h.7M189.5 265.0h.7M198.4 261.3h.7M198.3 256.7h.7M194.3 267.7h.7M207.1 256.7h.7M193.9 261.5h.7M199.2 261.1h.7M179.0 266.6h.7M184.0 265.8h.7M195.2 267.1h.7M196.2 266.2h.7M188.2 262.2h.7M186.1 271.4h.7M209.0 257.9h.7M187.6 264.0h.7M186.8 264.0h.7M198.8 256.2h.7M195.2 264.1h.7M189.4 260.5h.7M182.7 268.2h.7M179.1 264.0h.7M190.6 267.3h.7M186.2 269.9h.7M189.7 264.7h.7M193.3 254.7h.7M189.6 269.1h.7M191.6 260.5h.7M199.8 260.8h.7M196.6 256.9h.7M184.9 262.1h.7M182.9 271.2h.7M198.5 262.0h.7M195.8 261.3h.7M204.0 251.0h.7M202.8 255.6h.7M191.1 259.6h.7M202.7 262.6h.7M194.9 256.4h.7M182.8 266.9h.7M196.0 257.2h.7M193.0 264.5h.7M202.0 255.8h.7M209.5 250.9h.7M197.1 259.3h.7M203.6 260.2h.7M193.0 260.9h.7M185.7 262.4h.7M194.8 261.5h.7M203.7 255.6h.7M192.8 266.5h.7M187.5 264.3h.7M181.7 266.4h.7M195.7 266.2h.7M192.5 264.0h.7M196.2 258.9h.7M198.2 262.4h.7M185.4 268.7h.7M181.6 266.8h.7M208.3 253.5h.7M198.2 257.6h.7M184.9 266.9h.7M196.3 268.1h.7M197.7 257.8h.7M185.3 265.1h.7M197.3 263.5h.7M187.5 270.0h.7M195.0 262.6h.7M213.1 249.6h.7M203.0 256.4h.7M190.9 264.5h.7M210.5 258.9h.7M196.7 267.4h.7M191.8 269.0h.7M191.3 264.4h.7M198.3 260.7h.7M198.1 261.0h.7M197.2 259.6h.7M184.3 269.0h.7M201.0 248.3h.7M195.6 265.8h.7M200.0 261.2h.7M186.9 261.1h.7M196.3 264.5h.7M205.1 258.2h.7M200.4 261.1h.7M190.2 261.5h.7M189.3 266.2h.7M208.7 254.1h.7M196.8 258.1h.7M190.2 261.8h.7M199.6 261.7h.7M187.8 269.0h.7M190.7 260.5h.7M183.1 263.7h.7M197.1 267.2h.7M182.8 273.1h.7M205.2 257.9h.7M190.1 275.1h.7M194.2 267.3h.7M189.1 263.3h.7M175.5 278.6h.7M182.7 272.2h.7M183.2 269.0h.7M185.1 266.7h.7M187.4 267.7h.7M176.6 269.9h.7M192.4 258.1h.7M189.0 269.6h.7M200.0 254.7h.7M191.8 265.6h.7M190.7 269.6h.7M191.9 260.5h.7M187.5 270.2h.7M189.7 259.6h.7M192.3 266.9h.7M184.8 269.8h.7M178.9 267.7h.7M198.3 260.1h.7M199.8 260.6h.7M202.7 253.7h.7M184.5 270.4h.7M188.9 263.0h.7M201.9 263.6h.7M184.8 268.0h.7M190.9 271.9h.7M201.7 257.9h.7M194.6 260.3h.7M175.7 272.7h.7M200.3 267.1h.7M190.8 262.6h.7M192.6 259.3h.7M199.9 258.7h.7M186.1 270.3h.7M195.0 257.8h.7M193.0 264.0h.7M192.4 270.4h.7M185.4 263.7h.7M203.8 261.5h.7M197.5 269.1h.7M191.5 259.1h.7M191.0 260.4h.7M192.1 267.4h.7M198.5 260.7h.7M200.1 260.0h.7M199.4 264.7h.7M189.2 256.6h.7M180.6 262.9h.7M187.1 263.5h.7M192.1 267.4h.7M186.9 273.6h.7M184.5 274.6h.7M190.5 266.6h.7M196.0 259.1h.7M199.9 266.9h.7M201.0 257.7h.7M193.0 260.6h.7M196.8 265.0h.7M205.6 257.6h.7M192.7 253.6h.7M179.2 268.9h.7M195.8 260.7h.7M193.5 258.0h.7M184.7 270.9h.7M197.5 256.6h.7M196.1 259.1h.7M188.4 263.4h.7M186.1 267.4h.7M196.2 259.9h.7M194.1 266.3h.7M179.2 273.4h.7M182.6 270.1h.7M199.2 250.8h.7M192.0 270.4h.7M191.8 265.3h.7M194.1 252.6h.7M195.3 263.9h.7M190.5 263.3h.7M186.5 267.3h.7M199.6 259.5h.7M183.3 266.1h.7M191.7 259.5h.7M186.8 265.1h.7M194.8 262.0h.7M192.8 269.8h.7M196.7 261.3h.7M185.8 267.5h.7M214.5 256.1h.7M186.7 275.3h.7M194.2 265.8h.7M190.3 267.0h.7M192.1 268.5h.7M196.6 261.5h.7M201.9 255.1h.7M190.3 268.8h.7M203.5 258.2h.7M184.4 269.9h.7M191.5 270.8h.7M187.7 263.8h.7M188.0 266.6h.7M195.9 264.2h.7M191.0 263.7h.7M183.7 271.3h.7M191.4 272.0h.7M182.0 268.9h.7M192.8 271.1h.7M186.7 260.7h.7M198.7 259.9h.7M187.2 267.2h.7M187.6 264.4h.7M192.7 265.3h.7M194.8 263.9h.7M203.5 263.3h.7M198.7 262.9h.7M185.4 275.2h.7M196.1 266.1h.7M188.5 264.8h.7M198.7 259.8h.7M201.6 254.9h.7M193.1 263.6h.7M189.2 269.9h.7M186.4 262.7h.7M202.7 261.7h.7M191.4 266.1h.7M198.0 265.0h.7M191.9 265.5h.7M190.6 267.2h.7M181.4 263.3h.7M192.6 268.9h.7M194.2 260.0h.7M191.2 265.2h.7M201.4 257.6h.7M187.0 261.2h.7M197.4 266.7h.7M190.1 255.0h.7M192.0 260.0h.7M194.9 262.5h.7M188.9 266.4h.7M191.5 257.0h.7M198.0 269.7h.7M179.5 266.3h.7M191.1 265.4h.7M201.2 266.4h.7M187.9 270.2h.7M184.0 268.8h.7M189.5 266.4h.7M185.3 269.1h.7M182.8 262.3h.7M198.1 262.2h.7M194.7 268.1h.7M193.2 269.4h.7M194.8 261.8h.7M184.5 269.9h.7M207.5 260.0h.7M186.8 268.7h.7M201.6 263.5h.7M195.5 256.8h.7M203.6 260.1h.7M195.8 262.1h.7M193.6 257.1h.7M192.1 265.1h.7M187.0 265.8h.7M195.8 262.1h.7M192.0 268.3h.7M188.0 260.1h.7M184.9 267.5h.7M196.0 258.3h.7M185.3 259.3h.7M200.1 259.8h.7M200.9 265.6h.7M194.1 259.2h.7M196.8 262.4h.7M189.7 267.8h.7M195.6 260.5h.7M209.3 248.7h.7M198.1 264.7h.7M194.4 266.4h.7M186.8 258.5h.7M186.6 276.3h.7M190.4 261.1h.7M193.6 263.7h.7M190.2 267.5h.7M191.0 268.6h.7M203.3 253.9h.7M187.5 274.8h.7M182.3 258.9h.7M191.3 260.0h.7M191.5 260.1h.7M205.4 255.7h.7M202.3 262.1h.7M201.9 266.7h.7M213.1 258.6h.7M194.9 265.8h.7M187.5 270.7h.7M180.3 260.0h.7M196.3 262.7h.7M211.4 262.0h.7M184.2 260.9h.7M184.0 275.1h.7M178.3 267.9h.7M191.4 263.4h.7M197.0 264.4h.7M200.4 253.8h.7M182.1 269.1h.7M184.1 265.2h.7M204.3 257.0h.7M185.3 261.9h.7M190.6 268.6h.7M200.6 266.2h.7M185.7 262.7h.7M198.5 264.5h.7M197.5 265.8h.7M196.1 260.3h.7M196.0 265.7h.7M202.4 255.3h.7M189.3 264.8h.7M193.4 259.6h.7M198.6 261.8h.7M195.6 256.9h.7M173.0 264.0h.7M184.8 263.9h.7M201.0 257.9h.7M197.6 255.7h.7M189.2 273.9h.7M178.8 268.1h.7M184.1 266.0h.7M196.8 269.6h.7M196.2 252.3h.7M182.2 270.6h.7M182.5 267.6h.7M186.7 267.0h.7M187.1 266.7h.7M195.7 261.2h.7M174.3 269.8h.7M188.5 262.5h.7M186.6 263.3h.7M192.7 260.6h.7M177.7 268.6h.7M194.0 266.6h.7M188.9 262.9h.7M196.2 260.2h.7M186.0 271.6h.7M202.9 261.5h.7M194.3 254.3h.7M199.2 259.9h.7M192.4 267.3h.7M195.6 265.7h.7M198.2 261.0h.7M194.1 262.7h.7M195.3 264.6h.7M196.2 263.9h.7M191.8 265.8h.7M197.3 261.4h.7M190.3 266.9h.7M199.7 265.1h.7M199.6 261.7h.7M201.9 261.1h.7M212.0 253.3h.7M189.9 262.9h.7M199.4 264.2h.7M192.1 268.3h.7M198.3 262.7h.7M186.8 263.5h.7M197.6 257.1h.7M184.0 272.2h.7M187.8 261.3h.7M199.7 256.2h.7M185.7 259.6h.7M190.0 273.7h.7M184.8 264.2h.7M191.0 260.2h.7M190.1 267.7h.7M184.3 271.0h.7M198.1 266.6h.7M193.7 265.6h.7M179.2 265.2h.7M186.0 269.4h.7M198.8 259.4h.7M182.2 259.3h.7M189.1 260.7h.7M203.7 255.7h.7M192.7 270.7h.7M186.7 271.1h.7M184.4 264.3h.7M188.9 268.7h.7M180.7 263.6h.7M190.7 271.1h.7M192.5 262.8h.7M181.3 269.1h.7M205.7 254.8h.7M185.8 272.4h.7M176.5 272.1h.7M198.2 254.9h.7M200.3 260.8h.7M195.1 262.0h.7M205.2 253.3h.7M207.5 252.4h.7M194.5 263.5h.7M193.9 257.9h.7M187.0 272.6h.7M187.9 270.7h.7M187.6 268.8h.7M208.3 260.9h.7M193.7 263.1h.7M186.9 265.7h.7M195.6 255.8h.7M192.6 263.2h.7M198.8 255.4h.7M192.8 266.8h.7M199.4 254.1h.7M183.4 267.2h.7M199.9 251.9h.7M189.9 264.3h.7M197.4 262.8h.7M179.9 260.9h.7M194.6 256.3h.7M195.3 260.5h.7M195.0 254.8h.7M175.5 273.3h.7M204.2 256.4h.7M196.5 256.4h.7M191.8 262.4h.7M199.4 255.6h.7M205.9 258.6h.7M196.7 260.5h.7M190.9 268.8h.7M191.5 269.1h.7M205.9 255.2h.7M193.7 261.6h.7M191.4 259.8h.7M199.0 255.2h.7M200.8 256.1h.7M189.6 267.8h.7M199.3 260.6h.7M194.6 257.0h.7M188.9 271.2h.7M192.8 264.0h.7M199.2 261.5h.7M192.3 260.9h.7M183.0 268.8h.7M196.1 260.1h.7M208.3 257.6h.7M195.8 256.0h.7M192.9 263.0h.7M195.7 264.3h.7M191.5 261.1h.7M189.8 262.2h.7M192.9 263.8h.7M185.8 268.2h.7M193.1 268.0h.7M180.8 272.3h.7M199.6 263.2h.7M194.8 256.6h.7M200.8 259.6h.7M187.2 266.2h.7M203.9 256.5h.7M188.8 266.7h.7M207.2 248.1h.7M190.5 264.6h.7M197.6 258.1h.7M192.7 264.8h.7M190.0 270.1h.7M185.8 268.6h.7M186.0 266.7h.7M187.5 267.1h.7M180.2 266.8h.7M189.9 270.6h.7M181.2 277.4h.7M200.7 263.6h.7M198.6 264.6h.7M193.2 265.2h.7M191.2 263.2h.7M190.4 259.9h.7M183.2 269.3h.7M196.1 260.3h.7M194.1 265.4h.7M180.4 276.0h.7M194.4 263.9h.7M184.8 267.2h.7M207.5 257.5h.7M188.2 269.5h.7M189.6 260.8h.7M194.9 256.5h.7M192.4 264.3h.7M205.3 251.9h.7M189.7 263.8h.7M178.2 270.4h.7M193.4 271.4h.7M186.4 268.2h.7M195.1 265.3h.7M194.3 263.2h.7M194.8 264.3h.7M185.0 266.6h.7M204.8 260.7h.7M208.8 259.9h.7M184.8 259.9h.7M191.4 259.7h.7M197.5 261.5h.7M177.2 273.9h.7M193.2 255.8h.7M194.9 259.4h.7M189.7 265.9h.7M196.1 258.2h.7M196.9 261.1h.7M183.9 265.0h.7M205.5 266.7h.7M193.0 259.9h.7M199.7 261.6h.7M216.2 254.5h.7M203.4 255.2h.7M200.9 254.2h.7M171.2 272.9h.7M186.1 267.8h.7M182.7 260.9h.7M201.9 260.4h.7M192.7 264.3h.7M188.5 265.3h.7M189.3 264.9h.7M196.7 265.8h.7M195.0 258.9h.7M188.8 263.5h.7M188.3 264.6h.7M194.1 260.4h.7M188.2 266.5h.7M191.6 267.2h.7M196.1 256.2h.7M191.8 262.2h.7M205.8 256.6h.7M189.7 266.6h.7M189.8 265.6h.7M203.0 258.2h.7M189.4 273.8h.7M202.9 262.3h.7M193.6 255.2h.7M188.1 266.5h.7M196.1 259.1h.7M197.6 263.4h.7M186.8 266.7h.7M184.7 267.3h.7M188.3 268.6h.7M193.8 266.9h.7M202.0 256.7h.7M204.1 257.1h.7M187.4 262.8h.7M187.7 268.6h.7M190.0 266.2h.7M196.3 260.7h.7M196.1 262.8h.7M191.0 264.6h.7M192.0 260.7h.7M175.2 272.4h.7M195.6 261.1h.7M186.6 267.4h.7M187.3 263.0h.7M190.5 259.9h.7M176.1 276.9h.7M189.7 263.9h.7M191.5 273.6h.7M197.6 254.5h.7M191.3 269.4h.7M194.5 263.5h.7M180.8 272.7h.7M191.3 264.3h.7M191.5 267.4h.7M191.6 263.8h.7M176.0 264.3h.7M191.7 261.5h.7M188.2 269.0h.7M205.0 256.5h.7M198.7 256.7h.7M202.3 262.4h.7M200.8 264.7h.7M182.8 271.7h.7M196.7 261.9h.7M197.7 260.9h.7M192.8 262.3h.7M195.8 274.2h.7M194.8 267.3h.7M197.8 267.1h.7M182.7 270.7h.7M188.5 271.8h.7M180.7 268.5h.7M178.3 262.5h.7M189.1 257.2h.7M198.7 254.3h.7M191.5 260.1h.7M191.0 264.9h.7M204.6 260.4h.7M186.2 266.9h.7M207.8 249.4h.7M207.7 257.2h.7M181.3 274.0h.7M198.7 252.7h.7M186.8 258.4h.7M178.5 271.4h.7M185.5 267.4h.7M195.5 257.7h.7M197.9 262.2h.7M194.4 257.3h.7M190.0 266.2h.7M193.5 257.5h.7M189.8 264.9h.7M182.1 267.9h.7M191.1 260.7h.7M191.6 263.8h.7M180.8 271.5h.7M193.7 265.5h.7M191.2 268.4h.7M186.5 264.4h.7M186.2 266.2h.7M186.8 265.6h.7M196.0 253.3h.7M205.8 262.7h.7M200.2 261.0h.7M193.7 259.1h.7M181.7 272.5h.7M193.7 266.8h.7M200.3 264.1h.7M199.6 266.3h.7M202.6 257.1h.7M181.6 265.9h.7M195.4 261.3h.7M184.5 262.3h.7M186.3 268.2h.7M189.6 268.7h.7M190.7 260.1h.7M175.7 267.7h.7M181.2 262.3h.7M199.5 262.7h.7M187.0 268.1h.7M197.7 259.9h.7M183.8 270.7h.7M197.2 261.4h.7M181.2 268.4h.7M183.7 276.5h.7M194.8 270.2h.7M196.0 261.6h.7M200.9 266.8h.7M193.2 268.8h.7M197.7 256.9h.7M199.9 252.3h.7M195.7 265.4h.7M196.5 264.8h.7M191.3 264.2h.7M200.9 264.9h.7M181.8 261.9h.7M192.3 262.8h.7M209.5 252.1h.7M198.3 259.7h.7M195.7 262.2h.7M183.8 260.1h.7M186.5 267.6h.7M192.7 258.5h.7M183.8 270.8h.7M204.3 244.3h.7M189.8 267.5h.7M188.8 263.5h.7M192.8 268.7h.7M190.0 268.7h.7M192.8 259.7h.7M200.6 252.7h.7M207.5 254.7h.7M207.0 259.3h.7M181.0 270.9h.7M185.5 262.8h.7M199.3 263.6h.7M201.2 259.3h.7M197.9 257.2h.7M192.4 250.8h.7M198.7 261.9h.7M195.3 262.1h.7M211.4 250.9h.7M188.3 262.7h.7M200.1 269.5h.7M192.2 265.8h.7M198.8 261.4h.7M192.4 262.5h.7M193.6 257.2h.7M189.4 261.2h.7M186.7 259.6h.7M191.2 263.7h.7M191.2 269.8h.7M182.8 263.8h.7M196.6 261.1h.7M190.9 267.0h.7M189.8 254.4h.7M194.7 256.0h.7M196.3 259.6h.7M188.4 257.2h.7M194.5 263.7h.7M187.1 263.0h.7M193.5 254.6h.7M180.6 269.1h.7M196.1 260.1h.7M188.7 267.2h.7M202.5 268.3h.7M200.5 254.6h.7M185.0 272.4h.7M187.5 268.3h.7M206.6 253.2h.7M186.3 269.6h.7M194.2 268.5h.7M202.7 256.4h.7M203.0 260.2h.7M187.4 274.6h.7M193.2 269.5h.7M193.3 260.4h.7M190.9 264.2h.7M195.6 262.5h.7M199.4 260.4h.7M193.3 259.3h.7M207.2 248.4h.7M181.7 272.5h.7M192.4 264.2h.7M187.1 261.8h.7M185.4 266.9h.7M199.8 253.1h.7M202.8 261.8h.7M191.0 268.1h.7M196.0 261.7h.7M189.7 271.2h.7M183.8 272.0h.7M186.3 260.3h.7M186.9 265.6h.7M197.2 264.0h.7M197.2 264.5h.7M190.0 263.7h.7M196.9 264.2h.7M194.7 261.5h.7M200.2 261.1h.7M195.9 254.9h.7M184.2 269.2h.7M197.0 269.1h.7M195.1 265.9h.7M180.6 262.7h.7M189.6 264.9h.7M188.8 268.5h.7M192.7 264.7h.7M182.8 267.3h.7M191.4 262.5h.7M187.2 262.0h.7M191.5 262.3h.7M198.7 259.6h.7M191.0 266.1h.7M199.5 259.2h.7M197.2 257.7h.7M195.1 260.6h.7M200.4 263.3h.7M199.7 261.8h.7M185.1 264.1h.7M188.1 269.0h.7M202.1 256.8h.7M196.8 265.3h.7M198.2 253.7h.7M183.0 270.9h.7M184.0 269.6h.7M199.6 259.6h.7M189.5 272.4h.7M189.8 267.9h.7M187.8 263.5h.7M183.9 259.3h.7M194.3 269.8h.7M191.7 260.4h.7M203.7 260.6h.7M193.7 245.6h.7M194.6 266.8h.7M198.3 255.4h.7M192.5 268.2h.7M190.6 273.4h.7M193.9 262.1h.7M189.9 267.6h.7M202.2 262.1h.7M192.1 263.0h.7M177.0 268.1h.7M197.8 249.2h.7M193.7 260.1h.7M191.3 262.7h.7M193.4 269.5h.7M185.6 272.7h.7M190.4 262.5h.7M202.3 256.4h.7M190.9 262.9h.7M184.8 267.9h.7M200.5 250.8h.7M193.8 264.1h.7M187.6 263.1h.7M203.0 259.7h.7M179.3 266.5h.7M178.3 264.2h.7M181.6 265.6h.7M193.9 264.1h.7M180.6 271.4h.7M192.0 265.9h.7M190.5 264.6h.7M173.3 273.9h.7M187.9 267.6h.7M191.9 260.6h.7M185.6 266.8h.7M199.5 262.6h.7M208.3 259.4h.7M187.5 264.2h.7M177.5 278.7h.7M188.2 264.9h.7M186.0 264.7h.7M190.8 266.7h.7M206.4 255.2h.7M204.6 260.8h.7M186.9 264.3h.7M192.0 270.2h.7M187.1 268.3h.7M198.9 259.4h.7M195.6 259.7h.7M187.4 267.0h.7M207.0 266.3h.7M204.0 253.2h.7M182.1 269.0h.7M188.2 267.7h.7M199.1 272.4h.7M213.1 262.7h.7M201.8 258.9h.7M195.7 268.0h.7M197.2 259.2h.7M178.1 263.8h.7M171.5 268.5h.7M201.0 267.3h.7M179.6 263.0h.7M187.0 258.4h.7M188.9 270.2h.7M180.6 273.4h.7M198.5 252.0h.7M173.3 276.0h.7M173.8 272.0h.7M204.1 256.5h.7M199.5 263.9h.7M215.7 261.4h.7M179.1 261.9h.7M203.5 261.3h.7M171.3 267.0h.7M182.7 255.9h.7M172.9 279.3h.7M183.4 278.6h.7M188.1 272.3h.7M203.1 266.1h.7M206.7 258.6h.7M194.7 270.4h.7M173.8 271.5h.7M173.1 261.8h.7M177.0 264.2h.7M178.2 270.1h.7M190.7 264.7h.7M205.6 265.0h.7M198.3 256.4h.7M196.5 269.2h.7M185.4 274.4h.7M201.9 261.3h.7M191.9 256.4h.7M210.1 261.6h.7M187.6 268.8h.7M188.4 262.3h.7M202.1 256.7h.7M198.1 263.7h.7M197.5 269.8h.7M206.5 255.7h.7M188.8 279.5h.7M174.2 272.2h.7M202.0 254.9h.7M177.4 267.7h.7M198.4 268.9h.7M172.1 268.0h.7M193.5 263.2h.7M189.7 257.8h.7M180.8 263.0h.7M187.8 269.3h.7M197.7 266.1h.7M178.8 272.0h.7M178.8 273.2h.7M171.5 263.8h.7M185.9 259.8h.7M200.3 257.2h.7M181.3 269.8h.7M171.4 271.1h.7M185.2 272.8h.7M186.9 260.7h.7M178.7 271.1h.7M191.1 258.8h.7M205.8 257.9h.7M184.4 270.5h.7M182.2 260.1h.7M175.3 274.1h.7M187.9 257.1h.7M175.4 274.4h.7M216.4 269.6h.7M174.7 265.5h.7M175.2 265.4h.7M184.1 264.2h.7M197.9 268.1h.7M172.8 266.8h.7M194.7 264.0h.7M194.7 268.5h.7M197.7 265.7h.7M186.0 274.5h.7M182.5 265.7h.7M188.8 271.1h.7M197.2 273.1h.7M218.0 250.3h.7M190.8 267.3h.7M187.0 266.4h.7M194.0 263.6h.7M194.5 265.6h.7M192.8 272.8h.7M180.6 270.3h.7M189.0 273.0h.7M178.6 276.4h.7M191.7 266.7h.7M172.6 266.5h.7M201.1 263.6h.7M201.7 267.2h.7M183.0 260.6h.7M180.6 273.0h.7M175.7 270.2h.7M191.4 262.9h.7M185.6 269.3h.7M192.3 264.2h.7M200.8 273.5h.7M208.4 262.0h.7M179.9 275.7h.7M186.3 259.2h.7M200.6 265.8h.7M200.5 258.2h.7M177.6 267.9h.7M190.2 272.0h.7M182.6 257.9h.7M208.3 257.4h.7M199.5 260.9h.7M195.4 269.7h.7M177.5 257.2h.7M181.5 266.1h.7M184.2 271.6h.7M212.7 259.2h.7M187.5 269.8h.7M186.3 269.3h.7M208.2 259.2h.7M180.8 270.1h.7M184.6 271.2h.7M186.6 271.8h.7M203.7 250.2h.7M198.1 267.1h.7M210.0 256.4h.7M183.9 265.6h.7M185.8 261.2h.7M207.7 257.0h.7M192.3 261.5h.7M177.4 256.4h.7M180.6 265.8h.7M173.0 274.7h.7M182.2 265.8h.7M182.1 269.4h.7M180.7 266.2h.7M214.4 254.0h.7M194.4 260.6h.7M196.0 271.8h.7M171.2 273.4h.7M186.4 263.6h.7M196.3 255.1h.7M172.0 263.2h.7M186.0 251.3h.7M184.6 272.6h.7M170.7 275.4h.7M179.9 262.9h.7M176.6 272.7h.7M199.8 262.6h.7M171.2 265.3h.7M181.5 267.1h.7M177.0 261.7h.7M171.2 267.1h.7M189.3 261.2h.7M197.0 266.3h.7M174.7 257.9h.7M192.0 258.7h.7M176.5 265.6h.7M182.6 269.6h.7M193.8 267.1h.7M194.1 271.1h.7M182.6 264.9h.7M202.6 265.3h.7M171.0 271.8h.7M211.3 259.5h.7M192.0 255.2h.7M202.5 264.6h.7M199.4 265.4h.7M185.8 265.5h.7M183.1 272.9h.7M195.4 268.5h.7M172.3 266.7h.7M197.3 261.8h.7M183.9 271.2h.7M209.9 258.6h.7M175.5 272.9h.7M192.9 266.4h.7M197.6 264.2h.7M212.6 260.0h.7M190.5 267.3h.7M205.4 260.1h.7M215.4 265.5h.7M210.3 258.7h.7M196.1 255.4h.7M199.1 255.9h.7M187.2 268.4h.7M207.5 257.4h.7M171.0 273.7h.7M195.6 269.6h.7M181.6 262.8h.7M202.9 252.1h.7M174.7 269.3h.7M196.1 264.1h.7M172.2 258.3h.7M180.9 259.0h.7M185.2 269.4h.7M171.7 268.6h.7M195.3 262.1h.7M171.5 270.2h.7M193.8 256.3h.7M194.1 267.3h.7M209.3 260.3h.7M196.6 266.0h.7M178.0 274.5h.7M200.1 263.2h.7M182.9 266.5h.7M201.7 255.1h.7M186.7 262.1h.7M183.0 273.0h.7M195.8 266.5h.7M219.1 260.0h.7M186.2 262.7h.7M182.7 262.4h.7M186.6 265.8h.7M190.1 266.2h.7M203.0 266.8h.7M200.5 261.4h.7M209.6 259.2h.7M206.4 261.9h.7M200.7 265.6h.7M207.7 259.5h.7M197.0 267.3h.7M178.7 272.9h.7M214.9 268.1h.7M189.6 265.0h.7M171.8 273.8h.7M182.0 262.6h.7M188.1 267.8h.7M179.5 265.5h.7M198.2 263.7h.7M194.3 270.6h.7M193.1 261.7h.7M191.1 246.2h.7M186.7 268.9h.7M200.9 267.4h.7M205.2 250.1h.7M194.7 264.6h.7M216.8 253.0h.7M210.6 259.9h.7M190.5 257.8h.7M187.1 261.8h.7M205.9 275.3h.7M171.1 261.8h.7M188.4 265.1h.7M199.8 269.6h.7M209.3 251.2h.7M201.0 260.7h.7M202.4 259.3h.7M187.0 268.3h.7M201.3 258.5h.7M200.9 265.6h.7M194.8 255.2h.7M176.5 261.0h.7M187.2 265.1h.7M180.4 259.0h.7M188.3 262.0h.7M195.8 270.7h.7M178.8 268.2h.7M187.7 264.2h.7M174.7 270.2h.7M186.5 282.0h.7M214.3 270.8h.7M175.8 274.5h.7M178.2 272.2h.7M191.0 265.3h.7M185.6 274.9h.7M182.7 263.3h.7M184.4 265.6h.7M182.5 273.7h.7M177.3 262.9h.7M184.8 260.4h.7M183.3 267.3h.7M184.5 255.6h.7M180.0 278.4h.7M202.8 276.4h.7M188.3 266.2h.7M221.2 254.9h.7M207.6 269.2h.7M171.3 271.1h.7M194.1 268.5h.7M202.9 259.8h.7M188.6 276.9h.7M187.6 269.5h.7M199.2 260.0h.7M178.3 257.9h.7M183.2 268.4h.7M215.0 260.7h.7M190.0 260.6h.7M190.2 262.2h.7M194.5 265.6h.7M199.8 257.3h.7M183.6 267.7h.7M177.5 269.0h.7M184.9 264.2h.7M196.4 257.7h.7M179.2 270.9h.7M178.5 272.1h.7M176.8 274.3h.7M202.3 258.2h.7M210.2 252.0h.7M178.3 269.8h.7M192.1 267.1h.7M201.8 272.5h.7M181.8 271.4h.7M192.4 262.5h.7M192.0 268.8h.7M192.3 255.9h.7M189.4 268.7h.7M199.5 263.8h.7M189.6 266.1h.7M210.2 254.5h.7M195.4 260.2h.7M178.8 270.0h.7M177.4 267.3h.7M184.8 273.9h.7M178.3 269.3h.7M185.8 263.9h.7M199.3 271.0h.7M171.3 273.4h.7M200.1 257.6h.7M206.4 261.3h.7M199.0 264.1h.7M190.9 279.2h.7M184.8 263.9h.7M197.3 264.7h.7M174.1 261.2h.7M181.9 260.1h.7M180.9 264.9h.7M184.0 266.8h.7M190.8 261.9h.7M193.1 264.0h.7M188.3 274.8h.7M178.7 270.2h.7M188.6 265.5h.7M178.8 261.1h.7M192.8 272.0h.7M190.0 268.0h.7M189.6 267.1h.7M185.3 269.2h.7M191.9 268.3h.7M208.0 257.0h.7M192.5 255.9h.7M205.7 256.3h.7M202.9 261.2h.7M208.2 264.1h.7M197.7 264.9h.7M198.1 262.4h.7M196.9 255.9h.7M176.2 273.2h.7M182.1 266.4h.7M198.0 261.7h.7M185.1 259.2h.7M176.5 267.5h.7M191.5 255.1h.7M187.1 270.5h.7M187.7 271.9h.7M208.6 253.1h.7M178.1 274.0h.7M177.5 269.0h.7M207.3 258.6h.7M200.0 267.9h.7M180.3 268.5h.7M208.5 258.0h.7M196.6 260.2h.7M201.5 258.9h.7M174.8 265.0h.7M212.5 264.2h.7M194.1 252.9h.7M179.2 267.6h.7M177.6 263.3h.7M180.7 261.4h.7M181.1 263.1h.7M189.9 264.8h.7M207.2 263.1h.7M183.9 256.6h.7M174.4 262.9h.7M188.7 263.8h.7M206.1 268.9h.7M172.5 253.2h.7M207.9 269.6h.7M221.7 265.7h.7M195.4 272.6h.7M170.8 269.8h.7M190.8 266.2h.7M192.0 270.4h.7M182.3 265.9h.7M194.3 264.2h.7M177.9 265.8h.7M202.3 257.0h.7M188.3 269.4h.7M197.7 264.1h.7M195.2 262.4h.7M199.7 255.2h.7M205.6 257.8h.7M205.1 263.3h.7M191.0 278.0h.7M191.3 265.4h.7M196.7 272.8h.7M197.1 262.2h.7M206.4 257.4h.7M192.8 258.3h.7M208.7 251.6h.7M199.6 267.0h.7M187.5 265.7h.7M189.4 271.0h.7M181.6 276.7h.7M199.3 266.8h.7M188.0 264.8h.7M214.6 264.0h.7M178.1 274.6h.7M216.3 253.2h.7M194.2 267.4h.7M193.5 264.5h.7M218.7 250.8h.7M183.4 275.6h.7M198.8 260.0h.7M171.5 270.4h.7M199.7 260.4h.7M170.8 264.3h.7M208.4 255.8h.7M195.1 251.6h.7M183.3 272.0h.7M186.2 262.4h.7M177.0 265.3h.7M183.5 267.9h.7M208.0 252.2h.7M194.4 257.2h.7M206.2 260.5h.7M184.9 266.3h.7M174.6 267.8h.7M201.0 261.5h.7M194.9 262.0h.7M171.2 270.9h.7M186.4 265.9h.7M204.4 266.1h.7M173.2 261.0h.7M192.6 262.6h.7M199.3 262.3h.7M172.3 262.7h.7M195.7 257.1h.7M191.6 265.9h.7M190.8 261.6h.7M197.5 260.7h.7M200.5 257.6h.7M207.5 261.7h.7M182.3 266.9h.7M209.7 251.8h.7M203.3 269.2h.7M174.2 271.1h.7M175.9 271.8h.7M194.4 265.7h.7M171.9 277.4h.7M194.5 257.5h.7M201.9 262.4h.7M182.5 262.0h.7M190.8 260.4h.7M200.0 264.3h.7M204.6 265.0h.7M197.2 266.1h.7M190.7 269.8h.7M175.0 280.8h.7M182.1 266.8h.7M190.4 258.3h.7M182.1 267.1h.7M193.8 253.5h.7M180.4 270.2h.7M200.4 265.0h.7M184.6 258.9h.7M196.4 258.4h.7M194.7 260.5h.7M182.2 267.5h.7M187.1 267.2h.7M172.5 269.9h.7M173.7 281.1h.7M186.7 264.0h.7M172.1 271.8h.7M212.6 262.9h.7M199.6 268.1h.7M185.7 276.7h.7M183.2 249.8h.7M178.2 264.2h.7M204.7 259.9h.7M193.5 259.3h.7M216.1 266.4h.7M171.4 282.4h.7M170.9 273.0h.7M198.0 264.2h.7M189.5 261.1h.7M195.2 270.4h.7M179.1 271.5h.7M197.1 268.6h.7M206.1 256.0h.7M192.0 261.6h.7M171.4 272.0h.7M203.7 257.2h.7M208.0 254.4h.7M195.1 268.1h.7M195.8 266.0h.7M187.9 260.2h.7M196.5 259.3h.7M185.0 266.2h.7M221.0 260.0h.7M190.8 266.4h.7M193.2 257.0h.7M177.8 261.5h.7M195.5 251.1h.7M170.8 277.5h.7M217.4 262.0h.7M171.3 270.2h.7M171.1 266.0h.7M201.1 258.1h.7M194.3 270.1h.7M193.1 258.3h.7M202.1 266.7h.7M199.5 262.9h.7M205.6 254.3h.7M178.8 270.1h.7M205.1 258.1h.7M203.0 272.0h.7M178.7 264.3h.7M196.5 264.2h.7M189.5 255.0h.7M180.6 256.6h.7M173.4 261.6h.7M207.3 261.8h.7M175.1 264.7h.7M206.9 258.9h.7M204.4 259.5h.7M194.5 262.3h.7M177.1 281.4h.7M196.0 257.9h.7M188.3 255.3h.7M186.2 264.6h.7M185.8 274.0h.7M191.2 263.3h.7M215.4 253.8h.7M193.3 258.5h.7M170.8 270.3h.7M200.2 258.5h.7M182.2 267.1h.7M194.0 257.1h.7M185.9 256.9h.7M178.9 271.6h.7M204.4 259.9h.7M187.7 270.3h.7M201.3 268.2h.7M180.7 267.8h.7M182.9 279.3h.7M185.1 266.2h.7M204.2 267.1h.7M187.0 261.3h.7M184.6 264.7h.7M171.1 269.4h.7M184.9 264.9h.7M206.4 257.0h.7M192.1 267.1h.7M192.7 257.3h.7M211.6 254.0h.7M177.8 268.4h.7M186.3 270.0h.7M203.5 264.2h.7M178.4 273.5h.7M181.9 268.0h.7M200.7 264.6h.7M180.3 261.6h.7M195.9 268.5h.7M204.9 255.6h.7M188.7 271.2h.7M210.9 255.1h.7M204.4 263.3h.7M178.7 271.3h.7M188.3 259.4h.7M184.5 265.3h.7M196.9 259.4h.7M203.1 260.9h.7M211.2 269.9h.7M181.4 271.8h.7M201.7 263.1h.7M185.9 264.8h.7M181.3 263.5h.7M206.2 254.7h.7M186.0 266.0h.7M188.4 267.5h.7M188.7 268.3h.7M171.9 269.6h.7M217.8 258.7h.7M199.2 262.3h.7M171.1 263.9h.7M195.9 267.5h.7M180.5 264.8h.7M184.5 263.9h.7M180.9 272.5h.7M176.6 273.5h.7M182.8 268.5h.7M180.5 268.2h.7M189.4 268.1h.7M197.6 266.6h.7M197.3 257.1h.7M200.0 272.9h.7M180.4 265.1h.7M176.3 267.8h.7M189.7 264.0h.7M213.2 262.3h.7M181.7 269.7h.7M171.2 281.0h.7M198.3 254.7h.7M177.7 270.7h.7M185.3 265.8h.7M184.7 271.2h.7M173.6 265.4h.7M193.9 258.5h.7M181.4 272.2h.7M201.3 261.7h.7M192.2 267.3h.7M212.9 262.7h.7M206.7 261.1h.7M191.3 264.2h.7M187.6 270.6h.7M196.4 267.3h.7M197.4 263.2h.7M214.8 257.1h.7M186.4 267.2h.7M173.9 266.1h.7M198.7 254.9h.7M181.7 265.6h.7M219.3 255.7h.7M174.4 268.7h.7M192.3 258.8h.7M182.7 262.8h.7M207.8 254.2h.7M184.3 265.2h.7M190.0 269.1h.7M210.8 256.6h.7M174.7 272.5h.7M205.3 263.9h.7M202.4 261.7h.7M198.9 265.4h.7M192.0 263.6h.7M174.0 264.7h.7M205.3 259.0h.7M173.9 265.0h.7M171.3 278.5h.7M182.8 274.8h.7M187.9 268.7h.7M214.8 253.2h.7M211.5 259.1h.7M200.0 272.5h.7M189.8 257.2h.7M180.9 269.4h.7M186.3 267.0h.7M199.8 261.2h.7M186.2 275.1h.7M194.6 279.4h.7M184.9 273.9h.7M196.8 257.6h.7M197.9 255.7h.7M203.5 260.6h.7M203.8 252.8h.7M190.2 269.0h.7M189.8 269.0h.7M171.5 267.3h.7M204.1 257.6h.7M187.5 264.9h.7M192.6 273.2h.7M184.7 267.6h.7M196.4 259.8h.7M188.8 268.7h.7M204.6 264.1h.7M193.2 262.9h.7M171.6 272.5h.7M170.9 262.2h.7M190.1 256.5h.7M187.7 262.6h.7M189.8 261.5h.7M183.3 267.3h.7M181.2 270.0h.7M211.7 264.1h.7M189.4 256.8h.7M172.4 269.0h.7M190.2 266.6h.7M181.0 273.0h.7M208.0 250.2h.7M193.4 268.0h.7M199.7 260.8h.7M193.7 265.1h.7M213.3 257.2h.7M185.7 267.7h.7M190.0 264.9h.7M191.4 262.9h.7M196.3 257.0h.7M199.4 270.9h.7M199.1 256.9h.7M203.0 265.1h.7M184.1 265.6h.7M203.7 262.1h.7M221.1 249.8h.7M179.6 259.5h.7M195.3 262.9h.7M183.5 265.3h.7M198.6 267.2h.7M198.9 271.8h.7M189.9 273.4h.7M195.8 258.0h.7M197.5 272.7h.7M190.4 261.4h.7M184.7 273.0h.7M178.2 276.0h.7M188.2 276.1h.7M194.1 261.9h.7M196.7 265.5h.7M186.3 264.3h.7M176.8 269.0h.7M181.1 266.0h.7M182.2 267.5h.7M173.7 266.2h.7M191.8 270.3h.7M186.3 282.3h.7M188.5 261.6h.7M192.1 266.0h.7M206.7 258.1h.7M176.9 268.2h.7M175.7 272.0h.7M193.4 259.0h.7M192.4 267.2h.7M189.0 264.7h.7M189.2 269.1h.7M198.5 268.5h.7M197.0 262.3h.7M180.4 263.6h.7M193.9 267.9h.7M185.4 270.0h.7M188.9 258.2h.7M191.8 260.6h.7M185.3 259.3h.7M191.9 264.2h.7M195.2 260.1h.7M203.0 258.6h.7M202.4 264.4h.7M183.5 273.2h.7M182.6 269.1h.7M208.5 261.8h.7M200.3 258.1h.7M198.0 265.1h.7M199.8 259.3h.7M190.4 266.4h.7M187.7 258.9h.7M174.9 272.3h.7M186.3 254.1h.7M175.0 269.7h.7M191.9 269.2h.7M187.1 261.1h.7M190.6 265.0h.7M193.1 255.9h.7M213.7 263.9h.7M206.0 253.2h.7M210.7 257.9h.7M188.7 258.9h.7M171.2 271.2h.7M171.0 267.0h.7M215.0 257.3h.7M200.5 258.2h.7M182.8 263.0h.7M189.2 263.4h.7M172.7 266.3h.7M186.7 265.6h.7M178.4 279.4h.7M183.0 266.4h.7M202.9 267.3h.7M198.7 259.8h.7M192.9 266.3h.7M196.8 250.1h.7M172.5 270.3h.7M193.4 267.8h.7M195.0 262.9h.7M208.1 258.6h.7M188.4 261.3h.7M201.5 254.0h.7M177.7 265.0h.7M179.5 268.6h.7M195.3 266.8h.7M171.6 267.9h.7M185.1 249.4h.7M190.5 268.7h.7M186.5 264.2h.7M208.2 266.0h.7M196.8 264.8h.7M204.7 263.0h.7M208.3 251.5h.7M206.3 253.3h.7M186.0 267.7h.7M206.4 268.9h.7M200.7 258.8h.7M179.8 261.9h.7M209.0 262.2h.7M181.2 278.3h.7M194.9 259.2h.7M199.5 261.9h.7M179.2 266.1h.7M176.3 272.9h.7M215.2 263.8h.7M214.1 258.0h.7M186.9 256.6h.7M188.8 263.0h.7M177.8 281.8h.7M190.5 264.6h.7M199.5 268.9h.7M200.0 260.9h.7M171.4 280.7h.7M190.9 267.2h.7M189.3 270.9h.7M171.0 265.5h.7M196.9 263.1h.7M204.6 260.6h.7M183.7 272.9h.7M186.3 271.9h.7M195.2 256.3h.7M201.5 270.6h.7M212.2 261.7h.7M192.1 271.2h.7M200.6 260.8h.7M196.7 265.1h.7M189.1 266.8h.7M191.2 271.0h.7M191.6 258.9h.7M171.6 274.7h.7M206.8 256.2h.7M201.8 253.5h.7M177.3 264.8h.7M184.4 268.8h.7M171.1 272.7h.7M198.4 260.4h.7M194.9 265.0h.7M187.7 267.6h.7M205.5 253.1h.7M177.6 273.0h.7M193.4 262.9h.7M178.8 267.2h.7M199.3 260.5h.7M175.6 271.7h.7M188.1 262.4h.7M198.8 257.7h.7M185.2 273.0h.7M183.2 268.2h.7M202.6 254.9h.7M207.0 270.9h.7M185.5 255.0h.7M213.1 265.1h.7M206.8 259.5h.7M209.4 252.6h.7M195.2 265.5h.7M180.1 261.4h.7M178.9 273.9h.7M187.0 264.6h.7M171.2 278.2h.7M186.9 258.6h.7M211.0 255.0h.7M193.0 260.6h.7M184.3 278.9h.7M195.2 262.2h.7M180.6 274.2h.7M208.1 259.1h.7M177.2 267.3h.7M172.3 259.5h.7M196.4 262.7h.7M203.0 258.2h.7M194.1 270.2h.7M186.8 270.5h.7M184.8 275.1h.7M197.5 266.0h.7M197.6 265.9h.7M181.9 261.5h.7M198.0 256.9h.7M206.8 261.3h.7M193.5 258.9h.7M181.6 262.6h.7M203.2 256.7h.7M180.0 269.8h.7M202.9 262.5h.7M200.5 251.3h.7M201.6 253.2h.7M189.2 268.3h.7M187.3 268.1h.7M192.9 263.6h.7M200.3 266.7h.7M183.4 254.5h.7M171.3 271.6h.7M200.1 268.2h.7M192.2 255.2h.7M173.4 274.2h.7M184.1 270.8h.7M188.1 263.0h.7M178.4 270.6h.7M192.4 270.2h.7M196.8 263.9h.7M171.5 261.7h.7M199.7 256.9h.7M173.9 273.0h.7M172.7 274.8h.7M197.5 264.2h.7M195.8 257.4h.7M203.0 262.4h.7M194.4 266.1h.7M184.2 257.1h.7M186.8 260.5h.7M178.7 263.3h.7M192.1 268.2h.7M171.2 279.6h.7M194.7 263.6h.7M197.1 264.7h.7M172.3 275.5h.7M206.7 255.1h.7M197.4 252.6h.7M174.6 272.4h.7M170.9 262.8h.7M181.1 272.7h.7M196.9 259.8h.7M176.1 266.8h.7M183.6 251.9h.7M173.3 271.3h.7M209.2 262.8h.7M188.3 261.7h.7M183.0 252.3h.7M189.4 275.2h.7M187.9 263.3h.7M174.0 270.0h.7M201.1 252.2h.7M187.2 259.6h.7M195.5 259.2h.7M203.9 255.9h.7M199.8 269.1h.7M204.9 261.3h.7M189.2 268.0h.7M210.3 265.4h.7M206.1 260.6h.7M196.2 262.7h.7M212.3 265.8h.7M194.3 264.0h.7M184.3 260.0h.7M208.6 271.2h.7M177.8 263.8h.7M197.4 256.2h.7M198.9 257.2h.7M186.1 267.7h.7M172.7 266.8h.7M197.4 275.7h.7M173.8 261.8h.7M172.7 267.8h.7M177.6 270.6h.7M201.6 269.8h.7M179.8 269.1h.7M209.1 266.5h.7M196.6 265.4h.7M182.5 278.3h.7M196.4 252.2h.7M197.5 265.2h.7M213.4 251.3h.7M195.7 262.2h.7M188.6 279.9h.7M204.6 250.0h.7M191.9 269.7h.7M206.6 264.1h.7M188.7 260.6h.7M187.1 263.5h.7M201.9 256.4h.7M212.9 254.8h.7M192.3 265.6h.7M198.8 264.9h.7M210.6 259.6h.7M200.0 265.9h.7M217.5 253.1h.7M180.8 259.4h.7M199.5 257.2h.7M177.2 268.0h.7M175.0 270.0h.7M194.4 262.0h.7M182.3 265.7h.7M179.9 258.3h.7M175.9 265.0h.7M190.0 257.2h.7M183.3 269.5h.7M188.8 270.9h.7M179.5 274.9h.7M204.5 260.0h.7M177.6 270.5h.7M181.4 274.0h.7M171.4 267.1h.7M208.6 252.5h.7M206.5 251.5h.7M194.1 275.0h.7M198.2 273.0h.7M197.1 257.2h.7M193.1 264.2h.7M192.8 263.0h.7M178.5 272.3h.7M188.8 266.6h.7M206.1 254.2h.7M172.3 268.7h.7M176.4 262.9h.7M190.2 268.4h.7M180.3 263.8h.7M198.1 265.8h.7M203.2 260.2h.7M191.9 257.4h.7M187.1 265.3h.7M195.1 263.4h.7M187.9 265.7h.7M199.8 265.0h.7M186.0 271.1h.7M177.2 253.6h.7M196.7 260.9h.7M188.2 260.9h.7M171.4 282.3h.7M171.5 267.3h.7M205.7 269.0h.7M188.2 265.5h.7M194.6 265.2h.7M198.8 256.4h.7M195.5 273.4h.7M196.3 262.3h.7M200.0 264.2h.7M189.9 265.0h.7M201.6 263.1h.7M188.2 266.9h.7M199.0 259.5h.7M187.6 261.6h.7M213.5 261.7h.7M176.1 271.3h.7M185.4 266.7h.7M197.6 264.6h.7M192.1 269.1h.7M182.8 263.2h.7M194.5 268.7h.7M194.2 266.5h.7M176.6 256.1h.7M184.3 269.5h.7M170.9 270.9h.7M194.4 260.6h.7M177.7 266.5h.7M190.1 262.0h.7M204.3 255.9h.7M205.6 259.5h.7M185.5 259.5h.7M205.3 259.3h.7M191.1 262.3h.7M193.8 268.1h.7M195.5 263.3h.7M197.3 261.5h.7M172.0 280.5h.7M180.7 261.3h.7M187.4 276.6h.7M185.0 270.7h.7M204.3 260.1h.7M170.8 273.7h.7M206.3 261.4h.7M202.3 256.4h.7M207.2 253.6h.7M190.3 262.6h.7M211.9 258.7h.7M206.3 260.4h.7M193.0 263.4h.7M185.3 274.9h.7M192.2 263.9h.7M187.0 271.9h.7M179.9 269.8h.7M190.2 277.0h.7M175.2 263.8h.7M211.5 258.5h.7M184.0 257.0h.7M207.8 253.7h.7M190.4 261.7h.7M177.4 267.4h.7M175.7 270.6h.7M211.4 257.3h.7M210.9 257.7h.7M184.1 268.2h.7M180.2 277.8h.7M191.4 265.1h.7M178.2 264.4h.7M192.6 266.2h.7M210.1 263.7h.7M171.0 270.1h.7M181.3 264.7h.7M177.9 272.3h.7M179.6 266.2h.7M194.1 264.1h.7M181.4 260.2h.7M211.5 267.1h.7M171.5 267.6h.7M190.9 259.9h.7M207.5 262.9h.7M196.0 257.2h.7M190.8 257.3h.7M198.6 265.5h.7M182.0 272.3h.7M174.4 268.8h.7M206.3 257.2h.7M185.9 267.1h.7M201.1 272.2h.7M179.9 263.6h.7M184.8 269.3h.7M185.3 270.5h.7M183.8 267.8h.7M204.2 265.3h.7M203.7 256.6h.7M189.8 275.2h.7M191.9 259.0h.7M186.5 269.3h.7M185.8 259.9h.7M171.0 269.4h.7M187.5 252.4h.7M190.3 268.4h.7M207.3 260.7h.7M192.8 263.9h.7M206.4 260.3h.7M190.1 266.3h.7M183.1 263.1h.7M177.8 269.2h.7M195.5 262.6h.7M200.1 261.8h.7M216.6 257.9h.7M202.4 263.4h.7M190.5 272.2h.7M196.5 278.3h.7M179.5 268.3h.7M191.6 266.5h.7M198.9 252.8h.7M204.5 267.9h.7M202.6 262.1h.7M189.4 265.2h.7M185.5 262.4h.7M212.2 263.5h.7M206.8 266.6h.7M182.1 278.7h.7M191.5 270.5h.7M191.6 264.6h.7M176.0 267.0h.7M188.9 263.3h.7M195.9 254.5h.7M197.7 265.3h.7M190.3 258.7h.7M193.8 270.0h.7M174.7 264.1h.7M179.3 256.2h.7M183.0 267.9h.7M180.9 266.8h.7M177.8 275.9h.7M200.3 274.0h.7M184.9 263.4h.7M200.2 263.7h.7M213.8 248.4h.7M188.0 271.4h.7M171.2 270.6h.7M197.0 265.0h.7M177.4 265.8h.7M206.9 253.1h.7M193.6 271.2h.7M203.5 264.0h.7M183.1 266.6h.7M184.0 257.0h.7M185.2 258.6h.7M191.0 262.9h.7M210.2 256.7h.7M173.2 277.5h.7M188.8 261.0h.7M189.0 275.1h.7M170.9 276.6h.7M185.2 274.4h.7M206.2 260.1h.7M173.1 267.1h.7M199.1 269.8h.7M183.6 260.6h.7M173.3 270.6h.7M198.0 268.3h.7M189.6 259.6h.7M214.0 261.5h.7M184.1 263.4h.7M189.7 264.0h.7M193.0 262.3h.7M183.8 265.3h.7M172.4 275.0h.7M187.2 257.7h.7M179.1 265.1h.7M195.9 263.4h.7M201.9 257.1h.7M200.5 267.2h.7M177.3 273.6h.7M170.8 267.5h.7M196.3 261.9h.7M184.3 268.6h.7M179.7 272.2h.7M192.9 268.4h.7M188.7 268.6h.7M186.6 259.2h.7M188.4 268.9h.7M187.7 258.2h.7M171.2 265.6h.7M171.1 270.1h.7M180.0 274.1h.7M197.5 261.0h.7M188.1 262.5h.7M209.6 265.8h.7M194.8 271.9h.7M205.7 267.0h.7M187.6 266.1h.7M214.0 252.9h.7M187.4 266.2h.7M202.0 258.2h.7M199.2 248.3h.7M192.0 259.6h.7M209.1 261.8h.7M180.8 264.1h.7M192.2 259.8h.7M212.9 257.6h.7M197.9 274.7h.7M196.1 269.0h.7M202.5 260.3h.7M171.5 262.3h.7M170.9 278.5h.7M171.2 263.6h.7M198.3 252.2h.7M174.5 271.1h.7M187.8 269.6h.7M200.3 260.7h.7M181.6 280.1h.7M203.6 262.7h.7M195.6 264.6h.7M198.8 262.1h.7M170.9 257.5h.7M201.7 266.3h.7M193.2 265.2h.7M171.3 277.0h.7M199.5 254.1h.7M196.8 267.3h.7M185.7 255.3h.7M177.1 269.2h.7M202.0 252.2h.7M212.9 260.0h.7M204.5 265.7h.7M183.4 274.0h.7M178.8 274.8h.7M194.8 270.4h.7M211.8 270.1h.7M191.0 260.7h.7M187.9 261.9h.7M192.2 264.2h.7M200.8 257.3h.7M198.6 260.2h.7M190.7 272.0h.7M185.7 265.5h.7M201.6 255.1h.7M193.1 257.7h.7M198.7 259.5h.7M185.8 268.7h.7M206.3 259.2h.7M191.8 267.5h.7M197.0 266.3h.7M203.7 265.5h.7M203.8 262.0h.7M196.3 256.2h.7M186.8 264.2h.7M181.2 259.1h.7M212.4 267.9h.7M180.9 263.6h.7M194.6 267.3h.7M195.0 275.8h.7M207.3 265.0h.7M203.8 261.6h.7M189.1 265.4h.7M210.6 254.4h.7M184.0 277.5h.7M201.4 260.9h.7M198.7 260.4h.7M200.0 261.4h.7M206.6 266.9h.7M187.7 274.7h.7M180.7 269.0h.7M188.4 261.8h.7M199.4 255.6h.7M199.1 262.5h.7M187.9 270.0h.7M172.4 272.4h.7M193.8 258.2h.7M182.8 257.1h.7M193.0 267.5h.7M202.3 255.0h.7M214.8 261.3h.7M210.7 265.7h.7M180.4 270.4h.7M173.9 270.6h.7M182.6 275.0h.7M204.6 249.7h.7M209.0 249.9h.7M183.3 262.0h.7M180.9 262.5h.7M183.4 275.8h.7M197.9 262.0h.7M204.4 256.5h.7M185.4 281.9h.7M187.0 272.5h.7M179.5 270.4h.7M192.8 265.7h.7M177.1 268.2h.7M220.5 256.5h.7M172.9 264.8h.7M186.9 264.5h.7M190.8 259.2h.7M201.3 257.6h.7M182.1 272.7h.7M183.4 265.3h.7M189.6 266.6h.7M200.6 263.6h.7M193.0 268.9h.7M193.0 264.1h.7M185.2 269.2h.7M171.2 281.9h.7M203.0 266.3h.7M190.4 258.2h.7M193.3 268.3h.7M186.3 269.9h.7M196.3 264.2h.7M191.2 270.1h.7M186.2 266.2h.7M191.9 250.7h.7M194.4 260.3h.7M195.2 261.1h.7M187.2 265.2h.7M207.4 259.2h.7M193.9 261.7h.7M180.0 263.2h.7M196.1 265.9h.7M208.9 266.5h.7M171.7 268.4h.7M175.0 268.4h.7M181.8 271.8h.7M201.6 264.0h.7M187.1 272.7h.7M181.1 268.0h.7M182.1 250.7h.7M175.3 271.1h.7M196.0 256.8h.7M192.8 262.4h.7M184.7 277.4h.7M190.0 257.8h.7M184.1 263.2h.7M198.5 261.6h.7M202.4 259.0h.7M188.3 265.9h.7M181.3 264.4h.7M194.3 259.1h.7M193.4 268.9h.7M200.8 261.2h.7M188.6 268.6h.7M206.6 266.6h.7M202.2 250.6h.7M178.2 270.6h.7M178.8 259.4h.7M199.7 266.5h.7M190.3 274.7h.7M212.7 264.1h.7M194.0 265.1h.7M171.3 272.4h.7M204.8 254.0h.7M192.4 262.5h.7M205.3 257.5h.7M189.8 253.3h.7M185.3 270.4h.7M184.6 265.8h.7M179.1 271.9h.7M218.0 250.3h.7M179.1 276.0h.7M175.9 267.8h.7M170.8 274.2h.7M206.8 248.4h.7M186.2 271.6h.7M186.7 251.9h.7M184.9 269.9h.7M171.1 266.4h.7M188.1 271.1h.7M192.1 262.3h.7M213.0 261.8h.7M222.5 262.2h.7M189.9 273.9h.7M184.4 271.8h.7M202.2 264.2h.7M202.5 269.2h.7M184.9 273.7h.7M187.0 266.9h.7M190.5 262.9h.7M188.3 262.8h.7M189.5 263.5h.7M174.5 263.6h.7M185.4 264.4h.7M197.0 260.2h.7M191.9 262.8h.7M180.4 260.1h.7M199.0 264.7h.7M182.8 269.1h.7M189.5 257.2h.7M200.2 266.1h.7M201.2 262.6h.7M192.8 256.1h.7M171.2 264.1h.7M207.3 258.8h.7M184.4 267.6h.7M205.9 259.8h.7M183.2 272.6h.7M182.9 265.8h.7M194.3 266.1h.7M199.1 266.1h.7M170.7 267.1h.7M189.3 255.7h.7M190.2 262.8h.7M190.1 265.5h.7M208.0 275.5h.7M175.7 268.6h.7M201.5 266.7h.7M183.6 260.5h.7M203.8 255.3h.7M191.7 270.2h.7M203.0 258.2h.7M172.1 260.6h.7M190.1 259.1h.7M192.1 262.5h.7M213.9 252.2h.7M217.7 262.5h.7M202.9 256.9h.7M182.7 260.0h.7M206.4 253.2h.7M178.3 266.3h.7M183.3 273.6h.7M192.5 272.4h.7M178.4 258.9h.7M220.9 257.8h.7M175.8 273.9h.7M207.8 263.0h.7M170.8 256.8h.7M196.9 257.9h.7M201.5 260.2h.7M209.7 270.4h.7M190.6 266.4h.7M192.1 269.1h.7M203.3 268.2h.7M199.8 264.8h.7M190.9 271.8h.7M187.2 266.6h.7M171.2 270.3h.7M204.5 272.5h.7M187.2 263.7h.7M197.1 262.4h.7M181.4 264.6h.7M171.7 270.1h.7M189.0 269.3h.7M196.9 266.6h.7M171.3 273.9h.7M171.4 265.2h.7M189.7 276.0h.7M202.9 260.7h.7M183.0 261.5h.7M191.9 271.5h.7M217.3 256.3h.7M184.4 278.6h.7M208.0 263.8h.7M199.9 265.4h.7M202.7 255.1h.7M190.1 253.3h.7M201.8 260.7h.7M187.3 262.7h.7M190.6 267.9h.7M172.9 275.6h.7M211.7 261.4h.7M185.3 277.2h.7M207.0 259.7h.7M181.9 277.3h.7M218.3 268.1h.7M187.8 266.4h.7M193.8 264.3h.7M181.2 252.6h.7M181.4 261.8h.7M221.6 265.7h.7M181.8 262.5h.7M207.0 261.5h.7M204.0 269.2h.7M222.4 267.4h.7M182.2 268.6h.7M198.0 265.3h.7M196.0 267.4h.7M196.5 265.3h.7M215.0 256.8h.7M173.2 270.9h.7M212.5 268.8h.7M221.5 276.0h.7M204.6 261.5h.7M221.5 252.2h.7M201.6 259.8h.7M197.0 277.8h.7M203.9 268.9h.7M221.4 258.8h.7M206.4 260.4h.7M204.9 266.0h.7M194.3 260.1h.7M211.7 266.4h.7M201.9 277.2h.7M187.6 262.0h.7M184.3 276.0h.7M214.9 252.7h.7M200.1 258.0h.7M206.0 263.2h.7M212.6 268.8h.7M213.2 254.5h.7M212.5 262.5h.7M197.2 271.6h.7M211.3 263.5h.7M170.8 281.7h.7M207.3 259.0h.7M204.4 265.2h.7M198.6 262.2h.7M207.1 254.8h.7M180.4 281.1h.7M192.3 274.1h.7M174.6 255.9h.7M212.3 260.4h.7M221.8 266.5h.7M194.5 271.9h.7M191.3 268.5h.7M217.0 269.7h.7M214.7 259.2h.7M211.0 263.6h.7M202.9 256.5h.7M212.4 268.1h.7M195.7 261.9h.7M214.4 259.7h.7M189.4 257.9h.7M190.3 267.6h.7M173.6 274.0h.7M171.2 277.8h.7M182.9 270.6h.7M186.4 264.2h.7M218.3 261.1h.7M199.1 252.2h.7M192.6 275.6h.7M193.9 267.9h.7M206.0 263.7h.7M208.4 268.4h.7M170.9 274.1h.7M197.5 271.4h.7M201.2 259.3h.7M178.2 261.5h.7M192.3 262.7h.7M202.6 263.8h.7M172.3 258.4h.7M182.2 259.7h.7M190.6 265.0h.7M221.3 258.5h.7M175.2 258.4h.7M199.9 269.9h.7M208.7 274.1h.7M190.3 274.6h.7M198.5 267.7h.7M188.3 270.3h.7M179.3 265.4h.7M192.5 263.4h.7M214.7 258.3h.7M201.1 261.1h.7M202.5 269.6h.7M203.6 276.1h.7M220.2 255.2h.7M199.4 266.4h.7M198.7 250.1h.7M199.6 274.5h.7M195.2 252.9h.7M207.1 257.6h.7M189.0 263.5h.7M192.9 271.1h.7M186.3 267.0h.7M211.4 253.8h.7M184.3 272.5h.7M192.9 266.7h.7M215.6 260.7h.7M212.4 263.6h.7M203.9 252.0h.7M173.0 276.6h.7M170.8 273.2h.7M180.2 263.3h.7M203.5 267.1h.7M180.2 257.3h.7M220.1 272.7h.7M221.7 258.4h.7M197.6 265.7h.7M193.7 258.4h.7M213.7 266.7h.7M194.1 262.9h.7M181.3 264.2h.7M194.9 256.8h.7M210.8 265.9h.7M197.4 250.4h.7M208.1 262.3h.7M192.3 278.3h.7M184.7 266.7h.7M196.0 261.4h.7M203.3 252.5h.7M221.3 260.4h.7M214.7 270.3h.7M204.0 268.7h.7M215.1 259.3h.7M202.1 260.0h.7M206.8 266.7h.7M197.3 268.0h.7M175.8 269.4h.7M201.2 271.6h.7M190.9 265.8h.7M197.0 273.1h.7M191.7 269.2h.7M185.2 262.6h.7M206.8 258.8h.7M190.5 259.7h.7M172.4 273.4h.7M215.9 253.4h.7M200.3 267.8h.7M189.4 275.4h.7M174.3 256.4h.7M189.2 271.2h.7M178.6 261.3h.7M214.9 265.1h.7M183.1 268.9h.7M215.1 257.0h.7M195.1 274.6h.7M171.9 267.5h.7M198.5 264.8h.7M190.5 273.2h.7M211.0 249.9h.7M221.0 256.4h.7M220.1 276.2h.7M216.5 254.1h.7M209.8 273.2h.7M207.4 262.0h.7M190.3 268.9h.7M203.3 259.8h.7M222.3 271.2h.7M214.8 248.5h.7M207.5 258.9h.7M210.3 258.5h.7M207.4 268.6h.7M189.3 274.9h.7M204.3 265.1h.7M203.4 270.1h.7M206.9 273.5h.7M203.1 263.9h.7M205.6 264.0h.7M204.2 268.0h.7M219.1 254.9h.7M206.9 261.1h.7M198.0 267.6h.7M181.3 260.4h.7M194.9 275.2h.7M171.2 274.1h.7M202.9 261.0h.7M195.2 272.1h.7M187.4 268.8h.7M215.9 260.2h.7M187.2 274.6h.7M202.4 254.0h.7M171.2 276.6h.7M219.2 277.9h.7M181.2 258.4h.7M191.0 265.0h.7M199.4 264.8h.7M219.0 255.2h.7M171.2 281.6h.7M208.3 268.2h.7M178.7 260.5h.7M217.0 263.6h.7M214.0 269.4h.7M208.1 271.9h.7M203.3 266.6h.7M194.5 266.8h.7M215.3 269.6h.7M198.4 262.2h.7M174.3 265.8h.7M189.6 275.6h.7M185.6 263.1h.7M180.9 277.4h.7M197.1 271.2h.7M204.8 270.8h.7M217.5 259.8h.7M191.1 262.7h.7M186.8 278.8h.7M208.2 276.6h.7M199.8 271.5h.7M207.9 271.0h.7M217.3 261.3h.7M213.9 263.8h.7M193.8 263.5h.7M200.2 263.0h.7M204.3 266.9h.7M175.8 263.4h.7M203.0 269.4h.7M175.2 274.3h.7M201.5 268.9h.7M183.2 273.5h.7M202.1 264.1h.7M185.0 263.6h.7M214.1 268.5h.7M171.4 277.1h.7M211.8 255.3h.7M190.7 254.6h.7M220.8 262.0h.7M221.3 253.6h.7M183.9 269.3h.7M202.3 252.1h.7M188.8 252.1h.7M200.1 258.5h.7M170.5 259.7h.7M214.5 266.1h.7M174.7 268.2h.7M172.6 282.1h.7M217.2 260.0h.7M203.4 264.2h.7M220.8 254.8h.7M191.9 264.3h.7M181.4 258.2h.7M201.7 258.1h.7" stroke="#000" stroke-width="0.7" fill="none" opacity="0.8"/>
<path d="M241.9 265.7h.7M239.3 264.1h.7M239.0 267.5h.7M239.1 263.4h.7M242.2 262.7h.7M241.4 267.9h.7M242.8 265.0h.7M240.9 266.2h.7M240.8 266.5h.7M243.7 259.8h.7M241.7 266.6h.7M237.3 268.0h.7M246.4 265.1h.7M241.6 265.5h.7M241.1 266.6h.7M242.8 266.4h.7M240.9 263.2h.7M241.0 264.7h.7M242.4 264.1h.7M240.8 262.1h.7M237.2 266.0h.7M238.7 264.1h.7M238.5 266.9h.7M242.9 264.1h.7M237.5 264.6h.7M240.5 264.2h.7M241.1 264.5h.7M243.7 264.2h.7M242.2 264.9h.7M237.0 268.3h.7M242.3 267.3h.7M243.3 265.2h.7M243.4 263.9h.7M240.9 267.9h.7M241.5 264.9h.7M238.8 269.0h.7M242.4 266.8h.7M236.4 265.4h.7M239.8 261.7h.7M240.5 264.5h.7M240.8 263.4h.7M238.7 268.1h.7M238.4 262.7h.7M240.8 267.1h.7M240.9 266.2h.7M240.0 269.0h.7M243.3 265.4h.7M237.0 268.2h.7M238.5 272.4h.7M239.8 262.5h.7M239.8 266.5h.7M239.0 268.0h.7M236.7 263.3h.7M238.2 262.5h.7M243.5 265.4h.7M240.6 266.0h.7M241.5 264.0h.7M238.2 264.8h.7M240.4 266.6h.7M238.5 263.9h.7M244.0 263.6h.7M244.3 266.2h.7M239.3 261.6h.7M238.9 264.9h.7M241.5 263.4h.7M237.0 266.4h.7M240.8 263.7h.7M243.8 262.5h.7M245.0 263.0h.7M239.7 264.1h.7M240.2 263.8h.7M234.0 266.2h.7M239.7 261.7h.7M241.6 271.4h.7M237.7 270.1h.7M247.0 259.1h.7M234.7 263.9h.7M233.0 270.7h.7M232.5 265.3h.7M244.1 264.2h.7M245.1 266.5h.7M238.0 265.9h.7M233.5 259.6h.7M232.7 265.6h.7M237.0 266.4h.7M239.4 268.7h.7M242.8 267.6h.7M229.5 260.7h.7M238.1 255.9h.7M244.3 262.1h.7M235.5 272.0h.7M244.6 262.8h.7M235.7 267.5h.7M235.3 269.8h.7M237.7 264.0h.7M242.6 267.3h.7M241.7 265.7h.7M237.9 262.2h.7M241.4 263.2h.7M237.0 263.8h.7M240.2 266.1h.7M235.8 265.7h.7M236.0 272.2h.7M229.3 261.2h.7M232.9 256.0h.7M231.7 266.1h.7M239.2 272.1h.7M235.0 260.8h.7M241.0 262.9h.7M243.7 263.2h.7M241.4 262.0h.7M240.9 258.9h.7M235.7 264.0h.7M247.2 265.4h.7M250.1 267.2h.7M234.8 259.9h.7M238.9 258.6h.7M242.1 270.9h.7M246.4 263.0h.7M237.1 268.1h.7M240.7 276.0h.7M239.0 266.8h.7M233.7 258.0h.7M239.3 265.2h.7M239.8 269.2h.7M239.0 262.9h.7M239.9 256.6h.7M239.2 275.7h.7M235.3 266.0h.7M238.4 269.5h.7M246.8 267.2h.7M233.4 274.1h.7M227.4 270.1h.7M235.8 273.8h.7M244.4 264.3h.7M242.8 266.8h.7M243.1 265.8h.7M228.5 270.4h.7M229.7 263.6h.7M240.3 267.6h.7M233.0 267.0h.7M236.0 270.7h.7M236.8 267.1h.7M241.1 270.6h.7M240.7 266.4h.7M242.7 261.3h.7M246.1 261.0h.7M236.3 272.9h.7M242.3 264.6h.7M232.0 266.5h.7M237.6 274.9h.7M241.7 272.7h.7M236.8 259.8h.7M239.6 271.3h.7M238.5 276.3h.7M236.3 266.3h.7M232.8 277.1h.7M235.5 269.3h.7M233.9 273.3h.7M241.4 264.3h.7M245.9 266.4h.7M239.4 259.3h.7M244.6 269.8h.7M241.7 262.4h.7M235.6 267.3h.7M245.3 269.6h.7M244.1 264.6h.7M250.3 265.8h.7M241.5 262.5h.7M236.9 268.1h.7M238.7 262.7h.7M236.4 268.6h.7M244.4 262.8h.7M246.2 267.5h.7M244.3 257.8h.7M237.7 267.6h.7M247.5 263.3h.7M232.9 274.2h.7M240.5 264.5h.7M250.6 257.6h.7M237.6 258.8h.7M244.3 261.0h.7M238.3 265.2h.7M233.6 268.2h.7M242.3 267.8h.7M232.1 268.0h.7M241.9 260.2h.7M245.9 262.8h.7M238.6 259.7h.7M242.7 267.5h.7M242.7 271.2h.7M232.0 260.5h.7M242.1 271.3h.7M237.9 267.5h.7M235.7 263.6h.7M246.6 260.2h.7M229.2 267.1h.7M240.0 262.1h.7M246.3 275.1h.7M244.9 261.0h.7M242.1 263.3h.7M239.2 267.8h.7M247.8 262.0h.7M235.1 266.3h.7M237.1 267.6h.7M238.4 265.7h.7M242.3 260.5h.7M240.1 273.6h.7M235.9 261.6h.7M245.2 263.1h.7M248.2 264.3h.7M234.1 262.9h.7M234.4 262.7h.7M231.2 264.6h.7M235.1 268.6h.7M242.1 263.6h.7M244.7 262.0h.7M246.2 262.2h.7M243.0 268.8h.7M234.7 258.5h.7M235.5 272.2h.7M231.9 259.0h.7M233.9 259.2h.7M234.9 258.9h.7M232.1 269.0h.7M236.7 255.6h.7M230.7 262.9h.7M231.0 263.3h.7M236.9 254.0h.7M235.1 253.8h.7M235.1 269.7h.7M230.1 251.6h.7M230.8 269.4h.7M231.7 263.8h.7M236.7 267.2h.7M235.7 256.2h.7M232.3 262.6h.7M230.0 255.4h.7M235.7 250.9h.7M233.1 248.7h.7M230.8 272.9h.7M234.1 254.9h.7M236.9 255.9h.7M230.0 272.6h.7M233.5 258.0h.7M230.4 262.5h.7M235.4 266.3h.7M235.7 250.7h.7M231.4 267.2h.7M231.3 261.7h.7M236.2 254.7h.7M232.4 271.6h.7M234.1 255.7h.7M237.3 254.9h.7M233.4 263.3h.7M232.9 271.7h.7M233.6 261.6h.7M234.5 263.1h.7M235.0 268.5h.7" stroke="#000" stroke-width="0.7" fill="none" opacity="0.5"/>
<rect x="169.9" y="243.3" width="97.2" height="100.4" fill="none" stroke="#666" stroke-width="0.75"/>
<path d="M224.5 243.3V343.7M169.9 281.5H267.1" stroke="#6a6a6a" stroke-width="0.7" fill="none"/>
<text x="171.1" y="352.6" font-size="4.5" text-anchor="middle" fill-opacity="0.9">10<tspan font-size="3.8" dy="-1.5">0</tspan></text>
<text x="167" y="345.7" font-size="4.5" text-anchor="end" fill-opacity="0.9">10<tspan font-size="3.8" dy="-1.5">0</tspan></text>
<text x="195.4" y="352.6" font-size="4.5" text-anchor="middle" fill-opacity="0.9">10<tspan font-size="3.8" dy="-1.5">1</tspan></text>
<text x="167" y="320.6" font-size="4.5" text-anchor="end" fill-opacity="0.9">10<tspan font-size="3.8" dy="-1.5">1</tspan></text>
<text x="219.7" y="352.6" font-size="4.5" text-anchor="middle" fill-opacity="0.9">10<tspan font-size="3.8" dy="-1.5">2</tspan></text>
<text x="167" y="295.5" font-size="4.5" text-anchor="end" fill-opacity="0.9">10<tspan font-size="3.8" dy="-1.5">2</tspan></text>
<text x="244" y="352.6" font-size="4.5" text-anchor="middle" fill-opacity="0.9">10<tspan font-size="3.8" dy="-1.5">3</tspan></text>
<text x="167" y="270.4" font-size="4.5" text-anchor="end" fill-opacity="0.9">10<tspan font-size="3.8" dy="-1.5">3</tspan></text>
<text x="268.3" y="352.6" font-size="4.5" text-anchor="middle" fill-opacity="0.9">10<tspan font-size="3.8" dy="-1.5">4</tspan></text>
<text x="167" y="245.3" font-size="4.5" text-anchor="end" fill-opacity="0.9">10<tspan font-size="3.8" dy="-1.5">4</tspan></text>
<path d="M169.9 343.7v2M169.9 343.7h-2M194.2 343.7v2M169.9 318.6h-2M218.5 343.7v2M169.9 293.5h-2M242.8 343.7v2M169.9 268.4h-2M267.1 343.7v2M169.9 243.3h-2" stroke="#333" stroke-width="0.6"/>
<path d="M177.2 343.7v1.3M169.9 336.1h-1.3M181.5 343.7v1.3M169.9 331.7h-1.3M184.5 343.7v1.3M169.9 328.6h-1.3M186.9 343.7v1.3M169.9 326.2h-1.3M188.8 343.7v1.3M169.9 324.2h-1.3M190.4 343.7v1.3M169.9 322.5h-1.3M191.8 343.7v1.3M169.9 321.0h-1.3M193.1 343.7v1.3M169.9 319.7h-1.3M201.5 343.7v1.3M169.9 311.0h-1.3M205.8 343.7v1.3M169.9 306.6h-1.3M208.8 343.7v1.3M169.9 303.5h-1.3M211.2 343.7v1.3M169.9 301.1h-1.3M213.1 343.7v1.3M169.9 299.1h-1.3M214.7 343.7v1.3M169.9 297.4h-1.3M216.1 343.7v1.3M169.9 295.9h-1.3M217.4 343.7v1.3M169.9 294.6h-1.3M225.8 343.7v1.3M169.9 285.9h-1.3M230.1 343.7v1.3M169.9 281.5h-1.3M233.1 343.7v1.3M169.9 278.4h-1.3M235.5 343.7v1.3M169.9 276.0h-1.3M237.4 343.7v1.3M169.9 274.0h-1.3M239.0 343.7v1.3M169.9 272.3h-1.3M240.4 343.7v1.3M169.9 270.8h-1.3M241.7 343.7v1.3M169.9 269.5h-1.3M250.1 343.7v1.3M169.9 260.8h-1.3M254.4 343.7v1.3M169.9 256.4h-1.3M257.4 343.7v1.3M169.9 253.3h-1.3M259.8 343.7v1.3M169.9 250.9h-1.3M261.7 343.7v1.3M169.9 248.9h-1.3M263.3 343.7v1.3M169.9 247.2h-1.3M264.7 343.7v1.3M169.9 245.7h-1.3M266.0 343.7v1.3M169.9 244.4h-1.3" stroke="#555" stroke-width="0.45"/>
<text x="264.8" y="252.4" font-size="9.2" text-anchor="end">2.9</text>
<text transform="translate(289.8 223) scale(1.0 1)" font-size="16.5" class="b" stroke="#000" stroke-width="0.35">E</text>
<text x="329.7" y="222.7" font-size="10">EGFP-foxp3<tspan font-size="9.8" dy="-1.9">+</tspan></text>
<path d="M329.4 240.25L329.4 364.75" stroke="#000" stroke-width="1.3" fill="none"/>
<path d="M326.2 364.1L396.3 364.1" stroke="#000" stroke-width="1.3" fill="none"/>
<text x="323.7" y="367" font-size="8.7" class="s" text-anchor="end">0</text>
<path d="M326.2 339.45L329.4 339.45" stroke="#000" stroke-width="1.3" fill="none"/>
<text x="323.7" y="342.35" font-size="8.7" class="s" text-anchor="end">0.5</text>
<path d="M326.2 314.8L329.4 314.8" stroke="#000" stroke-width="1.3" fill="none"/>
<text x="323.7" y="317.7" font-size="8.7" class="s" text-anchor="end">1</text>
<path d="M326.2 290.15L329.4 290.15" stroke="#000" stroke-width="1.3" fill="none"/>
<text x="323.7" y="293.05" font-size="8.7" class="s" text-anchor="end">1.5</text>
<path d="M326.2 265.5L329.4 265.5" stroke="#000" stroke-width="1.3" fill="none"/>
<text x="323.7" y="268.4" font-size="8.7" class="s" text-anchor="end">2</text>
<path d="M326.2 240.85L329.4 240.85" stroke="#000" stroke-width="1.3" fill="none"/>
<text x="323.7" y="243.75" font-size="8.7" class="s" text-anchor="end">2.5</text>
<text transform="translate(302 301.2) rotate(-90)" font-size="10.2" class="sb" text-anchor="middle">Percent Positive</text>
<rect x="335.7" y="346.5" width="28" height="17.6" fill="#000"/>
<rect x="363.35" y="283.37" width="26.28" height="80.73" fill="#fff" stroke="#000" stroke-width="1.15"/>
<path d="M349.6 343.9L349.6 345.3" stroke="#000" stroke-width="1.1" fill="none"/>
<path d="M347 343.9L352.2 343.9" stroke="#000" stroke-width="1.4" fill="none"/>
<path d="M376.1 257.7L376.1 281" stroke="#000" stroke-width="1.1" fill="none"/>
<path d="M373.2 257.7L379 257.7" stroke="#000" stroke-width="1.4" fill="none"/>
<path d="M348.75 290L348.75 245.1L375.3 245.1L375.3 251.8" stroke="#000" stroke-width="1.0" fill="none"/>
<text x="363.1" y="246.3" font-size="12" class="sb" text-anchor="middle">*</text>
<text transform="translate(416.2 223) scale(1.0 1)" font-size="16.5" class="b" stroke="#000" stroke-width="0.35">F</text>
<text x="452.3" y="222.7" font-size="10">EGFP-foxp3<tspan font-size="9.8" dy="-1.9">+</tspan></text>
<path d="M454.2 239.95L454.2 365.15" stroke="#000" stroke-width="1.3" fill="none"/>
<path d="M451 364.5L521 364.5" stroke="#000" stroke-width="1.3" fill="none"/>
<text x="448.5" y="367.4" font-size="8.7" class="s" text-anchor="end">0</text>
<path d="M451 339.7L454.2 339.7" stroke="#000" stroke-width="1.3" fill="none"/>
<text x="448.5" y="342.6" font-size="8.7" class="s" text-anchor="end">0.5</text>
<path d="M451 314.9L454.2 314.9" stroke="#000" stroke-width="1.3" fill="none"/>
<text x="448.5" y="317.8" font-size="8.7" class="s" text-anchor="end">1</text>
<path d="M451 290.1L454.2 290.1" stroke="#000" stroke-width="1.3" fill="none"/>
<text x="448.5" y="293" font-size="8.7" class="s" text-anchor="end">1.5</text>
<path d="M451 265.3L454.2 265.3" stroke="#000" stroke-width="1.3" fill="none"/>
<text x="448.5" y="268.2" font-size="8.7" class="s" text-anchor="end">2</text>
<path d="M451 240.5L454.2 240.5" stroke="#000" stroke-width="1.3" fill="none"/>
<text x="448.5" y="243.4" font-size="8.7" class="s" text-anchor="end">2.5</text>
<text transform="translate(428.8 301.8) rotate(-90)" font-size="10.2" class="sb" text-anchor="middle">Cell Number (x 10<tspan font-size="8.8" dy="-2">4</tspan><tspan dy="2">)</tspan></text>
<rect x="460.2" y="353" width="27.3" height="11.5" fill="#000"/>
<rect x="487.15" y="269.57" width="26.67" height="94.92" fill="#fff" stroke="#000" stroke-width="1.15"/>
<path d="M474.2 350.3L474.2 351.5" stroke="#000" stroke-width="1.1" fill="none"/>
<path d="M471.4 350.3L477 350.3" stroke="#000" stroke-width="1.4" fill="none"/>
<path d="M500.6 250.6L500.6 267.5" stroke="#000" stroke-width="1.1" fill="none"/>
<path d="M497.9 250.6L503.3 250.6" stroke="#000" stroke-width="1.4" fill="none"/>
<path d="M474.3 285L474.3 240L500.3 240L500.3 246.3" stroke="#000" stroke-width="1.0" fill="none"/>
<text x="488.1" y="239.8" font-size="11" class="sb" text-anchor="middle">**</text>
</svg></body></html>
